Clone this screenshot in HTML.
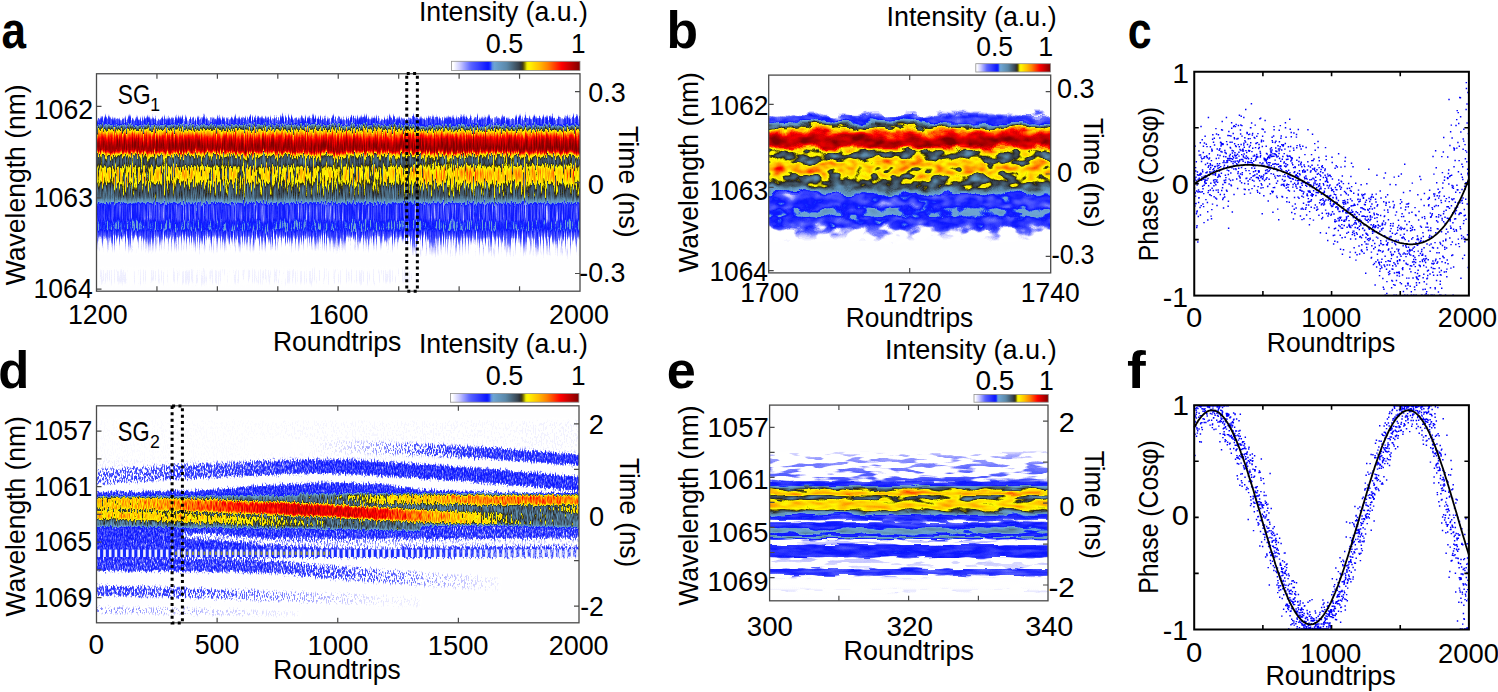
<!DOCTYPE html><html><head><meta charset="utf-8"><style>html,body{margin:0;padding:0;background:#fff;overflow:hidden}svg{display:block}</style></head><body><svg width="1498" height="692" viewBox="0 0 1498 692" font-family="'Liberation Sans', sans-serif"><rect width="100%" height="100%" fill="#fff"/><defs><linearGradient id="gA1" x1="0" y1="0" x2="0" y2="1"><stop offset="0.0777" stop-color="rgb(0,0,0)"/><stop offset="0.2360" stop-color="rgb(0,0,0)"/><stop offset="0.2399" stop-color="rgb(10,10,10)"/><stop offset="0.2476" stop-color="rgb(38,38,38)"/><stop offset="0.2534" stop-color="rgb(66,66,66)"/><stop offset="0.2593" stop-color="rgb(71,71,71)"/><stop offset="0.2709" stop-color="rgb(71,71,71)"/><stop offset="0.2768" stop-color="rgb(84,84,84)"/><stop offset="0.2826" stop-color="rgb(112,112,112)"/><stop offset="0.2884" stop-color="rgb(128,128,128)"/><stop offset="0.2942" stop-color="rgb(143,143,143)"/><stop offset="0.2981" stop-color="rgb(153,153,153)"/><stop offset="0.3039" stop-color="rgb(168,168,168)"/><stop offset="0.3156" stop-color="rgb(199,199,199)"/><stop offset="0.3311" stop-color="rgb(224,224,224)"/><stop offset="0.3467" stop-color="rgb(240,240,240)"/><stop offset="0.3622" stop-color="rgb(247,247,247)"/><stop offset="0.3758" stop-color="rgb(237,237,237)"/><stop offset="0.3836" stop-color="rgb(204,204,204)"/><stop offset="0.3894" stop-color="rgb(168,168,168)"/><stop offset="0.3952" stop-color="rgb(150,150,150)"/><stop offset="0.4010" stop-color="rgb(138,138,138)"/><stop offset="0.4088" stop-color="rgb(130,130,130)"/><stop offset="0.4244" stop-color="rgb(128,128,128)"/><stop offset="0.4341" stop-color="rgb(135,135,135)"/><stop offset="0.4438" stop-color="rgb(148,148,148)"/><stop offset="0.4593" stop-color="rgb(156,156,156)"/><stop offset="0.4904" stop-color="rgb(153,153,153)"/><stop offset="0.5040" stop-color="rgb(143,143,143)"/><stop offset="0.5137" stop-color="rgb(135,135,135)"/><stop offset="0.5292" stop-color="rgb(130,130,130)"/><stop offset="0.5487" stop-color="rgb(128,128,128)"/><stop offset="0.5603" stop-color="rgb(120,120,120)"/><stop offset="0.5700" stop-color="rgb(102,102,102)"/><stop offset="0.5797" stop-color="rgb(82,82,82)"/><stop offset="0.5875" stop-color="rgb(71,71,71)"/><stop offset="0.6419" stop-color="rgb(71,71,71)"/><stop offset="0.6535" stop-color="rgb(80,80,80)"/><stop offset="0.6807" stop-color="rgb(82,82,82)"/><stop offset="0.6924" stop-color="rgb(71,71,71)"/><stop offset="0.7079" stop-color="rgb(64,64,64)"/><stop offset="0.7234" stop-color="rgb(43,43,43)"/><stop offset="0.7429" stop-color="rgb(20,20,20)"/><stop offset="0.7623" stop-color="rgb(8,8,8)"/><stop offset="0.7778" stop-color="rgb(0,0,0)"/><stop offset="0.8283" stop-color="rgb(0,0,0)"/><stop offset="0.8439" stop-color="rgb(7,7,7)"/><stop offset="0.8827" stop-color="rgb(8,8,8)"/><stop offset="0.9060" stop-color="rgb(0,0,0)"/><stop offset="0.9223" stop-color="rgb(0,0,0)"/></linearGradient>
<linearGradient id="gA2" x1="0" y1="0" x2="0" y2="1"><stop offset="0.0777" stop-color="rgb(0,0,0)"/><stop offset="0.2340" stop-color="rgb(0,0,0)"/><stop offset="0.2379" stop-color="rgb(10,10,10)"/><stop offset="0.2457" stop-color="rgb(38,38,38)"/><stop offset="0.2515" stop-color="rgb(66,66,66)"/><stop offset="0.2573" stop-color="rgb(71,71,71)"/><stop offset="0.2709" stop-color="rgb(71,71,71)"/><stop offset="0.2787" stop-color="rgb(84,84,84)"/><stop offset="0.2845" stop-color="rgb(112,112,112)"/><stop offset="0.2903" stop-color="rgb(128,128,128)"/><stop offset="0.2962" stop-color="rgb(143,143,143)"/><stop offset="0.3001" stop-color="rgb(153,153,153)"/><stop offset="0.3059" stop-color="rgb(171,171,171)"/><stop offset="0.3175" stop-color="rgb(204,204,204)"/><stop offset="0.3331" stop-color="rgb(230,230,230)"/><stop offset="0.3506" stop-color="rgb(242,242,242)"/><stop offset="0.3661" stop-color="rgb(250,250,250)"/><stop offset="0.3777" stop-color="rgb(237,237,237)"/><stop offset="0.3855" stop-color="rgb(204,204,204)"/><stop offset="0.3913" stop-color="rgb(168,168,168)"/><stop offset="0.3972" stop-color="rgb(150,150,150)"/><stop offset="0.4030" stop-color="rgb(138,138,138)"/><stop offset="0.4108" stop-color="rgb(130,130,130)"/><stop offset="0.4244" stop-color="rgb(130,130,130)"/><stop offset="0.4341" stop-color="rgb(143,143,143)"/><stop offset="0.4438" stop-color="rgb(158,158,158)"/><stop offset="0.4593" stop-color="rgb(171,171,171)"/><stop offset="0.4865" stop-color="rgb(168,168,168)"/><stop offset="0.5001" stop-color="rgb(153,153,153)"/><stop offset="0.5098" stop-color="rgb(140,140,140)"/><stop offset="0.5253" stop-color="rgb(133,133,133)"/><stop offset="0.5487" stop-color="rgb(130,130,130)"/><stop offset="0.5603" stop-color="rgb(120,120,120)"/><stop offset="0.5700" stop-color="rgb(102,102,102)"/><stop offset="0.5797" stop-color="rgb(82,82,82)"/><stop offset="0.5875" stop-color="rgb(71,71,71)"/><stop offset="0.6419" stop-color="rgb(71,71,71)"/><stop offset="0.6535" stop-color="rgb(80,80,80)"/><stop offset="0.6807" stop-color="rgb(82,82,82)"/><stop offset="0.6924" stop-color="rgb(71,71,71)"/><stop offset="0.7118" stop-color="rgb(61,61,61)"/><stop offset="0.7312" stop-color="rgb(41,41,41)"/><stop offset="0.7545" stop-color="rgb(20,20,20)"/><stop offset="0.7778" stop-color="rgb(8,8,8)"/><stop offset="0.7972" stop-color="rgb(0,0,0)"/><stop offset="0.9223" stop-color="rgb(0,0,0)"/></linearGradient>
<filter id="fA" x="0" y="0" width="1" height="1" color-interpolation-filters="sRGB">
<feTurbulence type="fractalNoise" baseFrequency="0.9 0.03" numOctaves="2" seed="3" result="t"/>
<feColorMatrix in="t" type="matrix" values="0 0 0 0 0.5  1 0 0 0 0  0 0 0 0 0.5  0 0 0 0 1" result="dm"/>
<feDisplacementMap in="SourceGraphic" in2="dm" scale="9" xChannelSelector="B" yChannelSelector="G" result="d"/>
<feTurbulence type="fractalNoise" baseFrequency="0.9 0.06" numOctaves="2" seed="10" result="n"/>
<feColorMatrix in="n" type="matrix" values="1 0 0 0 0  1 0 0 0 0  1 0 0 0 0  0 0 0 0 1" result="ng"/>
<feComponentTransfer in="d" result="g"><feFuncR type="table" tableValues="0.000 0.003 0.005 0.008 0.010 0.012 0.015 0.018 0.020 0.023 0.026 0.029 0.033 0.037 0.042 0.046 0.050 0.055 0.060 0.065 0.070 0.087 0.103 0.118 0.130 0.128 0.125 0.122 0.120 0.112 0.103 0.095 0.087 0.078 0.070 0.068 0.067 0.065 0.063 0.062 0.060"/><feFuncG type="table" tableValues="0.000 0.003 0.005 0.008 0.010 0.012 0.015 0.018 0.020 0.023 0.026 0.029 0.033 0.037 0.042 0.046 0.050 0.055 0.060 0.065 0.070 0.087 0.103 0.118 0.130 0.128 0.125 0.122 0.120 0.112 0.103 0.095 0.087 0.078 0.070 0.068 0.067 0.065 0.063 0.062 0.060"/><feFuncB type="table" tableValues="0.000 0.003 0.005 0.008 0.010 0.012 0.015 0.018 0.020 0.023 0.026 0.029 0.033 0.037 0.042 0.046 0.050 0.055 0.060 0.065 0.070 0.087 0.103 0.118 0.130 0.128 0.125 0.122 0.120 0.112 0.103 0.095 0.087 0.078 0.070 0.068 0.067 0.065 0.063 0.062 0.060"/></feComponentTransfer>
<feComposite in="g" in2="ng" operator="arithmetic" k1="2.0" k2="-1.0" k3="0" k4="0.5" result="A"/>
<feComposite in="d" in2="A" operator="arithmetic" k1="0" k2="1" k3="2" k4="-1" result="m"/>
<feTurbulence type="fractalNoise" baseFrequency="0.9 0.03" numOctaves="2" seed="16" result="n2"/>
<feColorMatrix in="n2" type="matrix" values="1 0 0 0 0  1 0 0 0 0  1 0 0 0 0  0 0 0 0 1" result="ng2a"/>
<feComponentTransfer in="ng2a" result="ng2"><feFuncR type="table" tableValues="0 0.12 0.3 0.5 0.5 0.5"/><feFuncG type="table" tableValues="0 0.12 0.3 0.5 0.5 0.5"/><feFuncB type="table" tableValues="0 0.12 0.3 0.5 0.5 0.5"/></feComponentTransfer>
<feComponentTransfer in="d" result="g2"><feFuncR type="table" tableValues="0.000 0.050 0.100 0.150 0.200 0.212 0.225 0.238 0.250 0.209 0.169 0.128 0.086 0.043 0.000 0.000 0.000 0.000 0.000 0.000 0.000 0.000 0.000 0.000 0.000 0.000 0.000 0.000 0.000 0.000 0.000 0.000 0.000 0.000 0.000 0.000 0.000 0.000 0.000 0.000 0.000"/><feFuncG type="table" tableValues="0.000 0.050 0.100 0.150 0.200 0.212 0.225 0.238 0.250 0.209 0.169 0.128 0.086 0.043 0.000 0.000 0.000 0.000 0.000 0.000 0.000 0.000 0.000 0.000 0.000 0.000 0.000 0.000 0.000 0.000 0.000 0.000 0.000 0.000 0.000 0.000 0.000 0.000 0.000 0.000 0.000"/><feFuncB type="table" tableValues="0.000 0.050 0.100 0.150 0.200 0.212 0.225 0.238 0.250 0.209 0.169 0.128 0.086 0.043 0.000 0.000 0.000 0.000 0.000 0.000 0.000 0.000 0.000 0.000 0.000 0.000 0.000 0.000 0.000 0.000 0.000 0.000 0.000 0.000 0.000 0.000 0.000 0.000 0.000 0.000 0.000"/></feComponentTransfer>
<feComposite in="g2" in2="ng2" operator="arithmetic" k1="2.0" k2="-1.0" k3="0" k4="0.5" result="A2"/>
<feComposite in="m" in2="A2" operator="arithmetic" k1="0" k2="1" k3="2" k4="-1" result="m2"/>
<feComponentTransfer in="m2"><feFuncR type="table" tableValues="1.000 1.000 0.998 0.967 0.936 0.906 0.875 0.844 0.814 0.783 0.741 0.698 0.656 0.614 0.572 0.530 0.488 0.446 0.403 0.361 0.338 0.320 0.302 0.284 0.266 0.248 0.229 0.211 0.193 0.175 0.157 0.139 0.121 0.102 0.084 0.066 0.048 0.057 0.090 0.124 0.264 0.408 0.434 0.428 0.422 0.416 0.409 0.403 0.397 0.391 0.384 0.378 0.372 0.366 0.359 0.353 0.342 0.331 0.320 0.309 0.298 0.287 0.276 0.265 0.254 0.243 0.231 0.220 0.209 0.182 0.139 0.256 0.404 0.563 0.730 0.908 1.000 1.000 1.000 1.000 1.000 1.000 1.000 1.000 1.000 1.000 1.000 1.000 1.000 1.000 1.000 1.000 1.000 1.000 1.000 1.000 1.000 1.000 1.000 1.000 1.000 1.000 1.000 1.000 1.000 1.000 1.000 1.000 1.000 1.000 0.988 0.961 0.934 0.907 0.880 0.853 0.826 0.799 0.772 0.745 0.718 0.691 0.664 0.637 0.610 0.583 0.556 0.529 0.502"/><feFuncG type="table" tableValues="1.000 1.000 0.998 0.967 0.936 0.906 0.875 0.844 0.814 0.783 0.744 0.706 0.668 0.630 0.591 0.553 0.515 0.476 0.438 0.400 0.378 0.359 0.341 0.323 0.305 0.287 0.269 0.251 0.232 0.214 0.196 0.178 0.160 0.142 0.123 0.105 0.087 0.113 0.181 0.248 0.431 0.618 0.652 0.643 0.634 0.624 0.615 0.606 0.597 0.588 0.579 0.570 0.561 0.552 0.543 0.534 0.512 0.490 0.468 0.446 0.423 0.401 0.379 0.357 0.335 0.312 0.290 0.268 0.246 0.203 0.142 0.234 0.366 0.529 0.705 0.899 0.990 0.968 0.947 0.925 0.904 0.882 0.861 0.840 0.818 0.797 0.775 0.754 0.726 0.698 0.670 0.642 0.614 0.586 0.558 0.530 0.502 0.465 0.428 0.391 0.354 0.317 0.280 0.243 0.206 0.169 0.132 0.095 0.058 0.021 0.000 0.000 0.000 0.000 0.000 0.000 0.000 0.000 0.000 0.000 0.000 0.000 0.000 0.000 0.000 0.000 0.000 0.000 0.000"/><feFuncB type="table" tableValues="1.000 1.000 1.000 1.000 1.000 1.000 1.000 1.000 1.000 1.000 1.000 1.000 1.000 1.000 1.000 1.000 1.000 1.000 1.000 1.000 1.000 1.000 1.000 1.000 1.000 1.000 1.000 1.000 1.000 1.000 1.000 1.000 1.000 1.000 1.000 1.000 1.000 1.000 1.000 1.000 0.933 0.862 0.836 0.823 0.809 0.796 0.782 0.768 0.755 0.741 0.727 0.714 0.700 0.687 0.673 0.659 0.631 0.602 0.572 0.543 0.514 0.485 0.456 0.427 0.397 0.368 0.339 0.310 0.281 0.225 0.145 0.059 0.000 0.000 0.000 0.000 0.000 0.000 0.000 0.000 0.000 0.000 0.000 0.000 0.000 0.000 0.000 0.000 0.000 0.000 0.000 0.000 0.000 0.000 0.000 0.000 0.000 0.000 0.000 0.000 0.000 0.000 0.000 0.000 0.000 0.000 0.000 0.000 0.000 0.000 0.000 0.000 0.000 0.000 0.000 0.000 0.000 0.000 0.000 0.000 0.000 0.000 0.000 0.000 0.000 0.000 0.000 0.000 0.000"/><feFuncA type="linear" slope="0" intercept="1"/></feComponentTransfer>
</filter>
<clipPath id="cA"><rect x="96.5" y="73.75" width="483.50" height="217.45"/></clipPath>
<linearGradient id="gB" x1="0" y1="0" x2="0" y2="1"><stop offset="0.0841" stop-color="rgb(0,0,0)"/><stop offset="0.2351" stop-color="rgb(0,0,0)"/><stop offset="0.2414" stop-color="rgb(13,13,13)"/><stop offset="0.2519" stop-color="rgb(46,46,46)"/><stop offset="0.2603" stop-color="rgb(69,69,69)"/><stop offset="0.2771" stop-color="rgb(71,71,71)"/><stop offset="0.2855" stop-color="rgb(89,89,89)"/><stop offset="0.2939" stop-color="rgb(122,122,122)"/><stop offset="0.3024" stop-color="rgb(138,138,138)"/><stop offset="0.3087" stop-color="rgb(153,153,153)"/><stop offset="0.3150" stop-color="rgb(171,171,171)"/><stop offset="0.3234" stop-color="rgb(199,199,199)"/><stop offset="0.3360" stop-color="rgb(224,224,224)"/><stop offset="0.3570" stop-color="rgb(242,242,242)"/><stop offset="0.3780" stop-color="rgb(242,242,242)"/><stop offset="0.3886" stop-color="rgb(212,212,212)"/><stop offset="0.3970" stop-color="rgb(163,163,163)"/><stop offset="0.4033" stop-color="rgb(145,145,145)"/><stop offset="0.4117" stop-color="rgb(135,135,135)"/><stop offset="0.4285" stop-color="rgb(133,133,133)"/><stop offset="0.4390" stop-color="rgb(145,145,145)"/><stop offset="0.4537" stop-color="rgb(163,163,163)"/><stop offset="0.4748" stop-color="rgb(171,171,171)"/><stop offset="0.4958" stop-color="rgb(161,161,161)"/><stop offset="0.5084" stop-color="rgb(145,145,145)"/><stop offset="0.5252" stop-color="rgb(135,135,135)"/><stop offset="0.5505" stop-color="rgb(133,133,133)"/><stop offset="0.5631" stop-color="rgb(120,120,120)"/><stop offset="0.5757" stop-color="rgb(92,92,92)"/><stop offset="0.5883" stop-color="rgb(71,71,71)"/><stop offset="0.6346" stop-color="rgb(71,71,71)"/><stop offset="0.6472" stop-color="rgb(82,82,82)"/><stop offset="0.6766" stop-color="rgb(84,84,84)"/><stop offset="0.6892" stop-color="rgb(71,71,71)"/><stop offset="0.7187" stop-color="rgb(69,69,69)"/><stop offset="0.7355" stop-color="rgb(46,46,46)"/><stop offset="0.7607" stop-color="rgb(20,20,20)"/><stop offset="0.7817" stop-color="rgb(0,0,0)"/><stop offset="0.9159" stop-color="rgb(0,0,0)"/></linearGradient>
<filter id="fB" x="0" y="0" width="1" height="1" color-interpolation-filters="sRGB">
<feTurbulence type="fractalNoise" baseFrequency="0.05 0.06" numOctaves="2" seed="11" result="t"/>
<feColorMatrix in="t" type="matrix" values="0 0 0 0 0.5  1 0 0 0 0  0 0 0 0 0.5  0 0 0 0 1" result="dm"/>
<feDisplacementMap in="SourceGraphic" in2="dm" scale="12" xChannelSelector="B" yChannelSelector="G" result="d"/>
<feTurbulence type="fractalNoise" baseFrequency="0.07 0.12" numOctaves="2" seed="18" result="n"/>
<feColorMatrix in="n" type="matrix" values="1 0 0 0 0  1 0 0 0 0  1 0 0 0 0  0 0 0 0 1" result="ng"/>
<feComponentTransfer in="d" result="g"><feFuncR type="table" tableValues="0.000 0.004 0.007 0.011 0.015 0.019 0.023 0.026 0.030 0.036 0.042 0.049 0.052 0.054 0.056 0.058 0.060 0.065 0.070 0.075 0.080 0.097 0.113 0.128 0.140 0.135 0.130 0.125 0.120 0.113 0.107 0.100 0.093 0.087 0.080 0.077 0.073 0.070 0.067 0.063 0.060"/><feFuncG type="table" tableValues="0.000 0.004 0.007 0.011 0.015 0.019 0.023 0.026 0.030 0.036 0.042 0.049 0.052 0.054 0.056 0.058 0.060 0.065 0.070 0.075 0.080 0.097 0.113 0.128 0.140 0.135 0.130 0.125 0.120 0.113 0.107 0.100 0.093 0.087 0.080 0.077 0.073 0.070 0.067 0.063 0.060"/><feFuncB type="table" tableValues="0.000 0.004 0.007 0.011 0.015 0.019 0.023 0.026 0.030 0.036 0.042 0.049 0.052 0.054 0.056 0.058 0.060 0.065 0.070 0.075 0.080 0.097 0.113 0.128 0.140 0.135 0.130 0.125 0.120 0.113 0.107 0.100 0.093 0.087 0.080 0.077 0.073 0.070 0.067 0.063 0.060"/></feComponentTransfer>
<feComposite in="g" in2="ng" operator="arithmetic" k1="2.0" k2="-1.0" k3="0" k4="0.5" result="A"/>
<feComposite in="d" in2="A" operator="arithmetic" k1="0" k2="1" k3="2" k4="-1" result="m"/>
<feTurbulence type="fractalNoise" baseFrequency="0.06 0.1" numOctaves="2" seed="24" result="n2"/>
<feColorMatrix in="n2" type="matrix" values="1 0 0 0 0  1 0 0 0 0  1 0 0 0 0  0 0 0 0 1" result="ng2a"/>
<feComponentTransfer in="ng2a" result="ng2"><feFuncR type="table" tableValues="0 0.12 0.3 0.5 0.5 0.5"/><feFuncG type="table" tableValues="0 0.12 0.3 0.5 0.5 0.5"/><feFuncB type="table" tableValues="0 0.12 0.3 0.5 0.5 0.5"/></feComponentTransfer>
<feComponentTransfer in="d" result="g2"><feFuncR type="table" tableValues="0.000 0.050 0.100 0.150 0.200 0.205 0.210 0.215 0.220 0.183 0.145 0.108 0.071 0.036 0.000 0.000 0.000 0.000 0.000 0.000 0.000 0.000 0.000 0.000 0.000 0.000 0.000 0.000 0.000 0.000 0.000 0.000 0.000 0.000 0.000 0.000 0.000 0.000 0.000 0.000 0.000"/><feFuncG type="table" tableValues="0.000 0.050 0.100 0.150 0.200 0.205 0.210 0.215 0.220 0.183 0.145 0.108 0.071 0.036 0.000 0.000 0.000 0.000 0.000 0.000 0.000 0.000 0.000 0.000 0.000 0.000 0.000 0.000 0.000 0.000 0.000 0.000 0.000 0.000 0.000 0.000 0.000 0.000 0.000 0.000 0.000"/><feFuncB type="table" tableValues="0.000 0.050 0.100 0.150 0.200 0.205 0.210 0.215 0.220 0.183 0.145 0.108 0.071 0.036 0.000 0.000 0.000 0.000 0.000 0.000 0.000 0.000 0.000 0.000 0.000 0.000 0.000 0.000 0.000 0.000 0.000 0.000 0.000 0.000 0.000 0.000 0.000 0.000 0.000 0.000 0.000"/></feComponentTransfer>
<feComposite in="g2" in2="ng2" operator="arithmetic" k1="2.0" k2="-1.0" k3="0" k4="0.5" result="A2"/>
<feComposite in="m" in2="A2" operator="arithmetic" k1="0" k2="1" k3="2" k4="-1" result="m2"/>
<feComponentTransfer in="m2"><feFuncR type="table" tableValues="1.000 1.000 0.998 0.967 0.936 0.906 0.875 0.844 0.814 0.783 0.741 0.698 0.656 0.614 0.572 0.530 0.488 0.446 0.403 0.361 0.338 0.320 0.302 0.284 0.266 0.248 0.229 0.211 0.193 0.175 0.157 0.139 0.121 0.102 0.084 0.066 0.048 0.057 0.090 0.124 0.264 0.408 0.434 0.428 0.422 0.416 0.409 0.403 0.397 0.391 0.384 0.378 0.372 0.366 0.359 0.353 0.342 0.331 0.320 0.309 0.298 0.287 0.276 0.265 0.254 0.243 0.231 0.220 0.209 0.182 0.139 0.256 0.404 0.563 0.730 0.908 1.000 1.000 1.000 1.000 1.000 1.000 1.000 1.000 1.000 1.000 1.000 1.000 1.000 1.000 1.000 1.000 1.000 1.000 1.000 1.000 1.000 1.000 1.000 1.000 1.000 1.000 1.000 1.000 1.000 1.000 1.000 1.000 1.000 1.000 0.988 0.961 0.934 0.907 0.880 0.853 0.826 0.799 0.772 0.745 0.718 0.691 0.664 0.637 0.610 0.583 0.556 0.529 0.502"/><feFuncG type="table" tableValues="1.000 1.000 0.998 0.967 0.936 0.906 0.875 0.844 0.814 0.783 0.744 0.706 0.668 0.630 0.591 0.553 0.515 0.476 0.438 0.400 0.378 0.359 0.341 0.323 0.305 0.287 0.269 0.251 0.232 0.214 0.196 0.178 0.160 0.142 0.123 0.105 0.087 0.113 0.181 0.248 0.431 0.618 0.652 0.643 0.634 0.624 0.615 0.606 0.597 0.588 0.579 0.570 0.561 0.552 0.543 0.534 0.512 0.490 0.468 0.446 0.423 0.401 0.379 0.357 0.335 0.312 0.290 0.268 0.246 0.203 0.142 0.234 0.366 0.529 0.705 0.899 0.990 0.968 0.947 0.925 0.904 0.882 0.861 0.840 0.818 0.797 0.775 0.754 0.726 0.698 0.670 0.642 0.614 0.586 0.558 0.530 0.502 0.465 0.428 0.391 0.354 0.317 0.280 0.243 0.206 0.169 0.132 0.095 0.058 0.021 0.000 0.000 0.000 0.000 0.000 0.000 0.000 0.000 0.000 0.000 0.000 0.000 0.000 0.000 0.000 0.000 0.000 0.000 0.000"/><feFuncB type="table" tableValues="1.000 1.000 1.000 1.000 1.000 1.000 1.000 1.000 1.000 1.000 1.000 1.000 1.000 1.000 1.000 1.000 1.000 1.000 1.000 1.000 1.000 1.000 1.000 1.000 1.000 1.000 1.000 1.000 1.000 1.000 1.000 1.000 1.000 1.000 1.000 1.000 1.000 1.000 1.000 1.000 0.933 0.862 0.836 0.823 0.809 0.796 0.782 0.768 0.755 0.741 0.727 0.714 0.700 0.687 0.673 0.659 0.631 0.602 0.572 0.543 0.514 0.485 0.456 0.427 0.397 0.368 0.339 0.310 0.281 0.225 0.145 0.059 0.000 0.000 0.000 0.000 0.000 0.000 0.000 0.000 0.000 0.000 0.000 0.000 0.000 0.000 0.000 0.000 0.000 0.000 0.000 0.000 0.000 0.000 0.000 0.000 0.000 0.000 0.000 0.000 0.000 0.000 0.000 0.000 0.000 0.000 0.000 0.000 0.000 0.000 0.000 0.000 0.000 0.000 0.000 0.000 0.000 0.000 0.000 0.000 0.000 0.000 0.000 0.000 0.000 0.000 0.000 0.000 0.000"/><feFuncA type="linear" slope="0" intercept="1"/></feComponentTransfer>
</filter>
<clipPath id="cB"><rect x="768.7" y="75.1" width="282.00" height="197.80"/></clipPath>
<linearGradient id="gE" x1="0" y1="0" x2="0" y2="1"><stop offset="0.0849" stop-color="rgb(0,0,0)"/><stop offset="0.2796" stop-color="rgb(0,0,0)"/><stop offset="0.2860" stop-color="rgb(15,15,15)"/><stop offset="0.3093" stop-color="rgb(28,28,28)"/><stop offset="0.3390" stop-color="rgb(33,33,33)"/><stop offset="0.3687" stop-color="rgb(38,38,38)"/><stop offset="0.3941" stop-color="rgb(43,43,43)"/><stop offset="0.4069" stop-color="rgb(54,54,54)"/><stop offset="0.4132" stop-color="rgb(69,69,69)"/><stop offset="0.4260" stop-color="rgb(71,71,71)"/><stop offset="0.4302" stop-color="rgb(97,97,97)"/><stop offset="0.4366" stop-color="rgb(122,122,122)"/><stop offset="0.4429" stop-color="rgb(143,143,143)"/><stop offset="0.4493" stop-color="rgb(161,161,161)"/><stop offset="0.4578" stop-color="rgb(181,181,181)"/><stop offset="0.4641" stop-color="rgb(166,166,166)"/><stop offset="0.4684" stop-color="rgb(143,143,143)"/><stop offset="0.4748" stop-color="rgb(128,128,128)"/><stop offset="0.4811" stop-color="rgb(133,133,133)"/><stop offset="0.4875" stop-color="rgb(148,148,148)"/><stop offset="0.4960" stop-color="rgb(158,158,158)"/><stop offset="0.5087" stop-color="rgb(168,168,168)"/><stop offset="0.5214" stop-color="rgb(158,158,158)"/><stop offset="0.5299" stop-color="rgb(143,143,143)"/><stop offset="0.5363" stop-color="rgb(128,128,128)"/><stop offset="0.5426" stop-color="rgb(107,107,107)"/><stop offset="0.5511" stop-color="rgb(87,87,87)"/><stop offset="0.5554" stop-color="rgb(71,71,71)"/><stop offset="0.5681" stop-color="rgb(69,69,69)"/><stop offset="0.5787" stop-color="rgb(46,46,46)"/><stop offset="0.5872" stop-color="rgb(66,66,66)"/><stop offset="0.6020" stop-color="rgb(71,71,71)"/><stop offset="0.6105" stop-color="rgb(87,87,87)"/><stop offset="0.6232" stop-color="rgb(97,97,97)"/><stop offset="0.6317" stop-color="rgb(76,76,76)"/><stop offset="0.6381" stop-color="rgb(74,74,74)"/><stop offset="0.6466" stop-color="rgb(102,102,102)"/><stop offset="0.6551" stop-color="rgb(51,51,51)"/><stop offset="0.6614" stop-color="rgb(15,15,15)"/><stop offset="0.6720" stop-color="rgb(20,20,20)"/><stop offset="0.6805" stop-color="rgb(69,69,69)"/><stop offset="0.7293" stop-color="rgb(71,71,71)"/><stop offset="0.7357" stop-color="rgb(20,20,20)"/><stop offset="0.7739" stop-color="rgb(13,13,13)"/><stop offset="0.7824" stop-color="rgb(66,66,66)"/><stop offset="0.8057" stop-color="rgb(64,64,64)"/><stop offset="0.8142" stop-color="rgb(10,10,10)"/><stop offset="0.8227" stop-color="rgb(5,5,5)"/><stop offset="0.8439" stop-color="rgb(0,0,0)"/><stop offset="0.8651" stop-color="rgb(5,5,5)"/><stop offset="0.8736" stop-color="rgb(13,13,13)"/><stop offset="0.8821" stop-color="rgb(3,3,3)"/><stop offset="0.8948" stop-color="rgb(0,0,0)"/><stop offset="0.9151" stop-color="rgb(0,0,0)"/></linearGradient>
<filter id="fE" x="0" y="0" width="1" height="1" color-interpolation-filters="sRGB">
<feTurbulence type="fractalNoise" baseFrequency="0.04 0.1" numOctaves="2" seed="21" result="t"/>
<feColorMatrix in="t" type="matrix" values="0 0 0 0 0.5  1 0 0 0 0  0 0 0 0 0.5  0 0 0 0 1" result="dm"/>
<feDisplacementMap in="SourceGraphic" in2="dm" scale="5" xChannelSelector="B" yChannelSelector="G" result="d"/>
<feTurbulence type="fractalNoise" baseFrequency="0.05 0.18" numOctaves="2" seed="28" result="n"/>
<feColorMatrix in="n" type="matrix" values="1 0 0 0 0  1 0 0 0 0  1 0 0 0 0  0 0 0 0 1" result="ng"/>
<feComponentTransfer in="d" result="g"><feFuncR type="table" tableValues="0.000 0.003 0.005 0.008 0.010 0.012 0.015 0.018 0.020 0.023 0.026 0.029 0.042 0.056 0.071 0.085 0.100 0.100 0.100 0.100 0.100 0.095 0.090 0.085 0.080 0.080 0.080 0.080 0.080 0.078 0.077 0.075 0.073 0.072 0.070 0.068 0.067 0.065 0.063 0.062 0.060"/><feFuncG type="table" tableValues="0.000 0.003 0.005 0.008 0.010 0.012 0.015 0.018 0.020 0.023 0.026 0.029 0.042 0.056 0.071 0.085 0.100 0.100 0.100 0.100 0.100 0.095 0.090 0.085 0.080 0.080 0.080 0.080 0.080 0.078 0.077 0.075 0.073 0.072 0.070 0.068 0.067 0.065 0.063 0.062 0.060"/><feFuncB type="table" tableValues="0.000 0.003 0.005 0.008 0.010 0.012 0.015 0.018 0.020 0.023 0.026 0.029 0.042 0.056 0.071 0.085 0.100 0.100 0.100 0.100 0.100 0.095 0.090 0.085 0.080 0.080 0.080 0.080 0.080 0.078 0.077 0.075 0.073 0.072 0.070 0.068 0.067 0.065 0.063 0.062 0.060"/></feComponentTransfer>
<feComposite in="g" in2="ng" operator="arithmetic" k1="2.0" k2="-1.0" k3="0" k4="0.5" result="A"/>
<feComposite in="d" in2="A" operator="arithmetic" k1="0" k2="1" k3="2" k4="-1" result="m"/>
<feTurbulence type="fractalNoise" baseFrequency="0.04 0.22" numOctaves="2" seed="34" result="n2"/>
<feColorMatrix in="n2" type="matrix" values="1 0 0 0 0  1 0 0 0 0  1 0 0 0 0  0 0 0 0 1" result="ng2a"/>
<feComponentTransfer in="ng2a" result="ng2"><feFuncR type="table" tableValues="0 0.12 0.3 0.5 0.5 0.5"/><feFuncG type="table" tableValues="0 0.12 0.3 0.5 0.5 0.5"/><feFuncB type="table" tableValues="0 0.12 0.3 0.5 0.5 0.5"/></feComponentTransfer>
<feComponentTransfer in="d" result="g2"><feFuncR type="table" tableValues="0.000 0.090 0.180 0.240 0.300 0.306 0.312 0.319 0.260 0.180 0.080 0.055 0.030 0.015 0.000 0.000 0.000 0.000 0.000 0.000 0.000 0.000 0.000 0.000 0.000 0.000 0.000 0.000 0.000 0.000 0.000 0.000 0.000 0.000 0.000 0.000 0.000 0.000 0.000 0.000 0.000"/><feFuncG type="table" tableValues="0.000 0.090 0.180 0.240 0.300 0.306 0.312 0.319 0.260 0.180 0.080 0.055 0.030 0.015 0.000 0.000 0.000 0.000 0.000 0.000 0.000 0.000 0.000 0.000 0.000 0.000 0.000 0.000 0.000 0.000 0.000 0.000 0.000 0.000 0.000 0.000 0.000 0.000 0.000 0.000 0.000"/><feFuncB type="table" tableValues="0.000 0.090 0.180 0.240 0.300 0.306 0.312 0.319 0.260 0.180 0.080 0.055 0.030 0.015 0.000 0.000 0.000 0.000 0.000 0.000 0.000 0.000 0.000 0.000 0.000 0.000 0.000 0.000 0.000 0.000 0.000 0.000 0.000 0.000 0.000 0.000 0.000 0.000 0.000 0.000 0.000"/></feComponentTransfer>
<feComposite in="g2" in2="ng2" operator="arithmetic" k1="2.0" k2="-1.0" k3="0" k4="0.5" result="A2"/>
<feComposite in="m" in2="A2" operator="arithmetic" k1="0" k2="1" k3="2" k4="-1" result="m2"/>
<feComponentTransfer in="m2"><feFuncR type="table" tableValues="1.000 1.000 0.998 0.967 0.936 0.906 0.875 0.844 0.814 0.783 0.741 0.698 0.656 0.614 0.572 0.530 0.488 0.446 0.403 0.361 0.338 0.320 0.302 0.284 0.266 0.248 0.229 0.211 0.193 0.175 0.157 0.139 0.121 0.102 0.084 0.066 0.048 0.057 0.090 0.124 0.264 0.408 0.434 0.428 0.422 0.416 0.409 0.403 0.397 0.391 0.384 0.378 0.372 0.366 0.359 0.353 0.342 0.331 0.320 0.309 0.298 0.287 0.276 0.265 0.254 0.243 0.231 0.220 0.209 0.182 0.139 0.256 0.404 0.563 0.730 0.908 1.000 1.000 1.000 1.000 1.000 1.000 1.000 1.000 1.000 1.000 1.000 1.000 1.000 1.000 1.000 1.000 1.000 1.000 1.000 1.000 1.000 1.000 1.000 1.000 1.000 1.000 1.000 1.000 1.000 1.000 1.000 1.000 1.000 1.000 0.988 0.961 0.934 0.907 0.880 0.853 0.826 0.799 0.772 0.745 0.718 0.691 0.664 0.637 0.610 0.583 0.556 0.529 0.502"/><feFuncG type="table" tableValues="1.000 1.000 0.998 0.967 0.936 0.906 0.875 0.844 0.814 0.783 0.744 0.706 0.668 0.630 0.591 0.553 0.515 0.476 0.438 0.400 0.378 0.359 0.341 0.323 0.305 0.287 0.269 0.251 0.232 0.214 0.196 0.178 0.160 0.142 0.123 0.105 0.087 0.113 0.181 0.248 0.431 0.618 0.652 0.643 0.634 0.624 0.615 0.606 0.597 0.588 0.579 0.570 0.561 0.552 0.543 0.534 0.512 0.490 0.468 0.446 0.423 0.401 0.379 0.357 0.335 0.312 0.290 0.268 0.246 0.203 0.142 0.234 0.366 0.529 0.705 0.899 0.990 0.968 0.947 0.925 0.904 0.882 0.861 0.840 0.818 0.797 0.775 0.754 0.726 0.698 0.670 0.642 0.614 0.586 0.558 0.530 0.502 0.465 0.428 0.391 0.354 0.317 0.280 0.243 0.206 0.169 0.132 0.095 0.058 0.021 0.000 0.000 0.000 0.000 0.000 0.000 0.000 0.000 0.000 0.000 0.000 0.000 0.000 0.000 0.000 0.000 0.000 0.000 0.000"/><feFuncB type="table" tableValues="1.000 1.000 1.000 1.000 1.000 1.000 1.000 1.000 1.000 1.000 1.000 1.000 1.000 1.000 1.000 1.000 1.000 1.000 1.000 1.000 1.000 1.000 1.000 1.000 1.000 1.000 1.000 1.000 1.000 1.000 1.000 1.000 1.000 1.000 1.000 1.000 1.000 1.000 1.000 1.000 0.933 0.862 0.836 0.823 0.809 0.796 0.782 0.768 0.755 0.741 0.727 0.714 0.700 0.687 0.673 0.659 0.631 0.602 0.572 0.543 0.514 0.485 0.456 0.427 0.397 0.368 0.339 0.310 0.281 0.225 0.145 0.059 0.000 0.000 0.000 0.000 0.000 0.000 0.000 0.000 0.000 0.000 0.000 0.000 0.000 0.000 0.000 0.000 0.000 0.000 0.000 0.000 0.000 0.000 0.000 0.000 0.000 0.000 0.000 0.000 0.000 0.000 0.000 0.000 0.000 0.000 0.000 0.000 0.000 0.000 0.000 0.000 0.000 0.000 0.000 0.000 0.000 0.000 0.000 0.000 0.000 0.000 0.000 0.000 0.000 0.000 0.000 0.000 0.000"/><feFuncA type="linear" slope="0" intercept="1"/></feComponentTransfer>
</filter>
<clipPath id="cE"><rect x="769.6" y="405.1" width="278.40" height="195.70"/></clipPath>
<linearGradient id="gh1" gradientUnits="userSpaceOnUse" x1="96.5" y1="0" x2="579.0" y2="0"><stop offset="0.000" stop-color="rgb(8,8,8)"/><stop offset="0.215" stop-color="rgb(7,7,7)"/><stop offset="0.422" stop-color="rgb(0,0,0)"/><stop offset="1.000" stop-color="rgb(0,0,0)"/></linearGradient>
<linearGradient id="gh2" gradientUnits="userSpaceOnUse" x1="96.5" y1="0" x2="579.0" y2="0"><stop offset="0.000" stop-color="rgb(5,5,5)"/><stop offset="1.000" stop-color="rgb(7,7,7)"/></linearGradient>
<linearGradient id="gh3" gradientUnits="userSpaceOnUse" x1="96.5" y1="0" x2="579.0" y2="0"><stop offset="0.000" stop-color="rgb(0,0,0)"/><stop offset="0.401" stop-color="rgb(0,0,0)"/><stop offset="0.505" stop-color="rgb(12,12,12)"/><stop offset="0.608" stop-color="rgb(35,35,35)"/><stop offset="0.691" stop-color="rgb(56,56,56)"/><stop offset="0.795" stop-color="rgb(68,68,68)"/><stop offset="1.000" stop-color="rgb(71,71,71)"/></linearGradient>
<linearGradient id="gh4" gradientUnits="userSpaceOnUse" x1="96.5" y1="0" x2="579.0" y2="0"><stop offset="0.000" stop-color="rgb(51,51,51)"/><stop offset="0.215" stop-color="rgb(61,61,61)"/><stop offset="0.484" stop-color="rgb(71,71,71)"/><stop offset="1.000" stop-color="rgb(71,71,71)"/></linearGradient>
<linearGradient id="gh5" gradientUnits="userSpaceOnUse" x1="96.5" y1="0" x2="579.0" y2="0"><stop offset="0.000" stop-color="rgb(71,71,71)"/><stop offset="1.000" stop-color="rgb(71,71,71)"/></linearGradient>
<linearGradient id="gh6" gradientUnits="userSpaceOnUse" x1="96.5" y1="0" x2="579.0" y2="0"><stop offset="0.000" stop-color="rgb(71,71,71)"/><stop offset="1.000" stop-color="rgb(68,68,68)"/></linearGradient>
<linearGradient id="gh7" gradientUnits="userSpaceOnUse" x1="96.5" y1="0" x2="579.0" y2="0"><stop offset="0.000" stop-color="rgb(71,71,71)"/><stop offset="0.422" stop-color="rgb(51,51,51)"/><stop offset="0.629" stop-color="rgb(25,25,25)"/><stop offset="1.000" stop-color="rgb(12,12,12)"/></linearGradient>
<linearGradient id="gh8" gradientUnits="userSpaceOnUse" x1="96.5" y1="0" x2="579.0" y2="0"><stop offset="0.000" stop-color="rgb(71,71,71)"/><stop offset="0.670" stop-color="rgb(68,68,68)"/><stop offset="0.836" stop-color="rgb(56,56,56)"/><stop offset="1.000" stop-color="rgb(45,45,45)"/></linearGradient>
<linearGradient id="gh9" gradientUnits="userSpaceOnUse" x1="96.5" y1="0" x2="579.0" y2="0"><stop offset="0.000" stop-color="rgb(25,25,25)"/><stop offset="1.000" stop-color="rgb(25,25,25)"/></linearGradient>
<linearGradient id="gh10" gradientUnits="userSpaceOnUse" x1="96.5" y1="0" x2="579.0" y2="0"><stop offset="0.000" stop-color="rgb(25,25,25)"/><stop offset="1.000" stop-color="rgb(25,25,25)"/></linearGradient>
<linearGradient id="gh11" gradientUnits="userSpaceOnUse" x1="96.5" y1="0" x2="579.0" y2="0"><stop offset="0.000" stop-color="rgb(119,119,119)"/><stop offset="0.318" stop-color="rgb(117,117,117)"/><stop offset="0.733" stop-color="rgb(119,119,119)"/><stop offset="1.000" stop-color="rgb(114,114,114)"/></linearGradient>
<linearGradient id="gh12" gradientUnits="userSpaceOnUse" x1="96.5" y1="0" x2="579.0" y2="0"><stop offset="0.000" stop-color="rgb(168,168,168)"/><stop offset="0.173" stop-color="rgb(165,165,165)"/><stop offset="0.297" stop-color="rgb(153,153,153)"/><stop offset="0.380" stop-color="rgb(142,142,142)"/><stop offset="0.484" stop-color="rgb(127,127,127)"/><stop offset="0.670" stop-color="rgb(117,117,117)"/><stop offset="1.000" stop-color="rgb(117,117,117)"/></linearGradient>
<linearGradient id="gh13" gradientUnits="userSpaceOnUse" x1="96.5" y1="0" x2="579.0" y2="0"><stop offset="0.000" stop-color="rgb(163,163,163)"/><stop offset="0.152" stop-color="rgb(183,183,183)"/><stop offset="0.297" stop-color="rgb(214,214,214)"/><stop offset="0.422" stop-color="rgb(229,229,229)"/><stop offset="0.588" stop-color="rgb(219,219,219)"/><stop offset="0.691" stop-color="rgb(183,183,183)"/><stop offset="0.795" stop-color="rgb(158,158,158)"/><stop offset="0.878" stop-color="rgb(127,127,127)"/><stop offset="1.000" stop-color="rgb(119,119,119)"/></linearGradient>
<linearGradient id="gh14" gradientUnits="userSpaceOnUse" x1="96.5" y1="0" x2="579.0" y2="0"><stop offset="0.000" stop-color="rgb(114,114,114)"/><stop offset="0.484" stop-color="rgb(122,122,122)"/><stop offset="0.588" stop-color="rgb(153,153,153)"/><stop offset="0.691" stop-color="rgb(170,170,170)"/><stop offset="0.774" stop-color="rgb(186,186,186)"/><stop offset="0.919" stop-color="rgb(196,196,196)"/><stop offset="1.000" stop-color="rgb(183,183,183)"/></linearGradient>
<linearGradient id="gh15" gradientUnits="userSpaceOnUse" x1="96.5" y1="0" x2="579.0" y2="0"><stop offset="0.000" stop-color="rgb(114,114,114)"/><stop offset="0.919" stop-color="rgb(122,122,122)"/><stop offset="0.981" stop-color="rgb(153,153,153)"/><stop offset="1.000" stop-color="rgb(158,158,158)"/></linearGradient>
<linearGradient id="gh16" gradientUnits="userSpaceOnUse" x1="96.5" y1="0" x2="579.0" y2="0"><stop offset="0.000" stop-color="rgb(68,68,68)"/><stop offset="0.318" stop-color="rgb(68,68,68)"/><stop offset="0.525" stop-color="rgb(56,56,56)"/><stop offset="0.712" stop-color="rgb(25,25,25)"/><stop offset="0.836" stop-color="rgb(7,7,7)"/><stop offset="1.000" stop-color="rgb(0,0,0)"/></linearGradient>
<linearGradient id="gh17" gradientUnits="userSpaceOnUse" x1="96.5" y1="0" x2="579.0" y2="0"><stop offset="0.000" stop-color="rgb(63,63,63)"/><stop offset="0.173" stop-color="rgb(58,58,58)"/><stop offset="0.380" stop-color="rgb(33,33,33)"/><stop offset="0.588" stop-color="rgb(10,10,10)"/><stop offset="1.000" stop-color="rgb(0,0,0)"/></linearGradient>
<linearGradient id="gh18" gradientUnits="userSpaceOnUse" x1="96.5" y1="0" x2="579.0" y2="0"><stop offset="0.000" stop-color="rgb(33,33,33)"/><stop offset="0.215" stop-color="rgb(22,22,22)"/><stop offset="0.422" stop-color="rgb(7,7,7)"/><stop offset="1.000" stop-color="rgb(0,0,0)"/></linearGradient>
<filter id="fD" x="0" y="0" width="1" height="1" color-interpolation-filters="sRGB">
<feTurbulence type="fractalNoise" baseFrequency="0.7 0.08" numOctaves="2" seed="31" result="t"/>
<feColorMatrix in="t" type="matrix" values="0 0 0 0 0.5  1 0 0 0 0  0 0 0 0 0.5  0 0 0 0 1" result="dm"/>
<feGaussianBlur in="SourceGraphic" stdDeviation="1.0" result="bl"/>
<feDisplacementMap in="bl" in2="dm" scale="5" xChannelSelector="B" yChannelSelector="G" result="d"/>
<feTurbulence type="fractalNoise" baseFrequency="0.8 0.15" numOctaves="2" seed="38" result="n"/>
<feColorMatrix in="n" type="matrix" values="1 0 0 0 0  1 0 0 0 0  1 0 0 0 0  0 0 0 0 1" result="ng"/>
<feComponentTransfer in="d" result="g"><feFuncR type="table" tableValues="0.000 0.001 0.003 0.004 0.005 0.006 0.008 0.009 0.010 0.013 0.016 0.019 0.027 0.035 0.043 0.052 0.060 0.070 0.080 0.090 0.100 0.100 0.100 0.100 0.100 0.100 0.100 0.100 0.100 0.095 0.090 0.085 0.080 0.075 0.070 0.068 0.067 0.065 0.063 0.062 0.060"/><feFuncG type="table" tableValues="0.000 0.001 0.003 0.004 0.005 0.006 0.008 0.009 0.010 0.013 0.016 0.019 0.027 0.035 0.043 0.052 0.060 0.070 0.080 0.090 0.100 0.100 0.100 0.100 0.100 0.100 0.100 0.100 0.100 0.095 0.090 0.085 0.080 0.075 0.070 0.068 0.067 0.065 0.063 0.062 0.060"/><feFuncB type="table" tableValues="0.000 0.001 0.003 0.004 0.005 0.006 0.008 0.009 0.010 0.013 0.016 0.019 0.027 0.035 0.043 0.052 0.060 0.070 0.080 0.090 0.100 0.100 0.100 0.100 0.100 0.100 0.100 0.100 0.100 0.095 0.090 0.085 0.080 0.075 0.070 0.068 0.067 0.065 0.063 0.062 0.060"/></feComponentTransfer>
<feComposite in="g" in2="ng" operator="arithmetic" k1="2.0" k2="-1.0" k3="0" k4="0.5" result="A"/>
<feComposite in="d" in2="A" operator="arithmetic" k1="0" k2="1" k3="2" k4="-1" result="m"/>
<feTurbulence type="fractalNoise" baseFrequency="0.9 0.3" numOctaves="2" seed="44" result="n2"/>
<feColorMatrix in="n2" type="matrix" values="1 0 0 0 0  1 0 0 0 0  1 0 0 0 0  0 0 0 0 1" result="ng2a"/>
<feComponentTransfer in="ng2a" result="ng2"><feFuncR type="table" tableValues="0 0.12 0.3 0.5 0.5 0.5"/><feFuncG type="table" tableValues="0 0.12 0.3 0.5 0.5 0.5"/><feFuncB type="table" tableValues="0 0.12 0.3 0.5 0.5 0.5"/></feComponentTransfer>
<feComponentTransfer in="d" result="g2"><feFuncR type="table" tableValues="0.000 0.100 0.171 0.236 0.300 0.300 0.300 0.300 0.300 0.240 0.180 0.130 0.085 0.046 0.025 0.004 0.000 0.000 0.000 0.000 0.000 0.000 0.000 0.000 0.000 0.000 0.000 0.000 0.000 0.000 0.000 0.000 0.000 0.000 0.000 0.000 0.000 0.000 0.000 0.000 0.000"/><feFuncG type="table" tableValues="0.000 0.100 0.171 0.236 0.300 0.300 0.300 0.300 0.300 0.240 0.180 0.130 0.085 0.046 0.025 0.004 0.000 0.000 0.000 0.000 0.000 0.000 0.000 0.000 0.000 0.000 0.000 0.000 0.000 0.000 0.000 0.000 0.000 0.000 0.000 0.000 0.000 0.000 0.000 0.000 0.000"/><feFuncB type="table" tableValues="0.000 0.100 0.171 0.236 0.300 0.300 0.300 0.300 0.300 0.240 0.180 0.130 0.085 0.046 0.025 0.004 0.000 0.000 0.000 0.000 0.000 0.000 0.000 0.000 0.000 0.000 0.000 0.000 0.000 0.000 0.000 0.000 0.000 0.000 0.000 0.000 0.000 0.000 0.000 0.000 0.000"/></feComponentTransfer>
<feComposite in="g2" in2="ng2" operator="arithmetic" k1="2.0" k2="-1.0" k3="0" k4="0.5" result="A2"/>
<feComposite in="m" in2="A2" operator="arithmetic" k1="0" k2="1" k3="2" k4="-1" result="m2"/>
<feComponentTransfer in="m2"><feFuncR type="table" tableValues="1.000 1.000 0.998 0.967 0.936 0.906 0.875 0.844 0.814 0.783 0.741 0.698 0.656 0.614 0.572 0.530 0.488 0.446 0.403 0.361 0.338 0.320 0.302 0.284 0.266 0.248 0.229 0.211 0.193 0.175 0.157 0.139 0.121 0.102 0.084 0.066 0.048 0.057 0.090 0.124 0.264 0.408 0.434 0.428 0.422 0.416 0.409 0.403 0.397 0.391 0.384 0.378 0.372 0.366 0.359 0.353 0.342 0.331 0.320 0.309 0.298 0.287 0.276 0.265 0.254 0.243 0.231 0.220 0.209 0.182 0.139 0.256 0.404 0.563 0.730 0.908 1.000 1.000 1.000 1.000 1.000 1.000 1.000 1.000 1.000 1.000 1.000 1.000 1.000 1.000 1.000 1.000 1.000 1.000 1.000 1.000 1.000 1.000 1.000 1.000 1.000 1.000 1.000 1.000 1.000 1.000 1.000 1.000 1.000 1.000 0.988 0.961 0.934 0.907 0.880 0.853 0.826 0.799 0.772 0.745 0.718 0.691 0.664 0.637 0.610 0.583 0.556 0.529 0.502"/><feFuncG type="table" tableValues="1.000 1.000 0.998 0.967 0.936 0.906 0.875 0.844 0.814 0.783 0.744 0.706 0.668 0.630 0.591 0.553 0.515 0.476 0.438 0.400 0.378 0.359 0.341 0.323 0.305 0.287 0.269 0.251 0.232 0.214 0.196 0.178 0.160 0.142 0.123 0.105 0.087 0.113 0.181 0.248 0.431 0.618 0.652 0.643 0.634 0.624 0.615 0.606 0.597 0.588 0.579 0.570 0.561 0.552 0.543 0.534 0.512 0.490 0.468 0.446 0.423 0.401 0.379 0.357 0.335 0.312 0.290 0.268 0.246 0.203 0.142 0.234 0.366 0.529 0.705 0.899 0.990 0.968 0.947 0.925 0.904 0.882 0.861 0.840 0.818 0.797 0.775 0.754 0.726 0.698 0.670 0.642 0.614 0.586 0.558 0.530 0.502 0.465 0.428 0.391 0.354 0.317 0.280 0.243 0.206 0.169 0.132 0.095 0.058 0.021 0.000 0.000 0.000 0.000 0.000 0.000 0.000 0.000 0.000 0.000 0.000 0.000 0.000 0.000 0.000 0.000 0.000 0.000 0.000"/><feFuncB type="table" tableValues="1.000 1.000 1.000 1.000 1.000 1.000 1.000 1.000 1.000 1.000 1.000 1.000 1.000 1.000 1.000 1.000 1.000 1.000 1.000 1.000 1.000 1.000 1.000 1.000 1.000 1.000 1.000 1.000 1.000 1.000 1.000 1.000 1.000 1.000 1.000 1.000 1.000 1.000 1.000 1.000 0.933 0.862 0.836 0.823 0.809 0.796 0.782 0.768 0.755 0.741 0.727 0.714 0.700 0.687 0.673 0.659 0.631 0.602 0.572 0.543 0.514 0.485 0.456 0.427 0.397 0.368 0.339 0.310 0.281 0.225 0.145 0.059 0.000 0.000 0.000 0.000 0.000 0.000 0.000 0.000 0.000 0.000 0.000 0.000 0.000 0.000 0.000 0.000 0.000 0.000 0.000 0.000 0.000 0.000 0.000 0.000 0.000 0.000 0.000 0.000 0.000 0.000 0.000 0.000 0.000 0.000 0.000 0.000 0.000 0.000 0.000 0.000 0.000 0.000 0.000 0.000 0.000 0.000 0.000 0.000 0.000 0.000 0.000 0.000 0.000 0.000 0.000 0.000 0.000"/><feFuncA type="linear" slope="0" intercept="1"/></feComponentTransfer>
</filter>
<clipPath id="cD"><rect x="96.5" y="405.8" width="482.50" height="217.00"/></clipPath>
<linearGradient id="chevG" gradientUnits="userSpaceOnUse" x1="96.5" y1="0" x2="579" y2="0"><stop offset="0" stop-color="#1428ff" stop-opacity="0.95"/><stop offset="0.62" stop-color="#1428ff" stop-opacity="0.9"/><stop offset="0.8" stop-color="#2a40ff" stop-opacity="0.65"/><stop offset="1" stop-color="#3a50ff" stop-opacity="0.42"/></linearGradient>
<linearGradient id="cbA" x1="0" y1="0" x2="1" y2="0"><stop offset="0.0000" stop-color="#ffffff"/><stop offset="0.0159" stop-color="#fefeff"/><stop offset="0.0317" stop-color="#eeeeff"/><stop offset="0.0476" stop-color="#dedeff"/><stop offset="0.0635" stop-color="#cfcfff"/><stop offset="0.0794" stop-color="#bbbcff"/><stop offset="0.0952" stop-color="#a5a8ff"/><stop offset="0.1111" stop-color="#8f95ff"/><stop offset="0.1270" stop-color="#7a81ff"/><stop offset="0.1429" stop-color="#646dff"/><stop offset="0.1587" stop-color="#555fff"/><stop offset="0.1746" stop-color="#4b55ff"/><stop offset="0.1905" stop-color="#424cff"/><stop offset="0.2063" stop-color="#3943ff"/><stop offset="0.2222" stop-color="#2f39ff"/><stop offset="0.2381" stop-color="#2630ff"/><stop offset="0.2540" stop-color="#1c26ff"/><stop offset="0.2698" stop-color="#131dff"/><stop offset="0.2857" stop-color="#0b16ff"/><stop offset="0.3016" stop-color="#1c38ff"/><stop offset="0.3175" stop-color="#5b8ce2"/><stop offset="0.3333" stop-color="#6ea5d3"/><stop offset="0.3492" stop-color="#6aa0cc"/><stop offset="0.3651" stop-color="#679bc5"/><stop offset="0.3810" stop-color="#6497be"/><stop offset="0.3968" stop-color="#6192b7"/><stop offset="0.4127" stop-color="#5e8db0"/><stop offset="0.4286" stop-color="#5a88a9"/><stop offset="0.4444" stop-color="#557e9a"/><stop offset="0.4603" stop-color="#4f728b"/><stop offset="0.4762" stop-color="#49677c"/><stop offset="0.4921" stop-color="#445b6d"/><stop offset="0.5079" stop-color="#3e505e"/><stop offset="0.5238" stop-color="#38444f"/><stop offset="0.5397" stop-color="#2e3338"/><stop offset="0.5556" stop-color="#453f0d"/><stop offset="0.5714" stop-color="#958d00"/><stop offset="0.5873" stop-color="#efee00"/><stop offset="0.6032" stop-color="#fff600"/><stop offset="0.6190" stop-color="#ffeb00"/><stop offset="0.6349" stop-color="#ffe000"/><stop offset="0.6508" stop-color="#ffd400"/><stop offset="0.6667" stop-color="#ffc900"/><stop offset="0.6825" stop-color="#ffbe00"/><stop offset="0.6984" stop-color="#ffaf00"/><stop offset="0.7143" stop-color="#ffa100"/><stop offset="0.7302" stop-color="#ff9200"/><stop offset="0.7460" stop-color="#ff8400"/><stop offset="0.7619" stop-color="#ff7200"/><stop offset="0.7778" stop-color="#ff5e00"/><stop offset="0.7937" stop-color="#ff4b00"/><stop offset="0.8095" stop-color="#ff3800"/><stop offset="0.8254" stop-color="#ff2500"/><stop offset="0.8413" stop-color="#ff1200"/><stop offset="0.8571" stop-color="#fe0000"/><stop offset="0.8730" stop-color="#f00000"/><stop offset="0.8889" stop-color="#e20000"/><stop offset="0.9048" stop-color="#d40000"/><stop offset="0.9206" stop-color="#c60000"/><stop offset="0.9365" stop-color="#b80000"/><stop offset="0.9524" stop-color="#aa0000"/><stop offset="0.9683" stop-color="#9c0000"/><stop offset="0.9841" stop-color="#8e0000"/><stop offset="1.0000" stop-color="#800000"/></linearGradient>
<linearGradient id="cbB" x1="0" y1="0" x2="1" y2="0"><stop offset="0.0000" stop-color="#ffffff"/><stop offset="0.0159" stop-color="#fefeff"/><stop offset="0.0317" stop-color="#eeeeff"/><stop offset="0.0476" stop-color="#dedeff"/><stop offset="0.0635" stop-color="#cfcfff"/><stop offset="0.0794" stop-color="#bbbcff"/><stop offset="0.0952" stop-color="#a5a8ff"/><stop offset="0.1111" stop-color="#8f95ff"/><stop offset="0.1270" stop-color="#7a81ff"/><stop offset="0.1429" stop-color="#646dff"/><stop offset="0.1587" stop-color="#555fff"/><stop offset="0.1746" stop-color="#4b55ff"/><stop offset="0.1905" stop-color="#424cff"/><stop offset="0.2063" stop-color="#3943ff"/><stop offset="0.2222" stop-color="#2f39ff"/><stop offset="0.2381" stop-color="#2630ff"/><stop offset="0.2540" stop-color="#1c26ff"/><stop offset="0.2698" stop-color="#131dff"/><stop offset="0.2857" stop-color="#0b16ff"/><stop offset="0.3016" stop-color="#1c38ff"/><stop offset="0.3175" stop-color="#5b8ce2"/><stop offset="0.3333" stop-color="#6ea5d3"/><stop offset="0.3492" stop-color="#6aa0cc"/><stop offset="0.3651" stop-color="#679bc5"/><stop offset="0.3810" stop-color="#6497be"/><stop offset="0.3968" stop-color="#6192b7"/><stop offset="0.4127" stop-color="#5e8db0"/><stop offset="0.4286" stop-color="#5a88a9"/><stop offset="0.4444" stop-color="#557e9a"/><stop offset="0.4603" stop-color="#4f728b"/><stop offset="0.4762" stop-color="#49677c"/><stop offset="0.4921" stop-color="#445b6d"/><stop offset="0.5079" stop-color="#3e505e"/><stop offset="0.5238" stop-color="#38444f"/><stop offset="0.5397" stop-color="#2e3338"/><stop offset="0.5556" stop-color="#453f0d"/><stop offset="0.5714" stop-color="#958d00"/><stop offset="0.5873" stop-color="#efee00"/><stop offset="0.6032" stop-color="#fff600"/><stop offset="0.6190" stop-color="#ffeb00"/><stop offset="0.6349" stop-color="#ffe000"/><stop offset="0.6508" stop-color="#ffd400"/><stop offset="0.6667" stop-color="#ffc900"/><stop offset="0.6825" stop-color="#ffbe00"/><stop offset="0.6984" stop-color="#ffaf00"/><stop offset="0.7143" stop-color="#ffa100"/><stop offset="0.7302" stop-color="#ff9200"/><stop offset="0.7460" stop-color="#ff8400"/><stop offset="0.7619" stop-color="#ff7200"/><stop offset="0.7778" stop-color="#ff5e00"/><stop offset="0.7937" stop-color="#ff4b00"/><stop offset="0.8095" stop-color="#ff3800"/><stop offset="0.8254" stop-color="#ff2500"/><stop offset="0.8413" stop-color="#ff1200"/><stop offset="0.8571" stop-color="#fe0000"/><stop offset="0.8730" stop-color="#f00000"/><stop offset="0.8889" stop-color="#e20000"/><stop offset="0.9048" stop-color="#d40000"/><stop offset="0.9206" stop-color="#c60000"/><stop offset="0.9365" stop-color="#b80000"/><stop offset="0.9524" stop-color="#aa0000"/><stop offset="0.9683" stop-color="#9c0000"/><stop offset="0.9841" stop-color="#8e0000"/><stop offset="1.0000" stop-color="#800000"/></linearGradient>
<linearGradient id="cbD" x1="0" y1="0" x2="1" y2="0"><stop offset="0.0000" stop-color="#ffffff"/><stop offset="0.0159" stop-color="#fefeff"/><stop offset="0.0317" stop-color="#eeeeff"/><stop offset="0.0476" stop-color="#dedeff"/><stop offset="0.0635" stop-color="#cfcfff"/><stop offset="0.0794" stop-color="#bbbcff"/><stop offset="0.0952" stop-color="#a5a8ff"/><stop offset="0.1111" stop-color="#8f95ff"/><stop offset="0.1270" stop-color="#7a81ff"/><stop offset="0.1429" stop-color="#646dff"/><stop offset="0.1587" stop-color="#555fff"/><stop offset="0.1746" stop-color="#4b55ff"/><stop offset="0.1905" stop-color="#424cff"/><stop offset="0.2063" stop-color="#3943ff"/><stop offset="0.2222" stop-color="#2f39ff"/><stop offset="0.2381" stop-color="#2630ff"/><stop offset="0.2540" stop-color="#1c26ff"/><stop offset="0.2698" stop-color="#131dff"/><stop offset="0.2857" stop-color="#0b16ff"/><stop offset="0.3016" stop-color="#1c38ff"/><stop offset="0.3175" stop-color="#5b8ce2"/><stop offset="0.3333" stop-color="#6ea5d3"/><stop offset="0.3492" stop-color="#6aa0cc"/><stop offset="0.3651" stop-color="#679bc5"/><stop offset="0.3810" stop-color="#6497be"/><stop offset="0.3968" stop-color="#6192b7"/><stop offset="0.4127" stop-color="#5e8db0"/><stop offset="0.4286" stop-color="#5a88a9"/><stop offset="0.4444" stop-color="#557e9a"/><stop offset="0.4603" stop-color="#4f728b"/><stop offset="0.4762" stop-color="#49677c"/><stop offset="0.4921" stop-color="#445b6d"/><stop offset="0.5079" stop-color="#3e505e"/><stop offset="0.5238" stop-color="#38444f"/><stop offset="0.5397" stop-color="#2e3338"/><stop offset="0.5556" stop-color="#453f0d"/><stop offset="0.5714" stop-color="#958d00"/><stop offset="0.5873" stop-color="#efee00"/><stop offset="0.6032" stop-color="#fff600"/><stop offset="0.6190" stop-color="#ffeb00"/><stop offset="0.6349" stop-color="#ffe000"/><stop offset="0.6508" stop-color="#ffd400"/><stop offset="0.6667" stop-color="#ffc900"/><stop offset="0.6825" stop-color="#ffbe00"/><stop offset="0.6984" stop-color="#ffaf00"/><stop offset="0.7143" stop-color="#ffa100"/><stop offset="0.7302" stop-color="#ff9200"/><stop offset="0.7460" stop-color="#ff8400"/><stop offset="0.7619" stop-color="#ff7200"/><stop offset="0.7778" stop-color="#ff5e00"/><stop offset="0.7937" stop-color="#ff4b00"/><stop offset="0.8095" stop-color="#ff3800"/><stop offset="0.8254" stop-color="#ff2500"/><stop offset="0.8413" stop-color="#ff1200"/><stop offset="0.8571" stop-color="#fe0000"/><stop offset="0.8730" stop-color="#f00000"/><stop offset="0.8889" stop-color="#e20000"/><stop offset="0.9048" stop-color="#d40000"/><stop offset="0.9206" stop-color="#c60000"/><stop offset="0.9365" stop-color="#b80000"/><stop offset="0.9524" stop-color="#aa0000"/><stop offset="0.9683" stop-color="#9c0000"/><stop offset="0.9841" stop-color="#8e0000"/><stop offset="1.0000" stop-color="#800000"/></linearGradient>
<linearGradient id="cbE" x1="0" y1="0" x2="1" y2="0"><stop offset="0.0000" stop-color="#ffffff"/><stop offset="0.0159" stop-color="#fefeff"/><stop offset="0.0317" stop-color="#eeeeff"/><stop offset="0.0476" stop-color="#dedeff"/><stop offset="0.0635" stop-color="#cfcfff"/><stop offset="0.0794" stop-color="#bbbcff"/><stop offset="0.0952" stop-color="#a5a8ff"/><stop offset="0.1111" stop-color="#8f95ff"/><stop offset="0.1270" stop-color="#7a81ff"/><stop offset="0.1429" stop-color="#646dff"/><stop offset="0.1587" stop-color="#555fff"/><stop offset="0.1746" stop-color="#4b55ff"/><stop offset="0.1905" stop-color="#424cff"/><stop offset="0.2063" stop-color="#3943ff"/><stop offset="0.2222" stop-color="#2f39ff"/><stop offset="0.2381" stop-color="#2630ff"/><stop offset="0.2540" stop-color="#1c26ff"/><stop offset="0.2698" stop-color="#131dff"/><stop offset="0.2857" stop-color="#0b16ff"/><stop offset="0.3016" stop-color="#1c38ff"/><stop offset="0.3175" stop-color="#5b8ce2"/><stop offset="0.3333" stop-color="#6ea5d3"/><stop offset="0.3492" stop-color="#6aa0cc"/><stop offset="0.3651" stop-color="#679bc5"/><stop offset="0.3810" stop-color="#6497be"/><stop offset="0.3968" stop-color="#6192b7"/><stop offset="0.4127" stop-color="#5e8db0"/><stop offset="0.4286" stop-color="#5a88a9"/><stop offset="0.4444" stop-color="#557e9a"/><stop offset="0.4603" stop-color="#4f728b"/><stop offset="0.4762" stop-color="#49677c"/><stop offset="0.4921" stop-color="#445b6d"/><stop offset="0.5079" stop-color="#3e505e"/><stop offset="0.5238" stop-color="#38444f"/><stop offset="0.5397" stop-color="#2e3338"/><stop offset="0.5556" stop-color="#453f0d"/><stop offset="0.5714" stop-color="#958d00"/><stop offset="0.5873" stop-color="#efee00"/><stop offset="0.6032" stop-color="#fff600"/><stop offset="0.6190" stop-color="#ffeb00"/><stop offset="0.6349" stop-color="#ffe000"/><stop offset="0.6508" stop-color="#ffd400"/><stop offset="0.6667" stop-color="#ffc900"/><stop offset="0.6825" stop-color="#ffbe00"/><stop offset="0.6984" stop-color="#ffaf00"/><stop offset="0.7143" stop-color="#ffa100"/><stop offset="0.7302" stop-color="#ff9200"/><stop offset="0.7460" stop-color="#ff8400"/><stop offset="0.7619" stop-color="#ff7200"/><stop offset="0.7778" stop-color="#ff5e00"/><stop offset="0.7937" stop-color="#ff4b00"/><stop offset="0.8095" stop-color="#ff3800"/><stop offset="0.8254" stop-color="#ff2500"/><stop offset="0.8413" stop-color="#ff1200"/><stop offset="0.8571" stop-color="#fe0000"/><stop offset="0.8730" stop-color="#f00000"/><stop offset="0.8889" stop-color="#e20000"/><stop offset="0.9048" stop-color="#d40000"/><stop offset="0.9206" stop-color="#c60000"/><stop offset="0.9365" stop-color="#b80000"/><stop offset="0.9524" stop-color="#aa0000"/><stop offset="0.9683" stop-color="#9c0000"/><stop offset="0.9841" stop-color="#8e0000"/><stop offset="1.0000" stop-color="#800000"/></linearGradient></defs>
<g clip-path="url(#cA)"><g filter="url(#fA)"><rect x="86.5" y="53.75" width="325.5" height="257.45" fill="url(#gA1)"/><rect x="412" y="53.75" width="178.0" height="257.45" fill="url(#gA2)"/></g></g>
<g clip-path="url(#cB)"><g filter="url(#fB)"><rect x="758.7" y="55.099999999999994" width="302.0" height="237.79999999999998" fill="url(#gB)"/></g></g>
<g clip-path="url(#cE)"><g filter="url(#fE)"><rect x="759.6" y="385.1" width="298.4" height="235.69999999999993" fill="url(#gE)"/></g></g>
<g clip-path="url(#cD)"><g filter="url(#fD)"><rect x="86.5" y="385.8" width="502.5" height="256.99999999999994" fill="#000"/><path d="M90.0,463.0 C108.3,462.7 165.0,462.2 200.0,461.0 C235.0,459.8 283.3,456.8 300.0,456.0" fill="none" stroke="url(#gh1)" stroke-width="12" /><path d="M90.0,440.0 C125.0,440.0 216.7,440.0 300.0,440.0 C383.3,440.0 541.7,440.0 590.0,440.0" fill="none" stroke="url(#gh2)" stroke-width="40" /><path d="M250.0,446.0 C263.3,446.1 301.8,445.9 330.0,446.5 C358.2,447.1 390.7,448.2 419.0,449.5 C447.3,450.8 471.5,452.1 500.0,454.0 C528.5,455.9 575.0,459.8 590.0,461.0" fill="none" stroke="url(#gh3)" stroke-width="12" /><path d="M90.0,477.5 C107.0,476.5 153.3,473.3 192.0,471.5 C230.7,469.7 284.2,466.6 322.0,466.5 C359.8,466.4 389.3,469.2 419.0,471.0 C448.7,472.8 471.5,474.7 500.0,477.0 C528.5,479.3 575.0,483.7 590.0,485.0" fill="none" stroke="url(#gh4)" stroke-width="15.5" /><path d="M90.0,491.5 C108.3,491.2 171.7,490.6 200.0,489.5 C228.3,488.4 238.3,486.2 260.0,485.0 C281.7,483.8 310.0,482.2 330.0,482.0 C350.0,481.8 365.0,482.4 380.0,483.5 C395.0,484.6 403.3,487.2 420.0,488.5 C436.7,489.8 451.7,490.3 480.0,491.0 C508.3,491.7 571.7,492.2 590.0,492.5 L590.0,497.0 C541.7,497.0 383.3,497.0 300.0,497.0 C216.7,497.0 125.0,497.0 90.0,497.0Z" fill="url(#gh5)"/><path d="M90.0,524.0 C125.0,524.3 240.0,526.0 300.0,526.0 C360.0,526.0 401.7,525.7 450.0,524.0 C498.3,522.3 566.7,517.3 590.0,516.0 L590.0,550.0 C566.7,550.0 498.3,550.0 450.0,550.0 C401.7,550.0 360.0,550.0 300.0,550.0 C240.0,550.0 125.0,550.0 90.0,550.0Z" fill="url(#gh6)"/><path d="M250.0,541.0 C275.0,541.3 343.3,542.8 400.0,543.0 C456.7,543.2 558.3,542.2 590.0,542.0" fill="none" stroke="url(#gh7)" stroke-width="7" /><path d="M90.0,553.5 C173.3,553.5 506.7,553.5 590.0,553.5" fill="none" stroke="url(#gh8)" stroke-width="9" /><path d="M184.0,535.5 C193.3,536.1 220.7,537.6 240.0,539.0 C259.3,540.4 273.3,542.7 300.0,544.0 C326.7,545.3 383.3,546.5 400.0,547.0" fill="none" stroke="url(#gh9)" stroke-width="4" /><path d="M184.0,558.5 C193.3,559.1 220.7,560.6 240.0,562.0 C259.3,563.4 280.0,565.5 300.0,567.0 C320.0,568.5 350.0,570.3 360.0,571.0" fill="none" stroke="url(#gh10)" stroke-width="4" /><path d="M90.0,497.0 C125.0,496.8 248.3,496.5 300.0,496.0 C351.7,495.5 351.7,494.2 400.0,494.0 C448.3,493.8 558.3,494.4 590.0,494.5 L590.0,521.0 C566.7,521.7 498.3,523.8 450.0,525.0 C401.7,526.2 360.0,527.8 300.0,528.0 C240.0,528.2 125.0,526.3 90.0,526.0Z" fill="url(#gh11)"/><path d="M90.0,514.5 C103.3,514.9 142.5,515.9 170.0,517.0 C197.5,518.1 228.3,519.8 255.0,521.0 C281.7,522.2 302.5,523.2 330.0,524.0 C357.5,524.8 405.0,525.7 420.0,526.0" fill="none" stroke="url(#gh12)" stroke-width="8.5" /><path d="M90.0,503.0 C103.3,503.2 143.3,503.8 170.0,504.5 C196.7,505.2 223.3,506.4 250.0,507.5 C276.7,508.6 301.7,509.6 330.0,511.0 C358.3,512.4 395.0,514.8 420.0,516.0 C445.0,517.2 451.7,517.7 480.0,518.5 C508.3,519.3 571.7,520.6 590.0,521.0" fill="none" stroke="url(#gh13)" stroke-width="12" /><path d="M300.0,499.0 C316.7,499.0 366.7,498.8 400.0,499.0 C433.3,499.2 468.3,499.8 500.0,500.0 C531.7,500.2 575.0,500.0 590.0,500.0" fill="none" stroke="url(#gh14)" stroke-width="9.5" /><path d="M520.0,509.0 C531.7,509.2 578.3,509.8 590.0,510.0" fill="none" stroke="url(#gh15)" stroke-width="6" /><path d="M90.0,565.0 C116.7,565.2 210.0,564.8 250.0,566.0 C290.0,567.2 301.7,569.8 330.0,572.0 C358.3,574.2 391.7,577.0 420.0,579.0 C448.3,581.0 486.7,583.2 500.0,584.0" fill="none" stroke="url(#gh16)" stroke-width="14" /><path d="M90.0,590.5 C105.0,590.8 151.7,591.7 180.0,592.5 C208.3,593.3 231.7,594.4 260.0,595.5 C288.3,596.6 323.3,597.9 350.0,599.0 C376.7,600.1 408.3,601.5 420.0,602.0" fill="none" stroke="url(#gh17)" stroke-width="11" /><path d="M90.0,610.0 C108.3,610.2 165.0,610.8 200.0,611.5 C235.0,612.2 283.3,613.6 300.0,614.0" fill="none" stroke="url(#gh18)" stroke-width="7" /></g><path d="M96.5,553.3H579" stroke="url(#chevG)" stroke-width="7.5"/><path d="M97.5,553.3H579" stroke="#fff" stroke-opacity="0.92" stroke-width="7.5" stroke-dasharray="2.6 3.1"/><path d="M175,553.3H330" stroke="#c8c000" stroke-opacity="0.75" stroke-width="3.5" stroke-dasharray="1.8 3.9"/></g>
<rect x="96.5" y="73.75" width="483.50" height="217.45" fill="none" stroke="#4a4a4a" stroke-width="1.3"/>
<path d="M156.94,73.75v5M156.94,291.2v-5M217.38,73.75v5M217.38,291.2v-5M277.81,73.75v5M277.81,291.2v-5M338.25,73.75v5M338.25,291.2v-5M398.69,73.75v5M398.69,291.2v-5M459.12,73.75v5M459.12,291.2v-5M519.56,73.75v5M519.56,291.2v-5" stroke="#4a4a4a" stroke-width="1.2" fill="none"/>
<path d="M96.5,106.40h5M96.5,197.80h5M96.5,289.20h5" stroke="#4a4a4a" stroke-width="1.2" fill="none"/>
<path d="M580.0,91.70h-5M580.0,182.60h-5M580.0,273.50h-5" stroke="#4a4a4a" stroke-width="1.2" fill="none"/>
<rect x="451.5" y="61.3" width="128.50" height="9.20" fill="url(#cbA)" stroke="#909090" stroke-width="0.8"/>
<rect x="406.75" y="73.6" width="10.60" height="217.70" fill="none" stroke="#000" stroke-width="3" stroke-dasharray="3 3.36"/>
<text x="1.61" y="48.20" font-size="52" font-weight="bold" textLength="24.51" lengthAdjust="spacingAndGlyphs" >a</text>
<text x="418.94" y="21.40" font-size="27.5" textLength="168.91" lengthAdjust="spacingAndGlyphs" >Intensity (a.u.)</text>
<text x="485.74" y="53.20" font-size="27.5" textLength="37.59" lengthAdjust="spacingAndGlyphs" >0.5</text>
<text x="570.90" y="53.20" font-size="27.5" textLength="14.58" lengthAdjust="spacingAndGlyphs" >1</text>
<text x="117.82" y="104.20" font-size="27.5" textLength="32.77" lengthAdjust="spacingAndGlyphs" >SG</text>
<text x="150.36" y="111.30" font-size="19" textLength="9.80" lengthAdjust="spacingAndGlyphs" >1</text>
<text x="33.77" y="118.50" font-size="27.5" textLength="59.38" lengthAdjust="spacingAndGlyphs" >1062</text>
<text x="33.77" y="206.80" font-size="27.5" textLength="59.20" lengthAdjust="spacingAndGlyphs" >1063</text>
<text x="33.58" y="297.80" font-size="27.5" textLength="59.10" lengthAdjust="spacingAndGlyphs" >1064</text>
<text transform="translate(25.40,285.10) rotate(-90)" x="-0.12" y="0" font-size="27.5" textLength="200.85" lengthAdjust="spacingAndGlyphs">Wavelength (nm)</text>
<text x="67.96" y="324.30" font-size="27.5" textLength="59.69" lengthAdjust="spacingAndGlyphs" >1200</text>
<text x="308.86" y="324.00" font-size="27.5" textLength="59.69" lengthAdjust="spacingAndGlyphs" >1600</text>
<text x="549.05" y="324.00" font-size="27.5" textLength="59.80" lengthAdjust="spacingAndGlyphs" >2000</text>
<text x="272.92" y="351.20" font-size="27.5" textLength="128.44" lengthAdjust="spacingAndGlyphs" >Roundtrips</text>
<text x="588.15" y="101.70" font-size="27.5" textLength="37.54" lengthAdjust="spacingAndGlyphs" >0.3</text>
<text x="587.86" y="194.40" font-size="27.5" textLength="16.29" lengthAdjust="spacingAndGlyphs" >0</text>
<text x="579.31" y="282.40" font-size="27.5" textLength="46.17" lengthAdjust="spacingAndGlyphs" >-0.3</text>
<text transform="translate(619.30,126.50) rotate(90)" x="-0.59" y="0" font-size="27.5" textLength="111.74" lengthAdjust="spacingAndGlyphs">Time (ns)</text>
<rect x="768.7" y="75.1" width="282.00" height="197.80" fill="none" stroke="#4a4a4a" stroke-width="1.3"/>
<path d="M909.70,75.1v5M909.70,272.9v-5" stroke="#4a4a4a" stroke-width="1.2" fill="none"/>
<path d="M768.7,104.30h5M768.7,187.30h5M768.7,270.60h5" stroke="#4a4a4a" stroke-width="1.2" fill="none"/>
<path d="M1050.7,91.60h-5M1050.7,174.00h-5M1050.7,256.40h-5" stroke="#4a4a4a" stroke-width="1.2" fill="none"/>
<rect x="975.8" y="63.7" width="74.80" height="8.30" fill="url(#cbB)" stroke="#909090" stroke-width="0.8"/>
<text x="666.60" y="48.10" font-size="52" font-weight="bold" textLength="31.52" lengthAdjust="spacingAndGlyphs" >b</text>
<text x="886.52" y="25.90" font-size="27.5" textLength="170.14" lengthAdjust="spacingAndGlyphs" >Intensity (a.u.)</text>
<text x="976.16" y="56.20" font-size="27.5" textLength="36.85" lengthAdjust="spacingAndGlyphs" >0.5</text>
<text x="1038.35" y="56.20" font-size="27.5" textLength="14.96" lengthAdjust="spacingAndGlyphs" >1</text>
<text x="709.58" y="115.40" font-size="27.5" textLength="58.95" lengthAdjust="spacingAndGlyphs" >1062</text>
<text x="709.38" y="200.10" font-size="27.5" textLength="58.98" lengthAdjust="spacingAndGlyphs" >1063</text>
<text x="709.39" y="280.80" font-size="27.5" textLength="58.58" lengthAdjust="spacingAndGlyphs" >1064</text>
<text transform="translate(697.50,272.50) rotate(-90)" x="-0.12" y="0" font-size="27.5" textLength="200.35" lengthAdjust="spacingAndGlyphs">Wavelength (nm)</text>
<text x="740.29" y="302.30" font-size="27.5" textLength="58.74" lengthAdjust="spacingAndGlyphs" >1700</text>
<text x="882.69" y="302.30" font-size="27.5" textLength="58.85" lengthAdjust="spacingAndGlyphs" >1720</text>
<text x="1020.78" y="302.30" font-size="27.5" textLength="58.85" lengthAdjust="spacingAndGlyphs" >1740</text>
<text x="845.84" y="326.80" font-size="27.5" textLength="127.41" lengthAdjust="spacingAndGlyphs" >Roundtrips</text>
<text x="1056.95" y="98.20" font-size="27.5" textLength="37.44" lengthAdjust="spacingAndGlyphs" >0.3</text>
<text x="1056.92" y="181.80" font-size="27.5" textLength="15.36" lengthAdjust="spacingAndGlyphs" >0</text>
<text x="1051.39" y="264.10" font-size="27.5" textLength="42.90" lengthAdjust="spacingAndGlyphs" >-0.3</text>
<text transform="translate(1083.50,118.50) rotate(90)" x="-0.58" y="0" font-size="27.5" textLength="109.69" lengthAdjust="spacingAndGlyphs">Time (ns)</text>
<rect x="96.5" y="405.8" width="482.50" height="217.00" fill="none" stroke="#4a4a4a" stroke-width="1.3"/>
<path d="M217.12,405.8v5M217.12,622.8v-5M337.75,405.8v5M337.75,622.8v-5M458.38,405.8v5M458.38,622.8v-5" stroke="#4a4a4a" stroke-width="1.2" fill="none"/>
<path d="M96.5,431.20h5M96.5,458.95h5M96.5,486.70h5M96.5,514.45h5M96.5,542.20h5M96.5,569.95h5M96.5,597.70h5" stroke="#4a4a4a" stroke-width="1.2" fill="none"/>
<path d="M579.0,423.90h-5M579.0,469.45h-5M579.0,515.00h-5M579.0,560.55h-5M579.0,606.10h-5" stroke="#4a4a4a" stroke-width="1.2" fill="none"/>
<rect x="450.5" y="393.4" width="128.40" height="8.80" fill="url(#cbD)" stroke="#909090" stroke-width="0.8"/>
<rect x="172.1" y="405.9" width="10.30" height="217.00" fill="none" stroke="#000" stroke-width="3" stroke-dasharray="3 3.36"/>
<text x="-1.68" y="387.60" font-size="52" font-weight="bold" textLength="31.03" lengthAdjust="spacingAndGlyphs" >d</text>
<text x="418.94" y="353.00" font-size="27.5" textLength="168.91" lengthAdjust="spacingAndGlyphs" >Intensity (a.u.)</text>
<text x="485.74" y="385.00" font-size="27.5" textLength="37.59" lengthAdjust="spacingAndGlyphs" >0.5</text>
<text x="570.90" y="385.00" font-size="27.5" textLength="14.58" lengthAdjust="spacingAndGlyphs" >1</text>
<text x="117.85" y="440.70" font-size="27.5" textLength="31.68" lengthAdjust="spacingAndGlyphs" >SG</text>
<text x="150.11" y="447.70" font-size="19" textLength="9.89" lengthAdjust="spacingAndGlyphs" >2</text>
<text x="34.00" y="440.40" font-size="27.5" textLength="58.32" lengthAdjust="spacingAndGlyphs" >1057</text>
<text x="34.00" y="495.90" font-size="27.5" textLength="58.27" lengthAdjust="spacingAndGlyphs" >1061</text>
<text x="34.01" y="551.40" font-size="27.5" textLength="58.09" lengthAdjust="spacingAndGlyphs" >1065</text>
<text x="34.01" y="606.90" font-size="27.5" textLength="58.23" lengthAdjust="spacingAndGlyphs" >1069</text>
<text transform="translate(24.80,616.40) rotate(-90)" x="-0.12" y="0" font-size="27.5" textLength="200.35" lengthAdjust="spacingAndGlyphs">Wavelength (nm)</text>
<text x="88.51" y="654.30" font-size="27.5" textLength="15.59" lengthAdjust="spacingAndGlyphs" >0</text>
<text x="194.73" y="654.30" font-size="27.5" textLength="44.62" lengthAdjust="spacingAndGlyphs" >500</text>
<text x="307.52" y="654.50" font-size="27.5" textLength="60.85" lengthAdjust="spacingAndGlyphs" >1000</text>
<text x="427.72" y="654.50" font-size="27.5" textLength="60.85" lengthAdjust="spacingAndGlyphs" >1500</text>
<text x="548.64" y="654.50" font-size="27.5" textLength="60.01" lengthAdjust="spacingAndGlyphs" >2000</text>
<text x="273.14" y="678.60" font-size="27.5" textLength="127.52" lengthAdjust="spacingAndGlyphs" >Roundtrips</text>
<text x="588.73" y="433.90" font-size="27.5" textLength="15.14" lengthAdjust="spacingAndGlyphs" >2</text>
<text x="588.94" y="525.80" font-size="27.5" textLength="15.12" lengthAdjust="spacingAndGlyphs" >0</text>
<text x="580.22" y="615.80" font-size="27.5" textLength="23.62" lengthAdjust="spacingAndGlyphs" >-2</text>
<text transform="translate(619.50,458.50) rotate(90)" x="-0.58" y="0" font-size="27.5" textLength="109.39" lengthAdjust="spacingAndGlyphs">Time (ns)</text>
<rect x="769.6" y="405.1" width="278.40" height="195.70" fill="none" stroke="#4a4a4a" stroke-width="1.3"/>
<path d="M838.90,405.1v5M838.90,600.8v-5M908.60,405.1v5M908.60,600.8v-5M978.40,405.1v5M978.40,600.8v-5" stroke="#4a4a4a" stroke-width="1.2" fill="none"/>
<path d="M769.6,427.30h5M769.6,452.34h5M769.6,477.38h5M769.6,502.42h5M769.6,527.46h5M769.6,552.50h5M769.6,577.54h5" stroke="#4a4a4a" stroke-width="1.2" fill="none"/>
<path d="M1048.0,421.20h-5M1048.0,462.15h-5M1048.0,503.10h-5M1048.0,544.05h-5M1048.0,585.00h-5" stroke="#4a4a4a" stroke-width="1.2" fill="none"/>
<rect x="974.0" y="394.4" width="74.30" height="7.80" fill="url(#cbE)" stroke="#909090" stroke-width="0.8"/>
<text x="666.66" y="388.20" font-size="52" font-weight="bold" textLength="29.02" lengthAdjust="spacingAndGlyphs" >e</text>
<text x="885.10" y="358.80" font-size="27.5" textLength="171.58" lengthAdjust="spacingAndGlyphs" >Intensity (a.u.)</text>
<text x="975.51" y="390.00" font-size="27.5" textLength="38.87" lengthAdjust="spacingAndGlyphs" >0.5</text>
<text x="1038.97" y="390.00" font-size="27.5" textLength="14.83" lengthAdjust="spacingAndGlyphs" >1</text>
<text x="707.61" y="437.10" font-size="27.5" textLength="61.07" lengthAdjust="spacingAndGlyphs" >1057</text>
<text x="707.61" y="489.40" font-size="27.5" textLength="61.03" lengthAdjust="spacingAndGlyphs" >1061</text>
<text x="707.62" y="541.80" font-size="27.5" textLength="60.83" lengthAdjust="spacingAndGlyphs" >1065</text>
<text x="707.61" y="591.40" font-size="27.5" textLength="60.99" lengthAdjust="spacingAndGlyphs" >1069</text>
<text transform="translate(697.60,605.60) rotate(-90)" x="-0.12" y="0" font-size="27.5" textLength="200.25" lengthAdjust="spacingAndGlyphs">Wavelength (nm)</text>
<text x="746.85" y="635.90" font-size="27.5" textLength="46.13" lengthAdjust="spacingAndGlyphs" >300</text>
<text x="886.53" y="635.90" font-size="27.5" textLength="46.66" lengthAdjust="spacingAndGlyphs" >320</text>
<text x="1025.20" y="635.90" font-size="27.5" textLength="48.23" lengthAdjust="spacingAndGlyphs" >340</text>
<text x="843.59" y="659.70" font-size="27.5" textLength="130.28" lengthAdjust="spacingAndGlyphs" >Roundtrips</text>
<text x="1058.85" y="431.80" font-size="27.5" textLength="15.99" lengthAdjust="spacingAndGlyphs" >2</text>
<text x="1059.23" y="515.60" font-size="27.5" textLength="15.24" lengthAdjust="spacingAndGlyphs" >0</text>
<text x="1048.48" y="596.70" font-size="27.5" textLength="26.41" lengthAdjust="spacingAndGlyphs" >-2</text>
<text transform="translate(1085.00,451.40) rotate(90)" x="-0.58" y="0" font-size="27.5" textLength="108.37" lengthAdjust="spacingAndGlyphs">Time (ns)</text>
<path d="M1193.5 181.1h1.45M1193.7 173.4h1.45M1193.8 188.0h1.45M1193.9 203.7h1.45M1194.1 192.4h1.45M1194.2 206.0h1.45M1194.3 179.0h1.45M1194.5 146.1h1.45M1194.6 192.9h1.45M1194.8 196.1h1.45M1194.9 167.6h1.45M1195.0 170.9h1.45M1195.2 177.2h1.45M1195.3 203.5h1.45M1195.4 180.4h1.45M1195.6 161.8h1.45M1195.7 213.7h1.45M1195.9 191.0h1.45M1196.0 227.5h1.45M1196.1 211.9h1.45M1196.3 225.8h1.45M1196.4 184.9h1.45M1196.5 210.9h1.45M1196.7 171.9h1.45M1196.8 174.6h1.45M1197.0 183.2h1.45M1197.1 242.0h1.45M1197.2 191.9h1.45M1197.4 179.4h1.45M1197.5 175.2h1.45M1197.6 216.5h1.45M1197.8 189.9h1.45M1197.9 202.4h1.45M1198.1 198.0h1.45M1198.2 151.0h1.45M1198.3 197.8h1.45M1198.5 178.2h1.45M1198.6 155.1h1.45M1198.7 191.8h1.45M1198.9 179.9h1.45M1199.0 174.2h1.45M1199.2 175.3h1.45M1199.3 207.4h1.45M1199.4 174.8h1.45M1199.6 142.7h1.45M1199.7 215.0h1.45M1199.8 155.0h1.45M1200.0 173.3h1.45M1200.1 192.1h1.45M1200.3 126.4h1.45M1200.4 157.1h1.45M1200.5 205.6h1.45M1200.7 173.9h1.45M1200.8 161.4h1.45M1200.9 180.3h1.45M1201.1 158.6h1.45M1201.2 177.0h1.45M1201.4 158.8h1.45M1201.5 139.7h1.45M1201.6 191.8h1.45M1201.8 170.0h1.45M1201.9 186.3h1.45M1202.0 171.7h1.45M1202.2 203.9h1.45M1202.3 188.8h1.45M1202.5 179.3h1.45M1202.6 152.4h1.45M1202.7 146.3h1.45M1202.9 206.6h1.45M1203.0 193.6h1.45M1203.1 158.2h1.45M1203.3 222.6h1.45M1203.4 185.2h1.45M1203.5 176.1h1.45M1203.7 143.0h1.45M1203.8 156.8h1.45M1204.0 181.4h1.45M1204.1 182.3h1.45M1204.2 179.4h1.45M1204.4 136.2h1.45M1204.5 183.5h1.45M1204.6 180.4h1.45M1204.8 164.4h1.45M1204.9 175.7h1.45M1205.1 177.5h1.45M1205.2 199.6h1.45M1205.3 172.8h1.45M1205.5 183.2h1.45M1205.6 144.3h1.45M1205.7 156.5h1.45M1205.9 172.8h1.45M1206.0 156.0h1.45M1206.2 180.2h1.45M1206.3 146.6h1.45M1206.4 171.9h1.45M1206.6 157.7h1.45M1206.7 202.5h1.45M1206.8 163.2h1.45M1207.0 211.8h1.45M1207.1 220.0h1.45M1207.3 178.5h1.45M1207.4 192.6h1.45M1207.5 167.2h1.45M1207.7 117.5h1.45M1207.8 190.7h1.45M1207.9 185.7h1.45M1208.1 165.8h1.45M1208.2 158.9h1.45M1208.4 174.7h1.45M1208.5 175.3h1.45M1208.6 153.7h1.45M1208.8 158.0h1.45M1208.9 194.6h1.45M1209.0 172.0h1.45M1209.2 169.2h1.45M1209.3 194.8h1.45M1209.5 163.7h1.45M1209.6 190.0h1.45M1209.7 146.8h1.45M1209.9 165.0h1.45M1210.0 167.4h1.45M1210.1 183.3h1.45M1210.3 172.1h1.45M1210.4 216.1h1.45M1210.6 195.6h1.45M1210.7 160.6h1.45M1210.8 218.8h1.45M1211.0 149.1h1.45M1211.1 209.6h1.45M1211.2 151.0h1.45M1211.4 188.3h1.45M1211.5 150.4h1.45M1211.7 165.4h1.45M1211.8 204.1h1.45M1211.9 139.2h1.45M1212.1 134.7h1.45M1212.2 169.6h1.45M1212.3 174.4h1.45M1212.5 171.6h1.45M1212.6 190.4h1.45M1212.8 142.3h1.45M1212.9 180.2h1.45M1213.0 168.8h1.45M1213.2 185.8h1.45M1213.3 181.9h1.45M1213.4 196.8h1.45M1213.6 138.3h1.45M1213.7 170.7h1.45M1213.8 144.9h1.45M1214.0 166.7h1.45M1214.1 182.9h1.45M1214.3 174.3h1.45M1214.4 179.6h1.45M1214.5 166.5h1.45M1214.7 175.2h1.45M1214.8 173.4h1.45M1214.9 197.9h1.45M1215.1 184.8h1.45M1215.2 128.6h1.45M1215.4 181.5h1.45M1215.5 190.1h1.45M1215.6 158.4h1.45M1215.8 134.0h1.45M1215.9 198.9h1.45M1216.0 170.5h1.45M1216.2 180.0h1.45M1216.3 205.5h1.45M1216.5 148.9h1.45M1216.6 166.0h1.45M1216.7 163.8h1.45M1216.9 182.3h1.45M1217.0 155.0h1.45M1217.1 177.3h1.45M1217.3 168.3h1.45M1217.4 189.9h1.45M1217.6 192.2h1.45M1217.7 134.8h1.45M1217.8 176.1h1.45M1218.0 158.1h1.45M1218.1 165.4h1.45M1218.2 174.4h1.45M1218.4 175.8h1.45M1218.5 150.3h1.45M1218.7 171.0h1.45M1218.8 167.6h1.45M1218.9 163.6h1.45M1219.1 137.9h1.45M1219.2 148.8h1.45M1219.3 155.4h1.45M1219.5 176.4h1.45M1219.6 194.4h1.45M1219.8 142.6h1.45M1219.9 142.2h1.45M1220.0 166.6h1.45M1220.2 151.5h1.45M1220.3 146.1h1.45M1220.4 145.0h1.45M1220.6 142.9h1.45M1220.7 173.2h1.45M1220.9 129.7h1.45M1221.0 190.5h1.45M1221.1 144.0h1.45M1221.3 152.0h1.45M1221.4 143.6h1.45M1221.5 121.5h1.45M1221.7 130.1h1.45M1221.8 187.7h1.45M1222.0 199.5h1.45M1222.1 144.6h1.45M1222.2 184.5h1.45M1222.4 162.6h1.45M1222.5 143.9h1.45M1222.6 198.0h1.45M1222.8 208.0h1.45M1222.9 156.4h1.45M1223.0 161.0h1.45M1223.2 167.2h1.45M1223.3 161.0h1.45M1223.5 180.4h1.45M1223.6 194.4h1.45M1223.7 165.2h1.45M1223.9 182.5h1.45M1224.0 197.0h1.45M1224.1 150.5h1.45M1224.3 162.6h1.45M1224.4 152.5h1.45M1224.6 182.5h1.45M1224.7 175.3h1.45M1224.8 182.5h1.45M1225.0 180.0h1.45M1225.1 156.7h1.45M1225.2 177.6h1.45M1225.4 153.2h1.45M1225.5 153.5h1.45M1225.7 117.4h1.45M1225.8 190.3h1.45M1225.9 141.6h1.45M1226.1 162.4h1.45M1226.2 160.7h1.45M1226.3 191.2h1.45M1226.5 170.1h1.45M1226.6 144.4h1.45M1226.8 161.9h1.45M1226.9 158.4h1.45M1227.0 166.2h1.45M1227.2 135.5h1.45M1227.3 160.3h1.45M1227.4 206.3h1.45M1227.6 174.4h1.45M1227.7 201.2h1.45M1227.9 228.2h1.45M1228.0 170.8h1.45M1228.1 131.5h1.45M1228.3 158.5h1.45M1228.4 184.0h1.45M1228.5 179.1h1.45M1228.7 135.6h1.45M1228.8 155.9h1.45M1229.0 158.2h1.45M1229.1 160.2h1.45M1229.2 158.3h1.45M1229.4 142.2h1.45M1229.5 147.4h1.45M1229.6 154.4h1.45M1229.8 180.5h1.45M1229.9 148.1h1.45M1230.1 172.9h1.45M1230.2 136.0h1.45M1230.3 185.0h1.45M1230.5 161.4h1.45M1230.6 158.6h1.45M1230.7 185.8h1.45M1230.9 122.8h1.45M1231.0 128.2h1.45M1231.2 167.8h1.45M1231.3 142.3h1.45M1231.4 150.4h1.45M1231.6 211.9h1.45M1231.7 152.9h1.45M1231.8 159.3h1.45M1232.0 156.3h1.45M1232.1 180.0h1.45M1232.3 163.4h1.45M1232.4 161.5h1.45M1232.5 133.5h1.45M1232.7 150.9h1.45M1232.8 157.8h1.45M1232.9 126.4h1.45M1233.1 168.9h1.45M1233.2 165.5h1.45M1233.3 194.4h1.45M1233.5 125.6h1.45M1233.6 137.8h1.45M1233.8 138.7h1.45M1233.9 143.7h1.45M1234.0 155.0h1.45M1234.2 152.8h1.45M1234.3 162.2h1.45M1234.4 161.2h1.45M1234.6 156.0h1.45M1234.7 126.6h1.45M1234.9 145.8h1.45M1235.0 158.1h1.45M1235.1 168.6h1.45M1235.3 169.6h1.45M1235.4 124.5h1.45M1235.5 146.6h1.45M1235.7 155.4h1.45M1235.8 163.7h1.45M1236.0 179.0h1.45M1236.1 158.0h1.45M1236.2 139.0h1.45M1236.4 164.4h1.45M1236.5 161.1h1.45M1236.6 160.9h1.45M1236.8 154.2h1.45M1236.9 188.5h1.45M1237.1 161.1h1.45M1237.2 173.5h1.45M1237.3 138.4h1.45M1237.5 171.8h1.45M1237.6 144.6h1.45M1237.7 125.4h1.45M1237.9 162.4h1.45M1238.0 168.2h1.45M1238.2 152.2h1.45M1238.3 156.1h1.45M1238.4 176.0h1.45M1238.6 146.7h1.45M1238.7 115.3h1.45M1238.8 161.1h1.45M1239.0 160.0h1.45M1239.1 176.9h1.45M1239.3 149.4h1.45M1239.4 180.9h1.45M1239.5 178.0h1.45M1239.7 129.9h1.45M1239.8 173.9h1.45M1239.9 133.9h1.45M1240.1 124.9h1.45M1240.2 150.4h1.45M1240.4 144.4h1.45M1240.5 116.2h1.45M1240.6 159.5h1.45M1240.8 167.4h1.45M1240.9 182.7h1.45M1241.0 154.6h1.45M1241.2 125.6h1.45M1241.3 136.1h1.45M1241.5 174.4h1.45M1241.6 172.6h1.45M1241.7 165.5h1.45M1241.9 149.4h1.45M1242.0 159.4h1.45M1242.1 150.9h1.45M1242.3 149.3h1.45M1242.4 161.2h1.45M1242.6 156.0h1.45M1242.7 151.0h1.45M1242.8 156.9h1.45M1243.0 145.0h1.45M1243.1 117.4h1.45M1243.2 143.2h1.45M1243.4 154.0h1.45M1243.5 189.1h1.45M1243.6 147.3h1.45M1243.8 194.3h1.45M1243.9 183.4h1.45M1244.1 137.8h1.45M1244.2 140.8h1.45M1244.3 158.0h1.45M1244.5 189.4h1.45M1244.6 162.5h1.45M1244.7 168.6h1.45M1244.9 142.1h1.45M1245.0 109.5h1.45M1245.2 150.6h1.45M1245.3 170.6h1.45M1245.4 178.5h1.45M1245.6 156.0h1.45M1245.7 158.5h1.45M1245.8 178.1h1.45M1246.0 152.5h1.45M1246.1 178.1h1.45M1246.3 132.5h1.45M1246.4 133.4h1.45M1246.5 133.0h1.45M1246.7 164.4h1.45M1246.8 144.5h1.45M1246.9 157.5h1.45M1247.1 162.7h1.45M1247.2 161.7h1.45M1247.4 181.0h1.45M1247.5 183.9h1.45M1247.6 138.8h1.45M1247.8 158.7h1.45M1247.9 150.5h1.45M1248.0 134.6h1.45M1248.2 189.7h1.45M1248.3 170.6h1.45M1248.5 151.3h1.45M1248.6 146.9h1.45M1248.7 162.4h1.45M1248.9 134.1h1.45M1249.0 150.6h1.45M1249.1 179.3h1.45M1249.3 173.6h1.45M1249.4 138.6h1.45M1249.6 145.5h1.45M1249.7 193.1h1.45M1249.8 127.7h1.45M1250.0 142.8h1.45M1250.1 127.8h1.45M1250.2 162.6h1.45M1250.4 160.8h1.45M1250.5 177.6h1.45M1250.7 103.8h1.45M1250.8 158.4h1.45M1250.9 122.9h1.45M1251.1 168.0h1.45M1251.2 151.6h1.45M1251.3 188.6h1.45M1251.5 162.7h1.45M1251.6 135.1h1.45M1251.8 180.2h1.45M1251.9 133.4h1.45M1252.0 148.2h1.45M1252.2 176.1h1.45M1252.3 165.1h1.45M1252.4 164.3h1.45M1252.6 156.1h1.45M1252.7 165.9h1.45M1252.8 171.8h1.45M1253.0 161.2h1.45M1253.1 175.8h1.45M1253.3 181.1h1.45M1253.4 156.1h1.45M1253.5 137.4h1.45M1253.7 186.0h1.45M1253.8 155.2h1.45M1253.9 168.3h1.45M1254.1 174.9h1.45M1254.2 138.1h1.45M1254.4 165.7h1.45M1254.5 125.1h1.45M1254.6 171.1h1.45M1254.8 147.6h1.45M1254.9 160.0h1.45M1255.0 170.6h1.45M1255.2 143.6h1.45M1255.3 158.6h1.45M1255.5 143.3h1.45M1255.6 156.5h1.45M1255.7 177.4h1.45M1255.9 157.6h1.45M1256.0 154.5h1.45M1256.1 136.3h1.45M1256.3 173.9h1.45M1256.4 156.5h1.45M1256.6 190.4h1.45M1256.7 142.6h1.45M1256.8 177.5h1.45M1257.0 192.2h1.45M1257.1 157.0h1.45M1257.2 133.6h1.45M1257.4 186.6h1.45M1257.5 177.8h1.45M1257.7 170.9h1.45M1257.8 178.7h1.45M1257.9 148.4h1.45M1258.1 172.3h1.45M1258.2 170.6h1.45M1258.3 144.4h1.45M1258.5 171.4h1.45M1258.6 147.5h1.45M1258.8 175.8h1.45M1258.9 180.7h1.45M1259.0 193.3h1.45M1259.2 118.8h1.45M1259.3 162.8h1.45M1259.4 151.5h1.45M1259.6 157.0h1.45M1259.7 153.2h1.45M1259.9 155.5h1.45M1260.0 118.1h1.45M1260.1 177.5h1.45M1260.3 188.0h1.45M1260.4 177.0h1.45M1260.5 183.6h1.45M1260.7 141.7h1.45M1260.8 140.2h1.45M1261.0 176.2h1.45M1261.1 184.9h1.45M1261.2 164.0h1.45M1261.4 128.9h1.45M1261.5 213.8h1.45M1261.6 146.4h1.45M1261.8 178.7h1.45M1261.9 136.2h1.45M1262.1 178.9h1.45M1262.2 163.0h1.45M1262.3 187.6h1.45M1262.5 177.0h1.45M1262.6 129.4h1.45M1262.7 140.9h1.45M1262.9 165.5h1.45M1263.0 175.0h1.45M1263.1 195.7h1.45M1263.3 165.5h1.45M1263.4 158.2h1.45M1263.6 159.4h1.45M1263.7 159.6h1.45M1263.8 180.4h1.45M1264.0 159.1h1.45M1264.1 158.6h1.45M1264.2 131.9h1.45M1264.4 120.4h1.45M1264.5 160.8h1.45M1264.7 173.5h1.45M1264.8 159.4h1.45M1264.9 170.4h1.45M1265.1 173.2h1.45M1265.2 159.4h1.45M1265.3 179.3h1.45M1265.5 146.2h1.45M1265.6 160.5h1.45M1265.8 153.4h1.45M1265.9 162.2h1.45M1266.0 173.2h1.45M1266.2 177.7h1.45M1266.3 163.5h1.45M1266.4 169.8h1.45M1266.6 154.1h1.45M1266.7 158.9h1.45M1266.9 186.4h1.45M1267.0 157.6h1.45M1267.1 186.1h1.45M1267.3 171.5h1.45M1267.4 165.1h1.45M1267.5 201.0h1.45M1267.7 157.4h1.45M1267.8 156.3h1.45M1268.0 162.6h1.45M1268.1 168.0h1.45M1268.2 167.0h1.45M1268.4 179.2h1.45M1268.5 165.0h1.45M1268.6 170.8h1.45M1268.8 157.9h1.45M1268.9 184.0h1.45M1269.1 155.1h1.45M1269.2 157.0h1.45M1269.3 162.8h1.45M1269.5 168.9h1.45M1269.6 149.0h1.45M1269.7 193.7h1.45M1269.9 150.9h1.45M1270.0 155.4h1.45M1270.2 154.6h1.45M1270.3 152.7h1.45M1270.4 173.6h1.45M1270.6 165.7h1.45M1270.7 147.7h1.45M1270.8 152.0h1.45M1271.0 156.5h1.45M1271.1 191.3h1.45M1271.3 150.0h1.45M1271.4 137.3h1.45M1271.5 140.6h1.45M1271.7 156.3h1.45M1271.8 192.5h1.45M1271.9 142.2h1.45M1272.1 164.2h1.45M1272.2 212.3h1.45M1272.3 153.7h1.45M1272.5 191.5h1.45M1272.6 187.6h1.45M1272.8 174.3h1.45M1272.9 136.0h1.45M1273.0 169.1h1.45M1273.2 156.3h1.45M1273.3 126.6h1.45M1273.4 129.8h1.45M1273.6 164.0h1.45M1273.7 166.9h1.45M1273.9 187.5h1.45M1274.0 176.1h1.45M1274.1 153.6h1.45M1274.3 154.3h1.45M1274.4 160.1h1.45M1274.5 142.4h1.45M1274.7 178.0h1.45M1274.8 163.7h1.45M1275.0 147.9h1.45M1275.1 150.9h1.45M1275.2 141.2h1.45M1275.4 154.8h1.45M1275.5 169.1h1.45M1275.6 155.7h1.45M1275.8 183.2h1.45M1275.9 196.1h1.45M1276.1 151.5h1.45M1276.2 164.4h1.45M1276.3 157.1h1.45M1276.5 197.6h1.45M1276.6 170.8h1.45M1276.7 175.6h1.45M1276.9 181.0h1.45M1277.0 209.1h1.45M1277.2 170.5h1.45M1277.3 145.7h1.45M1277.4 156.2h1.45M1277.6 176.1h1.45M1277.7 164.3h1.45M1277.8 148.9h1.45M1278.0 219.8h1.45M1278.1 166.8h1.45M1278.3 153.4h1.45M1278.4 150.7h1.45M1278.5 130.2h1.45M1278.7 141.7h1.45M1278.8 158.3h1.45M1278.9 158.6h1.45M1279.1 148.9h1.45M1279.2 175.7h1.45M1279.4 165.7h1.45M1279.5 146.7h1.45M1279.6 125.6h1.45M1279.8 168.3h1.45M1279.9 166.2h1.45M1280.0 161.3h1.45M1280.2 138.3h1.45M1280.3 166.0h1.45M1280.5 135.9h1.45M1280.6 185.1h1.45M1280.7 169.4h1.45M1280.9 169.7h1.45M1281.0 150.0h1.45M1281.1 144.8h1.45M1281.3 196.4h1.45M1281.4 184.5h1.45M1281.6 159.3h1.45M1281.7 179.5h1.45M1281.8 196.9h1.45M1282.0 145.4h1.45M1282.1 156.5h1.45M1282.2 156.6h1.45M1282.4 176.1h1.45M1282.5 145.9h1.45M1282.6 171.5h1.45M1282.8 144.7h1.45M1282.9 185.2h1.45M1283.1 184.2h1.45M1283.2 162.9h1.45M1283.3 181.2h1.45M1283.5 153.6h1.45M1283.6 162.0h1.45M1283.7 185.9h1.45M1283.9 165.9h1.45M1284.0 174.6h1.45M1284.2 149.1h1.45M1284.3 180.4h1.45M1284.4 176.6h1.45M1284.6 143.4h1.45M1284.7 122.8h1.45M1284.8 127.7h1.45M1285.0 166.8h1.45M1285.1 163.7h1.45M1285.3 137.3h1.45M1285.4 170.8h1.45M1285.5 188.0h1.45M1285.7 166.1h1.45M1285.8 159.4h1.45M1285.9 185.3h1.45M1286.1 201.8h1.45M1286.2 197.7h1.45M1286.4 155.4h1.45M1286.5 184.2h1.45M1286.6 171.8h1.45M1286.8 164.8h1.45M1286.9 156.6h1.45M1287.0 175.9h1.45M1287.2 159.2h1.45M1287.3 187.3h1.45M1287.5 176.7h1.45M1287.6 190.2h1.45M1287.7 146.8h1.45M1287.9 170.2h1.45M1288.0 184.6h1.45M1288.1 176.9h1.45M1288.3 174.4h1.45M1288.4 155.9h1.45M1288.6 202.2h1.45M1288.7 191.0h1.45M1288.8 177.9h1.45M1289.0 119.3h1.45M1289.1 151.1h1.45M1289.2 172.7h1.45M1289.4 156.2h1.45M1289.5 129.2h1.45M1289.7 175.4h1.45M1289.8 178.2h1.45M1289.9 146.5h1.45M1290.1 161.0h1.45M1290.2 157.5h1.45M1290.3 181.4h1.45M1290.5 132.4h1.45M1290.6 136.8h1.45M1290.8 160.0h1.45M1290.9 157.7h1.45M1291.0 212.4h1.45M1291.2 158.8h1.45M1291.3 175.6h1.45M1291.4 163.0h1.45M1291.6 158.1h1.45M1291.7 178.8h1.45M1291.8 206.1h1.45M1292.0 164.7h1.45M1292.1 187.1h1.45M1292.3 178.9h1.45M1292.4 184.5h1.45M1292.5 179.3h1.45M1292.7 219.0h1.45M1292.8 148.1h1.45M1292.9 167.6h1.45M1293.1 150.3h1.45M1293.2 132.9h1.45M1293.4 172.4h1.45M1293.5 209.3h1.45M1293.6 191.1h1.45M1293.8 197.5h1.45M1293.9 183.3h1.45M1294.0 171.7h1.45M1294.2 213.7h1.45M1294.3 166.6h1.45M1294.5 204.0h1.45M1294.6 167.6h1.45M1294.7 175.9h1.45M1294.9 180.1h1.45M1295.0 175.4h1.45M1295.1 184.8h1.45M1295.3 186.4h1.45M1295.4 208.0h1.45M1295.6 174.8h1.45M1295.7 137.1h1.45M1295.8 134.5h1.45M1296.0 147.8h1.45M1296.1 160.3h1.45M1296.2 188.3h1.45M1296.4 145.6h1.45M1296.5 175.9h1.45M1296.7 176.3h1.45M1296.8 180.8h1.45M1296.9 173.2h1.45M1297.1 183.9h1.45M1297.2 176.9h1.45M1297.3 197.1h1.45M1297.5 182.9h1.45M1297.6 129.5h1.45M1297.8 176.9h1.45M1297.9 180.4h1.45M1298.0 165.0h1.45M1298.2 161.5h1.45M1298.3 198.3h1.45M1298.4 180.1h1.45M1298.6 157.5h1.45M1298.7 170.7h1.45M1298.9 173.8h1.45M1299.0 145.0h1.45M1299.1 190.0h1.45M1299.3 174.8h1.45M1299.4 187.0h1.45M1299.5 146.6h1.45M1299.7 216.0h1.45M1299.8 190.3h1.45M1300.0 187.6h1.45M1300.1 163.6h1.45M1300.2 164.8h1.45M1300.4 149.0h1.45M1300.5 208.9h1.45M1300.6 162.2h1.45M1300.8 183.3h1.45M1300.9 190.9h1.45M1301.1 166.7h1.45M1301.2 196.2h1.45M1301.3 219.6h1.45M1301.5 185.3h1.45M1301.6 208.1h1.45M1301.7 191.1h1.45M1301.9 170.6h1.45M1302.0 171.9h1.45M1302.1 146.3h1.45M1302.3 182.4h1.45M1302.4 209.3h1.45M1302.6 193.7h1.45M1302.7 197.1h1.45M1302.8 203.2h1.45M1303.0 170.0h1.45M1303.1 191.9h1.45M1303.2 218.8h1.45M1303.4 165.0h1.45M1303.5 181.4h1.45M1303.7 172.0h1.45M1303.8 177.2h1.45M1303.9 166.6h1.45M1304.1 178.7h1.45M1304.2 154.6h1.45M1304.3 171.1h1.45M1304.5 171.8h1.45M1304.6 171.5h1.45M1304.8 209.2h1.45M1304.9 183.3h1.45M1305.0 185.3h1.45M1305.2 176.0h1.45M1305.3 207.6h1.45M1305.4 147.4h1.45M1305.6 178.3h1.45M1305.7 204.9h1.45M1305.9 215.0h1.45M1306.0 186.3h1.45M1306.1 182.6h1.45M1306.3 195.3h1.45M1306.4 179.1h1.45M1306.5 193.9h1.45M1306.7 170.0h1.45M1306.8 195.8h1.45M1307.0 182.1h1.45M1307.1 161.7h1.45M1307.2 129.7h1.45M1307.4 201.9h1.45M1307.5 191.0h1.45M1307.6 198.6h1.45M1307.8 166.0h1.45M1307.9 205.0h1.45M1308.1 191.8h1.45M1308.2 182.7h1.45M1308.3 201.9h1.45M1308.5 201.5h1.45M1308.6 191.9h1.45M1308.7 224.8h1.45M1308.9 211.6h1.45M1309.0 190.9h1.45M1309.2 179.7h1.45M1309.3 186.5h1.45M1309.4 218.6h1.45M1309.6 192.3h1.45M1309.7 167.0h1.45M1309.8 172.0h1.45M1310.0 184.8h1.45M1310.1 201.2h1.45M1310.3 170.7h1.45M1310.4 195.2h1.45M1310.5 207.2h1.45M1310.7 199.8h1.45M1310.8 154.6h1.45M1310.9 179.4h1.45M1311.1 160.6h1.45M1311.2 193.7h1.45M1311.3 165.2h1.45M1311.5 196.3h1.45M1311.6 187.5h1.45M1311.8 134.3h1.45M1311.9 169.0h1.45M1312.0 194.7h1.45M1312.2 186.4h1.45M1312.3 178.2h1.45M1312.4 160.5h1.45M1312.6 194.8h1.45M1312.7 220.1h1.45M1312.9 190.8h1.45M1313.0 184.9h1.45M1313.1 183.1h1.45M1313.3 158.9h1.45M1313.4 179.1h1.45M1313.5 169.2h1.45M1313.7 207.9h1.45M1313.8 168.3h1.45M1314.0 143.6h1.45M1314.1 170.4h1.45M1314.2 180.9h1.45M1314.4 183.0h1.45M1314.5 150.2h1.45M1314.6 205.0h1.45M1314.8 188.7h1.45M1314.9 177.2h1.45M1315.1 171.6h1.45M1315.2 195.5h1.45M1315.3 180.6h1.45M1315.5 192.5h1.45M1315.6 184.5h1.45M1315.7 189.7h1.45M1315.9 210.2h1.45M1316.0 187.7h1.45M1316.2 169.7h1.45M1316.3 206.9h1.45M1316.4 192.4h1.45M1316.6 174.2h1.45M1316.7 209.3h1.45M1316.8 184.1h1.45M1317.0 209.3h1.45M1317.1 165.1h1.45M1317.3 141.5h1.45M1317.4 147.4h1.45M1317.5 192.7h1.45M1317.7 173.5h1.45M1317.8 186.0h1.45M1317.9 186.5h1.45M1318.1 157.5h1.45M1318.2 215.3h1.45M1318.4 167.6h1.45M1318.5 189.9h1.45M1318.6 160.7h1.45M1318.8 185.4h1.45M1318.9 202.8h1.45M1319.0 183.7h1.45M1319.2 174.6h1.45M1319.3 188.8h1.45M1319.5 179.8h1.45M1319.6 200.2h1.45M1319.7 232.8h1.45M1319.9 171.7h1.45M1320.0 175.9h1.45M1320.1 187.1h1.45M1320.3 188.8h1.45M1320.4 169.4h1.45M1320.6 199.6h1.45M1320.7 204.7h1.45M1320.8 194.3h1.45M1321.0 166.7h1.45M1321.1 218.7h1.45M1321.2 166.8h1.45M1321.4 203.8h1.45M1321.5 213.2h1.45M1321.6 165.7h1.45M1321.8 193.2h1.45M1321.9 217.5h1.45M1322.1 198.6h1.45M1322.2 172.7h1.45M1322.3 167.6h1.45M1322.5 200.3h1.45M1322.6 183.6h1.45M1322.7 177.5h1.45M1322.9 205.0h1.45M1323.0 184.9h1.45M1323.2 192.8h1.45M1323.3 203.1h1.45M1323.4 202.3h1.45M1323.6 191.1h1.45M1323.7 192.0h1.45M1323.8 204.1h1.45M1324.0 201.3h1.45M1324.1 170.4h1.45M1324.3 188.6h1.45M1324.4 175.2h1.45M1324.5 168.9h1.45M1324.7 181.4h1.45M1324.8 147.6h1.45M1324.9 210.1h1.45M1325.1 177.3h1.45M1325.2 200.0h1.45M1325.4 156.3h1.45M1325.5 159.6h1.45M1325.6 233.3h1.45M1325.8 213.5h1.45M1325.9 180.7h1.45M1326.0 178.3h1.45M1326.2 179.5h1.45M1326.3 195.8h1.45M1326.5 185.4h1.45M1326.6 181.5h1.45M1326.7 196.3h1.45M1326.9 174.1h1.45M1327.0 240.4h1.45M1327.1 182.2h1.45M1327.3 215.9h1.45M1327.4 175.9h1.45M1327.6 199.9h1.45M1327.7 213.3h1.45M1327.8 188.0h1.45M1328.0 214.0h1.45M1328.1 214.1h1.45M1328.2 227.4h1.45M1328.4 196.4h1.45M1328.5 186.0h1.45M1328.7 175.5h1.45M1328.8 199.1h1.45M1328.9 175.2h1.45M1329.1 196.0h1.45M1329.2 198.4h1.45M1329.3 185.0h1.45M1329.5 175.4h1.45M1329.6 203.7h1.45M1329.8 201.8h1.45M1329.9 200.2h1.45M1330.0 195.4h1.45M1330.2 215.3h1.45M1330.3 176.6h1.45M1330.4 205.5h1.45M1330.6 188.2h1.45M1330.7 214.2h1.45M1330.9 190.5h1.45M1331.0 189.9h1.45M1331.1 206.4h1.45M1331.3 157.3h1.45M1331.4 190.6h1.45M1331.5 162.4h1.45M1331.7 179.0h1.45M1331.8 211.7h1.45M1331.9 206.2h1.45M1332.1 189.8h1.45M1332.2 197.5h1.45M1332.4 197.8h1.45M1332.5 204.7h1.45M1332.6 235.4h1.45M1332.8 203.6h1.45M1332.9 243.9h1.45M1333.0 191.8h1.45M1333.2 214.0h1.45M1333.3 213.9h1.45M1333.5 204.0h1.45M1333.6 194.2h1.45M1333.7 228.7h1.45M1333.9 235.1h1.45M1334.0 221.5h1.45M1334.1 241.3h1.45M1334.3 219.7h1.45M1334.4 168.3h1.45M1334.6 221.7h1.45M1334.7 187.4h1.45M1334.8 228.3h1.45M1335.0 194.7h1.45M1335.1 207.3h1.45M1335.2 202.1h1.45M1335.4 189.6h1.45M1335.5 165.8h1.45M1335.7 197.3h1.45M1335.8 198.8h1.45M1335.9 221.1h1.45M1336.1 189.8h1.45M1336.2 206.6h1.45M1336.3 185.0h1.45M1336.5 202.7h1.45M1336.6 166.9h1.45M1336.8 242.0h1.45M1336.9 208.1h1.45M1337.0 184.5h1.45M1337.2 209.4h1.45M1337.3 218.4h1.45M1337.4 207.9h1.45M1337.6 230.5h1.45M1337.7 200.4h1.45M1337.9 153.7h1.45M1338.0 179.9h1.45M1338.1 225.4h1.45M1338.3 220.8h1.45M1338.4 211.4h1.45M1338.5 183.2h1.45M1338.7 220.0h1.45M1338.8 217.5h1.45M1339.0 185.9h1.45M1339.1 186.4h1.45M1339.2 211.4h1.45M1339.4 226.5h1.45M1339.5 235.3h1.45M1339.6 218.3h1.45M1339.8 249.3h1.45M1339.9 189.3h1.45M1340.1 217.2h1.45M1340.2 194.9h1.45M1340.3 167.1h1.45M1340.5 181.2h1.45M1340.6 228.1h1.45M1340.7 187.5h1.45M1340.9 181.8h1.45M1341.0 220.3h1.45M1341.1 224.6h1.45M1341.3 207.7h1.45M1341.4 237.8h1.45M1341.6 176.0h1.45M1341.7 254.2h1.45M1341.8 228.2h1.45M1342.0 211.4h1.45M1342.1 210.7h1.45M1342.2 202.8h1.45M1342.4 200.8h1.45M1342.5 210.7h1.45M1342.7 183.6h1.45M1342.8 249.7h1.45M1342.9 206.7h1.45M1343.1 221.2h1.45M1343.2 204.2h1.45M1343.3 202.6h1.45M1343.5 225.5h1.45M1343.6 220.1h1.45M1343.8 191.4h1.45M1343.9 200.4h1.45M1344.0 221.2h1.45M1344.2 166.5h1.45M1344.3 161.2h1.45M1344.4 237.3h1.45M1344.6 201.9h1.45M1344.7 157.5h1.45M1344.9 192.4h1.45M1345.0 203.8h1.45M1345.1 212.6h1.45M1345.3 219.4h1.45M1345.4 212.9h1.45M1345.5 219.8h1.45M1345.7 193.8h1.45M1345.8 216.9h1.45M1346.0 217.9h1.45M1346.1 233.3h1.45M1346.2 210.2h1.45M1346.4 227.3h1.45M1346.5 213.1h1.45M1346.6 188.5h1.45M1346.8 202.2h1.45M1346.9 199.6h1.45M1347.1 202.7h1.45M1347.2 208.7h1.45M1347.3 212.6h1.45M1347.5 216.3h1.45M1347.6 195.0h1.45M1347.7 232.2h1.45M1347.9 183.4h1.45M1348.0 209.9h1.45M1348.2 225.7h1.45M1348.3 220.6h1.45M1348.4 224.5h1.45M1348.6 207.8h1.45M1348.7 225.5h1.45M1348.8 188.2h1.45M1349.0 227.0h1.45M1349.1 257.2h1.45M1349.3 226.2h1.45M1349.4 252.1h1.45M1349.5 212.5h1.45M1349.7 190.5h1.45M1349.8 198.9h1.45M1349.9 239.0h1.45M1350.1 227.5h1.45M1350.2 176.4h1.45M1350.4 205.9h1.45M1350.5 212.4h1.45M1350.6 191.3h1.45M1350.8 163.2h1.45M1350.9 186.6h1.45M1351.0 210.1h1.45M1351.2 205.8h1.45M1351.3 200.7h1.45M1351.4 225.5h1.45M1351.6 234.6h1.45M1351.7 212.3h1.45M1351.9 232.6h1.45M1352.0 214.8h1.45M1352.1 211.8h1.45M1352.3 166.7h1.45M1352.4 231.1h1.45M1352.5 216.5h1.45M1352.7 217.4h1.45M1352.8 205.4h1.45M1353.0 193.3h1.45M1353.1 224.3h1.45M1353.2 231.1h1.45M1353.4 247.7h1.45M1353.5 233.4h1.45M1353.6 204.1h1.45M1353.8 214.1h1.45M1353.9 235.5h1.45M1354.1 222.7h1.45M1354.2 214.7h1.45M1354.3 205.3h1.45M1354.5 227.5h1.45M1354.6 220.7h1.45M1354.7 252.4h1.45M1354.9 239.0h1.45M1355.0 183.3h1.45M1355.2 260.1h1.45M1355.3 223.0h1.45M1355.4 211.8h1.45M1355.6 223.9h1.45M1355.7 232.8h1.45M1355.8 217.8h1.45M1356.0 216.8h1.45M1356.1 218.4h1.45M1356.3 254.7h1.45M1356.4 220.0h1.45M1356.5 234.3h1.45M1356.7 228.2h1.45M1356.8 212.7h1.45M1356.9 204.5h1.45M1357.1 199.5h1.45M1357.2 227.6h1.45M1357.4 199.1h1.45M1357.5 194.2h1.45M1357.6 195.1h1.45M1357.8 190.1h1.45M1357.9 221.1h1.45M1358.0 221.8h1.45M1358.2 201.8h1.45M1358.3 246.0h1.45M1358.5 214.4h1.45M1358.6 229.4h1.45M1358.7 226.2h1.45M1358.9 254.0h1.45M1359.0 237.0h1.45M1359.1 219.5h1.45M1359.3 201.3h1.45M1359.4 199.4h1.45M1359.6 221.1h1.45M1359.7 223.4h1.45M1359.8 236.4h1.45M1360.0 211.7h1.45M1360.1 224.9h1.45M1360.2 207.8h1.45M1360.4 184.8h1.45M1360.5 220.9h1.45M1360.6 250.5h1.45M1360.8 237.8h1.45M1360.9 249.9h1.45M1361.1 244.8h1.45M1361.2 194.4h1.45M1361.3 216.3h1.45M1361.5 251.6h1.45M1361.6 207.9h1.45M1361.7 195.8h1.45M1361.9 228.5h1.45M1362.0 235.0h1.45M1362.2 228.3h1.45M1362.3 215.9h1.45M1362.4 208.8h1.45M1362.6 198.0h1.45M1362.7 197.5h1.45M1362.8 198.2h1.45M1363.0 194.7h1.45M1363.1 208.9h1.45M1363.3 253.2h1.45M1363.4 225.1h1.45M1363.5 216.3h1.45M1363.7 230.4h1.45M1363.8 204.4h1.45M1363.9 230.2h1.45M1364.1 241.7h1.45M1364.2 194.0h1.45M1364.4 209.8h1.45M1364.5 218.9h1.45M1364.6 204.8h1.45M1364.8 202.2h1.45M1364.9 216.8h1.45M1365.0 273.3h1.45M1365.2 237.5h1.45M1365.3 233.2h1.45M1365.5 243.9h1.45M1365.6 220.2h1.45M1365.7 200.3h1.45M1365.9 234.2h1.45M1366.0 247.4h1.45M1366.1 183.8h1.45M1366.3 233.9h1.45M1366.4 249.7h1.45M1366.6 220.2h1.45M1366.7 216.5h1.45M1366.8 239.4h1.45M1367.0 209.4h1.45M1367.1 235.2h1.45M1367.2 244.1h1.45M1367.4 222.0h1.45M1367.5 210.2h1.45M1367.7 238.6h1.45M1367.8 219.3h1.45M1367.9 228.0h1.45M1368.1 169.3h1.45M1368.2 240.6h1.45M1368.3 198.5h1.45M1368.5 227.6h1.45M1368.6 229.2h1.45M1368.8 212.2h1.45M1368.9 208.8h1.45M1369.0 201.4h1.45M1369.2 220.5h1.45M1369.3 239.3h1.45M1369.4 238.1h1.45M1369.6 217.1h1.45M1369.7 215.8h1.45M1369.9 199.5h1.45M1370.0 219.3h1.45M1370.1 206.5h1.45M1370.3 197.4h1.45M1370.4 224.8h1.45M1370.5 258.1h1.45M1370.7 252.1h1.45M1370.8 257.4h1.45M1370.9 196.5h1.45M1371.1 245.7h1.45M1371.2 203.9h1.45M1371.4 217.1h1.45M1371.5 194.4h1.45M1371.6 208.9h1.45M1371.8 231.2h1.45M1371.9 233.3h1.45M1372.0 227.7h1.45M1372.2 226.0h1.45M1372.3 240.4h1.45M1372.5 230.4h1.45M1372.6 197.2h1.45M1372.7 264.6h1.45M1372.9 224.8h1.45M1373.0 248.7h1.45M1373.1 226.5h1.45M1373.3 213.2h1.45M1373.4 231.7h1.45M1373.6 214.7h1.45M1373.7 263.5h1.45M1373.8 208.0h1.45M1374.0 243.4h1.45M1374.1 218.2h1.45M1374.2 227.4h1.45M1374.4 285.0h1.45M1374.5 247.2h1.45M1374.7 226.9h1.45M1374.8 199.2h1.45M1374.9 225.7h1.45M1375.1 226.5h1.45M1375.2 261.7h1.45M1375.3 202.0h1.45M1375.5 194.1h1.45M1375.6 231.7h1.45M1375.8 237.1h1.45M1375.9 266.9h1.45M1376.0 213.9h1.45M1376.2 175.3h1.45M1376.3 217.6h1.45M1376.4 206.0h1.45M1376.6 221.5h1.45M1376.7 254.3h1.45M1376.9 204.7h1.45M1377.0 260.0h1.45M1377.1 238.1h1.45M1377.3 227.7h1.45M1377.4 214.7h1.45M1377.5 224.9h1.45M1377.7 225.6h1.45M1377.8 250.7h1.45M1378.0 262.3h1.45M1378.1 233.0h1.45M1378.2 250.0h1.45M1378.4 263.2h1.45M1378.5 262.4h1.45M1378.6 245.5h1.45M1378.8 275.6h1.45M1378.9 264.7h1.45M1379.1 271.2h1.45M1379.2 231.2h1.45M1379.3 226.3h1.45M1379.5 191.0h1.45M1379.6 268.8h1.45M1379.7 250.8h1.45M1379.9 215.5h1.45M1380.0 240.7h1.45M1380.1 243.3h1.45M1380.3 197.9h1.45M1380.4 243.8h1.45M1380.6 262.3h1.45M1380.7 266.1h1.45M1380.8 229.0h1.45M1381.0 229.8h1.45M1381.1 267.8h1.45M1381.2 259.2h1.45M1381.4 224.9h1.45M1381.5 224.0h1.45M1381.7 251.9h1.45M1381.8 223.2h1.45M1381.9 224.4h1.45M1382.1 278.4h1.45M1382.2 244.8h1.45M1382.3 228.3h1.45M1382.5 251.1h1.45M1382.6 287.2h1.45M1382.8 244.6h1.45M1382.9 220.9h1.45M1383.0 201.8h1.45M1383.2 289.2h1.45M1383.3 177.9h1.45M1383.4 264.9h1.45M1383.6 216.5h1.45M1383.7 210.1h1.45M1383.9 216.0h1.45M1384.0 235.6h1.45M1384.1 266.4h1.45M1384.3 224.6h1.45M1384.4 256.2h1.45M1384.5 295.1h1.45M1384.7 172.9h1.45M1384.8 223.0h1.45M1385.0 196.9h1.45M1385.1 261.6h1.45M1385.2 205.2h1.45M1385.4 202.4h1.45M1385.5 203.3h1.45M1385.6 240.9h1.45M1385.8 269.2h1.45M1385.9 244.8h1.45M1386.1 293.5h1.45M1386.2 281.6h1.45M1386.3 238.7h1.45M1386.5 264.9h1.45M1386.6 245.1h1.45M1386.7 243.9h1.45M1386.9 194.7h1.45M1387.0 210.0h1.45M1387.2 242.6h1.45M1387.3 212.3h1.45M1387.4 260.7h1.45M1387.6 250.0h1.45M1387.7 219.7h1.45M1387.8 272.4h1.45M1388.0 249.0h1.45M1388.1 274.6h1.45M1388.3 239.5h1.45M1388.4 202.3h1.45M1388.5 261.1h1.45M1388.7 237.1h1.45M1388.8 264.9h1.45M1388.9 271.3h1.45M1389.1 273.6h1.45M1389.2 207.0h1.45M1389.4 184.4h1.45M1389.5 231.2h1.45M1389.6 261.2h1.45M1389.8 225.8h1.45M1389.9 251.9h1.45M1390.0 223.6h1.45M1390.2 236.4h1.45M1390.3 236.8h1.45M1390.4 228.6h1.45M1390.6 258.6h1.45M1390.7 254.3h1.45M1390.9 287.7h1.45M1391.0 255.5h1.45M1391.1 280.4h1.45M1391.3 248.1h1.45M1391.4 268.9h1.45M1391.5 242.1h1.45M1391.7 233.2h1.45M1391.8 281.1h1.45M1392.0 265.7h1.45M1392.1 269.2h1.45M1392.2 226.0h1.45M1392.4 201.4h1.45M1392.5 223.4h1.45M1392.6 254.4h1.45M1392.8 207.7h1.45M1392.9 284.6h1.45M1393.1 206.9h1.45M1393.2 262.7h1.45M1393.3 295.1h1.45M1393.5 177.1h1.45M1393.6 204.9h1.45M1393.7 272.9h1.45M1393.9 241.7h1.45M1394.0 251.8h1.45M1394.2 243.6h1.45M1394.3 285.2h1.45M1394.4 264.3h1.45M1394.6 234.3h1.45M1394.7 240.8h1.45M1394.8 215.1h1.45M1395.0 244.7h1.45M1395.1 184.8h1.45M1395.3 265.9h1.45M1395.4 240.1h1.45M1395.5 295.1h1.45M1395.7 280.5h1.45M1395.8 211.9h1.45M1395.9 272.4h1.45M1396.1 233.2h1.45M1396.2 249.1h1.45M1396.4 275.5h1.45M1396.5 256.9h1.45M1396.6 261.5h1.45M1396.8 260.8h1.45M1396.9 227.5h1.45M1397.0 230.3h1.45M1397.2 263.5h1.45M1397.3 272.5h1.45M1397.5 240.5h1.45M1397.6 250.9h1.45M1397.7 220.3h1.45M1397.9 176.2h1.45M1398.0 225.4h1.45M1398.1 249.4h1.45M1398.3 253.2h1.45M1398.4 271.9h1.45M1398.6 273.4h1.45M1398.7 276.1h1.45M1398.8 259.6h1.45M1399.0 260.5h1.45M1399.1 228.4h1.45M1399.2 259.9h1.45M1399.4 254.4h1.45M1399.5 282.6h1.45M1399.6 203.6h1.45M1399.8 235.1h1.45M1399.9 199.6h1.45M1400.1 227.1h1.45M1400.2 207.9h1.45M1400.3 256.3h1.45M1400.5 229.4h1.45M1400.6 173.9h1.45M1400.7 283.7h1.45M1400.9 216.6h1.45M1401.0 202.0h1.45M1401.2 237.8h1.45M1401.3 228.2h1.45M1401.4 213.7h1.45M1401.6 268.6h1.45M1401.7 238.0h1.45M1401.8 274.9h1.45M1402.0 269.4h1.45M1402.1 267.8h1.45M1402.3 254.1h1.45M1402.4 245.8h1.45M1402.5 236.9h1.45M1402.7 291.4h1.45M1402.8 192.4h1.45M1402.9 216.4h1.45M1403.1 229.0h1.45M1403.2 260.7h1.45M1403.4 252.9h1.45M1403.5 234.2h1.45M1403.6 238.2h1.45M1403.8 295.1h1.45M1403.9 228.5h1.45M1404.0 164.3h1.45M1404.2 295.1h1.45M1404.3 221.0h1.45M1404.5 239.6h1.45M1404.6 253.9h1.45M1404.7 209.7h1.45M1404.9 285.9h1.45M1405.0 245.7h1.45M1405.1 206.9h1.45M1405.3 256.6h1.45M1405.4 263.2h1.45M1405.6 247.2h1.45M1405.7 264.1h1.45M1405.8 204.1h1.45M1406.0 278.1h1.45M1406.1 224.4h1.45M1406.2 288.7h1.45M1406.4 230.5h1.45M1406.5 254.0h1.45M1406.7 295.1h1.45M1406.8 251.0h1.45M1406.9 283.3h1.45M1407.1 264.4h1.45M1407.2 203.9h1.45M1407.3 285.0h1.45M1407.5 283.3h1.45M1407.6 206.7h1.45M1407.8 247.3h1.45M1407.9 203.5h1.45M1408.0 240.9h1.45M1408.2 278.1h1.45M1408.3 252.9h1.45M1408.4 212.9h1.45M1408.6 221.8h1.45M1408.7 250.9h1.45M1408.9 249.4h1.45M1409.0 254.4h1.45M1409.1 268.9h1.45M1409.3 190.8h1.45M1409.4 250.7h1.45M1409.5 286.2h1.45M1409.7 265.8h1.45M1409.8 228.2h1.45M1409.9 230.8h1.45M1410.1 255.1h1.45M1410.2 271.8h1.45M1410.4 250.1h1.45M1410.5 295.1h1.45M1410.6 291.8h1.45M1410.8 225.6h1.45M1410.9 265.9h1.45M1411.0 238.9h1.45M1411.2 212.2h1.45M1411.3 230.1h1.45M1411.5 250.0h1.45M1411.6 183.1h1.45M1411.7 229.4h1.45M1411.9 261.9h1.45M1412.0 227.3h1.45M1412.1 237.6h1.45M1412.3 277.9h1.45M1412.4 248.2h1.45M1412.6 255.8h1.45M1412.7 295.1h1.45M1412.8 256.0h1.45M1413.0 259.5h1.45M1413.1 264.5h1.45M1413.2 295.1h1.45M1413.4 261.8h1.45M1413.5 251.6h1.45M1413.7 247.0h1.45M1413.8 287.0h1.45M1413.9 229.7h1.45M1414.1 289.6h1.45M1414.2 257.4h1.45M1414.3 207.6h1.45M1414.5 272.6h1.45M1414.6 266.6h1.45M1414.8 214.9h1.45M1414.9 262.5h1.45M1415.0 259.6h1.45M1415.2 242.6h1.45M1415.3 215.4h1.45M1415.4 295.1h1.45M1415.6 276.9h1.45M1415.7 282.8h1.45M1415.9 285.3h1.45M1416.0 277.7h1.45M1416.1 277.2h1.45M1416.3 239.5h1.45M1416.4 278.8h1.45M1416.5 245.3h1.45M1416.7 236.0h1.45M1416.8 273.4h1.45M1417.0 244.9h1.45M1417.1 194.8h1.45M1417.2 238.4h1.45M1417.4 270.2h1.45M1417.5 251.1h1.45M1417.6 279.4h1.45M1417.8 239.8h1.45M1417.9 220.0h1.45M1418.1 276.1h1.45M1418.2 255.6h1.45M1418.3 211.4h1.45M1418.5 265.2h1.45M1418.6 242.2h1.45M1418.7 282.7h1.45M1418.9 275.8h1.45M1419.0 265.5h1.45M1419.1 176.5h1.45M1419.3 261.6h1.45M1419.4 265.6h1.45M1419.6 266.6h1.45M1419.7 253.4h1.45M1419.8 226.1h1.45M1420.0 241.5h1.45M1420.1 179.4h1.45M1420.2 240.5h1.45M1420.4 199.4h1.45M1420.5 238.3h1.45M1420.7 227.2h1.45M1420.8 295.1h1.45M1420.9 251.5h1.45M1421.1 249.5h1.45M1421.2 255.2h1.45M1421.3 295.1h1.45M1421.5 217.4h1.45M1421.6 259.9h1.45M1421.8 261.5h1.45M1421.9 255.3h1.45M1422.0 254.3h1.45M1422.2 232.8h1.45M1422.3 289.4h1.45M1422.4 277.8h1.45M1422.6 236.4h1.45M1422.7 241.2h1.45M1422.9 258.9h1.45M1423.0 265.5h1.45M1423.1 274.3h1.45M1423.3 247.8h1.45M1423.4 205.4h1.45M1423.5 281.7h1.45M1423.7 193.5h1.45M1423.8 216.6h1.45M1424.0 260.8h1.45M1424.1 218.4h1.45M1424.2 295.1h1.45M1424.4 295.1h1.45M1424.5 289.3h1.45M1424.6 259.0h1.45M1424.8 256.0h1.45M1424.9 262.4h1.45M1425.1 241.1h1.45M1425.2 295.1h1.45M1425.3 227.2h1.45M1425.5 293.4h1.45M1425.6 267.1h1.45M1425.7 258.4h1.45M1425.9 284.1h1.45M1426.0 291.6h1.45M1426.2 278.8h1.45M1426.3 244.0h1.45M1426.4 222.9h1.45M1426.6 223.7h1.45M1426.7 278.1h1.45M1426.8 270.9h1.45M1427.0 275.4h1.45M1427.1 227.2h1.45M1427.3 295.1h1.45M1427.4 199.2h1.45M1427.5 259.7h1.45M1427.7 270.2h1.45M1427.8 230.4h1.45M1427.9 205.8h1.45M1428.1 230.1h1.45M1428.2 204.8h1.45M1428.4 237.2h1.45M1428.5 198.2h1.45M1428.6 197.5h1.45M1428.8 245.1h1.45M1428.9 190.3h1.45M1429.0 235.5h1.45M1429.2 238.1h1.45M1429.3 274.0h1.45M1429.4 251.3h1.45M1429.6 213.1h1.45M1429.7 287.8h1.45M1429.9 217.3h1.45M1430.0 228.0h1.45M1430.1 230.4h1.45M1430.3 295.1h1.45M1430.4 243.9h1.45M1430.5 216.7h1.45M1430.7 267.4h1.45M1430.8 236.5h1.45M1431.0 295.1h1.45M1431.1 215.2h1.45M1431.2 263.4h1.45M1431.4 207.6h1.45M1431.5 295.1h1.45M1431.6 213.8h1.45M1431.8 247.5h1.45M1431.9 209.3h1.45M1432.1 272.3h1.45M1432.2 261.0h1.45M1432.3 156.4h1.45M1432.5 268.5h1.45M1432.6 263.9h1.45M1432.7 248.0h1.45M1432.9 275.3h1.45M1433.0 193.9h1.45M1433.2 174.1h1.45M1433.3 263.3h1.45M1433.4 295.1h1.45M1433.6 193.9h1.45M1433.7 196.0h1.45M1433.8 206.5h1.45M1434.0 193.9h1.45M1434.1 268.6h1.45M1434.3 242.6h1.45M1434.4 287.6h1.45M1434.5 288.7h1.45M1434.7 199.5h1.45M1434.8 260.8h1.45M1434.9 150.8h1.45M1435.1 232.7h1.45M1435.2 259.3h1.45M1435.4 205.4h1.45M1435.5 167.7h1.45M1435.6 216.7h1.45M1435.8 280.4h1.45M1435.9 220.7h1.45M1436.0 182.8h1.45M1436.2 252.8h1.45M1436.3 263.3h1.45M1436.5 195.7h1.45M1436.6 228.6h1.45M1436.7 275.3h1.45M1436.9 247.9h1.45M1437.0 261.9h1.45M1437.1 222.0h1.45M1437.3 228.9h1.45M1437.4 189.3h1.45M1437.6 205.8h1.45M1437.7 292.0h1.45M1437.8 217.0h1.45M1438.0 198.1h1.45M1438.1 214.8h1.45M1438.2 192.7h1.45M1438.4 252.8h1.45M1438.5 268.0h1.45M1438.7 195.9h1.45M1438.8 272.1h1.45M1438.9 295.1h1.45M1439.1 191.7h1.45M1439.2 258.6h1.45M1439.3 242.4h1.45M1439.5 284.3h1.45M1439.6 281.3h1.45M1439.7 274.7h1.45M1439.9 243.9h1.45M1440.0 215.5h1.45M1440.2 295.1h1.45M1440.3 200.4h1.45M1440.4 275.1h1.45M1440.6 270.5h1.45M1440.7 202.6h1.45M1440.8 231.7h1.45M1441.0 288.3h1.45M1441.1 156.6h1.45M1441.3 261.8h1.45M1441.4 218.4h1.45M1441.5 220.1h1.45M1441.7 172.6h1.45M1441.8 245.4h1.45M1441.9 187.9h1.45M1442.1 256.2h1.45M1442.2 183.0h1.45M1442.4 256.8h1.45M1442.5 240.9h1.45M1442.6 151.9h1.45M1442.8 213.8h1.45M1442.9 221.8h1.45M1443.0 137.5h1.45M1443.2 211.4h1.45M1443.3 257.8h1.45M1443.5 196.3h1.45M1443.6 271.9h1.45M1443.7 180.3h1.45M1443.9 176.9h1.45M1444.0 247.3h1.45M1444.1 249.3h1.45M1444.3 217.2h1.45M1444.4 223.4h1.45M1444.6 262.8h1.45M1444.7 201.0h1.45M1444.8 295.1h1.45M1445.0 240.5h1.45M1445.1 239.2h1.45M1445.2 233.8h1.45M1445.4 210.3h1.45M1445.5 271.7h1.45M1445.7 198.6h1.45M1445.8 229.3h1.45M1445.9 248.0h1.45M1446.1 276.7h1.45M1446.2 269.1h1.45M1446.3 206.7h1.45M1446.5 259.9h1.45M1446.6 218.2h1.45M1446.8 177.7h1.45M1446.9 178.6h1.45M1447.0 157.0h1.45M1447.2 232.0h1.45M1447.3 263.8h1.45M1447.4 178.1h1.45M1447.6 206.8h1.45M1447.7 173.4h1.45M1447.9 218.5h1.45M1448.0 170.0h1.45M1448.1 184.0h1.45M1448.3 99.5h1.45M1448.4 197.5h1.45M1448.5 201.6h1.45M1448.7 208.1h1.45M1448.8 208.2h1.45M1448.9 176.6h1.45M1449.1 238.0h1.45M1449.2 145.4h1.45M1449.4 220.9h1.45M1449.5 175.8h1.45M1449.6 219.8h1.45M1449.8 226.1h1.45M1449.9 131.7h1.45M1450.0 228.2h1.45M1450.2 268.1h1.45M1450.3 244.6h1.45M1450.5 227.9h1.45M1450.6 125.1h1.45M1450.7 205.7h1.45M1450.9 175.2h1.45M1451.0 255.5h1.45M1451.1 198.9h1.45M1451.3 185.4h1.45M1451.4 138.0h1.45M1451.6 242.0h1.45M1451.7 187.5h1.45M1451.8 199.8h1.45M1452.0 255.0h1.45M1452.1 212.8h1.45M1452.2 222.8h1.45M1452.4 295.1h1.45M1452.5 186.1h1.45M1452.7 188.3h1.45M1452.8 229.2h1.45M1452.9 266.9h1.45M1453.1 147.9h1.45M1453.2 198.8h1.45M1453.3 166.8h1.45M1453.5 149.9h1.45M1453.6 231.3h1.45M1453.8 148.6h1.45M1453.9 219.0h1.45M1454.0 211.2h1.45M1454.2 211.9h1.45M1454.3 208.1h1.45M1454.4 160.4h1.45M1454.6 202.2h1.45M1454.7 213.8h1.45M1454.9 218.7h1.45M1455.0 192.2h1.45M1455.1 244.5h1.45M1455.3 125.5h1.45M1455.4 208.2h1.45M1455.5 229.7h1.45M1455.7 210.4h1.45M1455.8 231.1h1.45M1456.0 119.6h1.45M1456.1 148.1h1.45M1456.2 185.2h1.45M1456.4 206.3h1.45M1456.5 110.6h1.45M1456.6 189.8h1.45M1456.8 206.9h1.45M1456.9 190.1h1.45M1457.1 189.7h1.45M1457.2 142.4h1.45M1457.3 203.0h1.45M1457.5 112.6h1.45M1457.6 239.1h1.45M1457.7 171.8h1.45M1457.9 243.6h1.45M1458.0 123.5h1.45M1458.2 214.5h1.45M1458.3 202.7h1.45M1458.4 160.6h1.45M1458.6 146.2h1.45M1458.7 246.6h1.45M1458.8 213.8h1.45M1459.0 97.4h1.45M1459.1 192.6h1.45M1459.2 202.5h1.45M1459.4 212.7h1.45M1459.5 226.7h1.45M1459.7 97.8h1.45M1459.8 228.7h1.45M1459.9 116.7h1.45M1460.1 131.9h1.45M1460.2 278.2h1.45M1460.3 200.7h1.45M1460.5 213.3h1.45M1460.6 174.2h1.45M1460.8 235.4h1.45M1460.9 200.8h1.45M1461.0 238.5h1.45M1461.2 164.3h1.45M1461.3 189.4h1.45M1461.4 200.2h1.45M1461.6 177.3h1.45M1461.7 203.2h1.45M1461.9 258.5h1.45M1462.0 166.7h1.45M1462.1 179.5h1.45M1462.3 198.0h1.45M1462.4 149.2h1.45M1462.5 139.0h1.45M1462.7 237.0h1.45M1462.8 223.4h1.45M1463.0 141.1h1.45M1463.1 129.2h1.45M1463.2 220.6h1.45M1463.4 239.1h1.45M1463.5 215.7h1.45M1463.6 209.4h1.45M1463.8 255.3h1.45M1463.9 186.2h1.45M1464.1 241.7h1.45M1464.2 238.4h1.45M1464.3 144.6h1.45M1464.5 215.3h1.45M1464.6 188.9h1.45M1464.7 158.8h1.45M1464.9 150.6h1.45M1465.0 199.2h1.45M1465.2 182.6h1.45M1465.3 219.3h1.45M1465.4 109.5h1.45M1465.6 82.6h1.45M1465.7 88.5h1.45M1465.8 182.6h1.45M1466.0 152.1h1.45M1466.1 161.7h1.45M1466.3 103.9h1.45M1466.4 123.0h1.45M1466.5 204.0h1.45M1466.7 184.5h1.45M1466.8 234.8h1.45M1466.9 169.3h1.45M1467.1 173.2h1.45M1467.2 92.5h1.45M1467.4 174.7h1.45M1467.5 267.5h1.45M1467.6 133.6h1.45M1467.8 173.0h1.45M1467.9 230.8h1.45M1468.0 213.9h1.45" stroke="#0000ff" stroke-width="1.45" fill="none"/>
<polyline points="1194.2,184.0 1195.6,183.0 1197.0,182.0 1198.4,181.1 1199.8,180.2 1201.2,179.3 1202.5,178.5 1203.9,177.6 1205.3,176.8 1206.7,176.1 1208.1,175.3 1209.4,174.6 1210.8,173.9 1212.2,173.2 1213.6,172.6 1215.0,172.0 1216.3,171.4 1217.7,170.9 1219.1,170.3 1220.5,169.8 1221.9,169.3 1223.2,168.9 1224.6,168.5 1226.0,168.0 1227.4,167.7 1228.8,167.3 1230.1,167.0 1231.5,166.7 1232.9,166.4 1234.3,166.1 1235.7,165.9 1237.0,165.7 1238.4,165.5 1239.8,165.4 1241.2,165.2 1242.6,165.1 1243.9,165.0 1245.3,164.9 1246.7,164.9 1248.1,164.9 1249.5,164.9 1250.8,164.9 1252.2,165.0 1253.6,165.0 1255.0,165.1 1256.4,165.3 1257.7,165.4 1259.1,165.6 1260.5,165.7 1261.9,165.9 1263.3,166.2 1264.6,166.4 1266.0,166.7 1267.4,167.0 1268.8,167.3 1270.2,167.6 1271.5,168.0 1272.9,168.4 1274.3,168.8 1275.7,169.2 1277.1,169.6 1278.4,170.1 1279.8,170.5 1281.2,171.0 1282.6,171.6 1284.0,172.1 1285.3,172.6 1286.7,173.2 1288.1,173.8 1289.5,174.4 1290.9,175.0 1292.2,175.7 1293.6,176.3 1295.0,177.0 1296.4,177.7 1297.8,178.4 1299.1,179.1 1300.5,179.9 1301.9,180.6 1303.3,181.4 1304.7,182.2 1306.0,183.0 1307.4,183.8 1308.8,184.6 1310.2,185.5 1311.6,186.3 1312.9,187.2 1314.3,188.1 1315.7,189.0 1317.1,189.9 1318.5,190.8 1319.8,191.7 1321.2,192.7 1322.6,193.6 1324.0,194.6 1325.4,195.5 1326.7,196.5 1328.1,197.5 1329.5,198.5 1330.9,199.5 1332.3,200.5 1333.6,201.5 1335.0,202.5 1336.4,203.5 1337.8,204.5 1339.2,205.5 1340.5,206.6 1341.9,207.6 1343.3,208.6 1344.7,209.7 1346.1,210.7 1347.4,211.7 1348.8,212.8 1350.2,213.8 1351.6,214.8 1353.0,215.9 1354.3,216.9 1355.7,217.9 1357.1,218.9 1358.5,219.9 1359.9,220.9 1361.2,221.9 1362.6,222.9 1364.0,223.9 1365.4,224.8 1366.8,225.8 1368.1,226.7 1369.5,227.6 1370.9,228.6 1372.3,229.5 1373.7,230.3 1375.0,231.2 1376.4,232.1 1377.8,232.9 1379.2,233.7 1380.6,234.5 1382.0,235.3 1383.3,236.0 1384.7,236.7 1386.1,237.4 1387.5,238.1 1388.9,238.7 1390.2,239.4 1391.6,239.9 1393.0,240.5 1394.4,241.0 1395.8,241.5 1397.1,242.0 1398.5,242.4 1399.9,242.8 1401.3,243.1 1402.7,243.4 1404.0,243.7 1405.4,243.9 1406.8,244.0 1408.2,244.2 1409.6,244.3 1410.9,244.3 1412.3,244.3 1413.7,244.2 1415.1,244.1 1416.5,243.9 1417.8,243.7 1419.2,243.4 1420.6,243.0 1422.0,242.6 1423.4,242.1 1424.7,241.6 1426.1,241.0 1427.5,240.3 1428.9,239.6 1430.3,238.8 1431.6,237.9 1433.0,236.9 1434.4,235.9 1435.8,234.8 1437.2,233.6 1438.5,232.3 1439.9,230.9 1441.3,229.5 1442.7,227.9 1444.1,226.3 1445.4,224.6 1446.8,222.7 1448.2,220.8 1449.6,218.8 1451.0,216.7 1452.3,214.5 1453.7,212.1 1455.1,209.7 1456.5,207.1 1457.9,204.5 1459.2,201.7 1460.6,198.8 1462.0,195.8 1463.4,192.7 1464.8,189.4 1466.1,186.0 1467.5,182.5 1468.9,178.8" fill="none" stroke="#000" stroke-width="1.8"/>
<rect x="1194.25" y="71.75" width="274.65" height="223.85" fill="none" stroke="#000" stroke-width="2"/>
<path d="M1262.91,71.75v4.5M1262.91,295.6v-4.5M1331.58,71.75v4.5M1331.58,295.6v-4.5M1400.24,71.75v4.5M1400.24,295.6v-4.5M1194.25,127.71h4.5M1468.9,127.71h-4.5M1194.25,183.68h4.5M1468.9,183.68h-4.5M1194.25,239.64h4.5M1468.9,239.64h-4.5" stroke="#000" stroke-width="1.6" fill="none"/>
<path d="M1193.5 405.7h1.45M1193.6 405.7h1.45M1193.7 405.7h1.45M1193.9 408.6h1.45M1194.0 417.2h1.45M1194.2 455.5h1.45M1194.3 434.3h1.45M1194.4 421.4h1.45M1194.6 422.1h1.45M1194.7 424.7h1.45M1194.8 415.9h1.45M1195.0 426.1h1.45M1195.1 425.4h1.45M1195.3 408.4h1.45M1195.4 410.3h1.45M1195.5 414.3h1.45M1195.7 418.0h1.45M1195.8 436.2h1.45M1195.9 412.3h1.45M1196.1 407.6h1.45M1196.2 427.8h1.45M1196.4 429.0h1.45M1196.5 405.7h1.45M1196.6 433.1h1.45M1196.8 422.1h1.45M1196.9 405.7h1.45M1197.0 430.8h1.45M1197.2 408.4h1.45M1197.3 405.7h1.45M1197.5 405.7h1.45M1197.6 405.7h1.45M1197.7 405.7h1.45M1197.9 405.7h1.45M1198.0 405.7h1.45M1198.1 417.2h1.45M1198.3 428.9h1.45M1198.4 413.3h1.45M1198.6 405.7h1.45M1198.7 405.7h1.45M1198.8 406.3h1.45M1199.0 441.7h1.45M1199.1 405.7h1.45M1199.2 405.7h1.45M1199.4 405.7h1.45M1199.5 415.6h1.45M1199.7 433.9h1.45M1199.8 407.0h1.45M1199.9 423.8h1.45M1200.1 405.7h1.45M1200.2 422.9h1.45M1200.3 406.8h1.45M1200.5 405.7h1.45M1200.6 442.0h1.45M1200.8 405.7h1.45M1200.9 415.8h1.45M1201.0 427.4h1.45M1201.2 422.6h1.45M1201.3 408.7h1.45M1201.4 405.7h1.45M1201.6 429.6h1.45M1201.7 405.7h1.45M1201.9 405.7h1.45M1202.0 405.7h1.45M1202.1 405.7h1.45M1202.3 411.2h1.45M1202.4 418.8h1.45M1202.5 408.9h1.45M1202.7 405.7h1.45M1202.8 405.7h1.45M1203.0 405.7h1.45M1203.1 405.7h1.45M1203.2 405.7h1.45M1203.4 405.7h1.45M1203.5 422.4h1.45M1203.6 419.2h1.45M1203.8 409.8h1.45M1203.9 411.8h1.45M1204.1 405.7h1.45M1204.2 408.6h1.45M1204.3 405.7h1.45M1204.5 405.7h1.45M1204.6 405.7h1.45M1204.7 410.7h1.45M1204.9 405.7h1.45M1205.0 405.7h1.45M1205.1 422.4h1.45M1205.3 405.7h1.45M1205.4 405.7h1.45M1205.6 405.7h1.45M1205.7 405.7h1.45M1205.8 405.7h1.45M1206.0 413.8h1.45M1206.1 405.7h1.45M1206.2 414.0h1.45M1206.4 405.7h1.45M1206.5 415.9h1.45M1206.7 405.7h1.45M1206.8 406.7h1.45M1206.9 405.7h1.45M1207.1 407.0h1.45M1207.2 421.1h1.45M1207.3 405.7h1.45M1207.5 406.9h1.45M1207.6 405.7h1.45M1207.8 405.7h1.45M1207.9 405.7h1.45M1208.0 405.7h1.45M1208.2 405.7h1.45M1208.3 405.7h1.45M1208.4 420.3h1.45M1208.6 405.7h1.45M1208.7 407.6h1.45M1208.9 406.7h1.45M1209.0 406.1h1.45M1209.1 405.7h1.45M1209.3 405.7h1.45M1209.4 425.1h1.45M1209.5 405.7h1.45M1209.7 413.5h1.45M1209.8 405.7h1.45M1210.0 410.4h1.45M1210.1 405.7h1.45M1210.2 409.4h1.45M1210.4 405.7h1.45M1210.5 405.7h1.45M1210.6 410.5h1.45M1210.8 405.7h1.45M1210.9 420.2h1.45M1211.1 405.7h1.45M1211.2 405.7h1.45M1211.3 414.0h1.45M1211.5 405.7h1.45M1211.6 427.6h1.45M1211.7 424.8h1.45M1211.9 424.0h1.45M1212.0 412.1h1.45M1212.2 408.1h1.45M1212.3 406.1h1.45M1212.4 406.0h1.45M1212.6 405.7h1.45M1212.7 411.4h1.45M1212.8 418.0h1.45M1213.0 417.8h1.45M1213.1 405.7h1.45M1213.3 429.4h1.45M1213.4 411.8h1.45M1213.5 405.7h1.45M1213.7 405.7h1.45M1213.8 413.6h1.45M1213.9 405.7h1.45M1214.1 405.7h1.45M1214.2 405.7h1.45M1214.4 415.3h1.45M1214.5 405.7h1.45M1214.6 405.7h1.45M1214.8 405.7h1.45M1214.9 405.7h1.45M1215.0 410.5h1.45M1215.2 429.1h1.45M1215.3 405.7h1.45M1215.5 405.7h1.45M1215.6 405.7h1.45M1215.7 405.7h1.45M1215.9 405.7h1.45M1216.0 420.2h1.45M1216.1 405.7h1.45M1216.3 413.3h1.45M1216.4 405.7h1.45M1216.5 407.0h1.45M1216.7 405.7h1.45M1216.8 415.5h1.45M1217.0 412.3h1.45M1217.1 422.1h1.45M1217.2 406.8h1.45M1217.4 410.4h1.45M1217.5 405.7h1.45M1217.6 416.2h1.45M1217.8 409.0h1.45M1217.9 405.7h1.45M1218.1 426.1h1.45M1218.2 405.7h1.45M1218.3 408.2h1.45M1218.5 413.8h1.45M1218.6 421.8h1.45M1218.7 405.7h1.45M1218.9 407.0h1.45M1219.0 405.7h1.45M1219.2 441.7h1.45M1219.3 422.0h1.45M1219.4 433.6h1.45M1219.6 420.7h1.45M1219.7 405.7h1.45M1219.8 405.7h1.45M1220.0 415.8h1.45M1220.1 410.3h1.45M1220.3 405.7h1.45M1220.4 418.0h1.45M1220.5 405.7h1.45M1220.7 419.4h1.45M1220.8 449.7h1.45M1220.9 421.6h1.45M1221.1 405.7h1.45M1221.2 410.8h1.45M1221.4 413.2h1.45M1221.5 415.0h1.45M1221.6 414.8h1.45M1221.8 407.6h1.45M1221.9 412.0h1.45M1222.0 422.9h1.45M1222.2 437.6h1.45M1222.3 418.6h1.45M1222.5 434.2h1.45M1222.6 428.8h1.45M1222.7 405.7h1.45M1222.9 421.4h1.45M1223.0 428.1h1.45M1223.1 405.7h1.45M1223.3 406.1h1.45M1223.4 431.7h1.45M1223.6 424.7h1.45M1223.7 434.2h1.45M1223.8 424.0h1.45M1224.0 428.0h1.45M1224.1 435.3h1.45M1224.2 405.7h1.45M1224.4 441.4h1.45M1224.5 439.6h1.45M1224.7 427.2h1.45M1224.8 420.1h1.45M1224.9 426.6h1.45M1225.1 421.7h1.45M1225.2 419.0h1.45M1225.3 440.6h1.45M1225.5 421.1h1.45M1225.6 413.5h1.45M1225.8 429.1h1.45M1225.9 415.0h1.45M1226.0 405.7h1.45M1226.2 416.3h1.45M1226.3 413.4h1.45M1226.4 419.1h1.45M1226.6 444.7h1.45M1226.7 434.6h1.45M1226.9 442.2h1.45M1227.0 413.6h1.45M1227.1 415.8h1.45M1227.3 425.6h1.45M1227.4 414.3h1.45M1227.5 405.7h1.45M1227.7 414.7h1.45M1227.8 434.6h1.45M1227.9 415.8h1.45M1228.1 425.7h1.45M1228.2 414.4h1.45M1228.4 435.4h1.45M1228.5 430.8h1.45M1228.6 426.8h1.45M1228.8 443.9h1.45M1228.9 424.0h1.45M1229.0 426.2h1.45M1229.2 417.8h1.45M1229.3 443.2h1.45M1229.5 436.6h1.45M1229.6 448.9h1.45M1229.7 425.4h1.45M1229.9 416.9h1.45M1230.0 428.7h1.45M1230.1 424.9h1.45M1230.3 435.6h1.45M1230.4 423.1h1.45M1230.6 453.3h1.45M1230.7 435.5h1.45M1230.8 424.9h1.45M1231.0 437.3h1.45M1231.1 438.1h1.45M1231.2 427.0h1.45M1231.4 430.4h1.45M1231.5 422.6h1.45M1231.7 437.3h1.45M1231.8 421.8h1.45M1231.9 425.4h1.45M1232.1 431.7h1.45M1232.2 422.3h1.45M1232.3 439.0h1.45M1232.5 431.0h1.45M1232.6 422.7h1.45M1232.8 420.0h1.45M1232.9 412.9h1.45M1233.0 448.4h1.45M1233.2 419.3h1.45M1233.3 438.9h1.45M1233.4 436.6h1.45M1233.6 442.5h1.45M1233.7 434.5h1.45M1233.9 427.3h1.45M1234.0 440.3h1.45M1234.1 433.4h1.45M1234.3 414.5h1.45M1234.4 413.9h1.45M1234.5 445.2h1.45M1234.7 435.7h1.45M1234.8 459.3h1.45M1235.0 431.0h1.45M1235.1 439.7h1.45M1235.2 435.8h1.45M1235.4 450.4h1.45M1235.5 449.8h1.45M1235.6 445.2h1.45M1235.8 430.9h1.45M1235.9 418.9h1.45M1236.1 457.6h1.45M1236.2 455.6h1.45M1236.3 448.9h1.45M1236.5 475.8h1.45M1236.6 463.5h1.45M1236.7 443.6h1.45M1236.9 435.1h1.45M1237.0 479.0h1.45M1237.2 445.9h1.45M1237.3 458.3h1.45M1237.4 457.1h1.45M1237.6 444.6h1.45M1237.7 440.1h1.45M1237.8 436.0h1.45M1238.0 464.0h1.45M1238.1 431.1h1.45M1238.3 420.7h1.45M1238.4 433.6h1.45M1238.5 444.0h1.45M1238.7 438.4h1.45M1238.8 459.0h1.45M1238.9 455.7h1.45M1239.1 485.3h1.45M1239.2 449.5h1.45M1239.3 430.5h1.45M1239.5 436.3h1.45M1239.6 414.3h1.45M1239.8 444.0h1.45M1239.9 445.0h1.45M1240.0 474.1h1.45M1240.2 454.6h1.45M1240.3 456.7h1.45M1240.4 463.1h1.45M1240.6 438.7h1.45M1240.7 480.8h1.45M1240.9 449.5h1.45M1241.0 445.0h1.45M1241.1 457.4h1.45M1241.3 482.8h1.45M1241.4 486.2h1.45M1241.5 473.8h1.45M1241.7 442.4h1.45M1241.8 454.2h1.45M1242.0 441.6h1.45M1242.1 448.8h1.45M1242.2 442.1h1.45M1242.4 457.3h1.45M1242.5 456.9h1.45M1242.6 457.1h1.45M1242.8 465.7h1.45M1242.9 460.6h1.45M1243.1 441.6h1.45M1243.2 445.4h1.45M1243.3 467.5h1.45M1243.5 448.5h1.45M1243.6 454.7h1.45M1243.7 469.0h1.45M1243.9 443.8h1.45M1244.0 484.7h1.45M1244.2 447.1h1.45M1244.3 477.3h1.45M1244.4 453.7h1.45M1244.6 437.3h1.45M1244.7 459.2h1.45M1244.8 456.7h1.45M1245.0 465.4h1.45M1245.1 448.8h1.45M1245.3 468.5h1.45M1245.4 458.8h1.45M1245.5 489.4h1.45M1245.7 463.1h1.45M1245.8 464.5h1.45M1245.9 453.3h1.45M1246.1 454.3h1.45M1246.2 487.5h1.45M1246.4 462.4h1.45M1246.5 468.1h1.45M1246.6 452.0h1.45M1246.8 466.3h1.45M1246.9 466.3h1.45M1247.0 471.3h1.45M1247.2 457.5h1.45M1247.3 488.8h1.45M1247.5 519.4h1.45M1247.6 460.8h1.45M1247.7 475.9h1.45M1247.9 492.6h1.45M1248.0 448.9h1.45M1248.1 473.4h1.45M1248.3 447.3h1.45M1248.4 481.5h1.45M1248.6 461.6h1.45M1248.7 481.2h1.45M1248.8 471.9h1.45M1249.0 471.7h1.45M1249.1 463.1h1.45M1249.2 470.1h1.45M1249.4 460.0h1.45M1249.5 454.9h1.45M1249.7 472.1h1.45M1249.8 505.6h1.45M1249.9 496.7h1.45M1250.1 460.3h1.45M1250.2 500.0h1.45M1250.3 480.4h1.45M1250.5 483.0h1.45M1250.6 503.7h1.45M1250.7 474.7h1.45M1250.9 486.7h1.45M1251.0 477.3h1.45M1251.2 481.4h1.45M1251.3 464.0h1.45M1251.4 464.5h1.45M1251.6 454.0h1.45M1251.7 461.3h1.45M1251.8 458.3h1.45M1252.0 487.4h1.45M1252.1 460.6h1.45M1252.3 469.3h1.45M1252.4 498.7h1.45M1252.5 496.3h1.45M1252.7 496.7h1.45M1252.8 530.6h1.45M1252.9 502.1h1.45M1253.1 477.2h1.45M1253.2 506.7h1.45M1253.4 496.8h1.45M1253.5 503.0h1.45M1253.6 511.8h1.45M1253.8 476.2h1.45M1253.9 455.7h1.45M1254.0 469.7h1.45M1254.2 470.9h1.45M1254.3 503.3h1.45M1254.5 470.0h1.45M1254.6 487.6h1.45M1254.7 491.3h1.45M1254.9 492.4h1.45M1255.0 496.6h1.45M1255.1 466.7h1.45M1255.3 487.1h1.45M1255.4 500.1h1.45M1255.6 487.7h1.45M1255.7 499.1h1.45M1255.8 519.5h1.45M1256.0 496.5h1.45M1256.1 502.1h1.45M1256.2 492.7h1.45M1256.4 495.7h1.45M1256.5 486.6h1.45M1256.7 510.8h1.45M1256.8 503.2h1.45M1256.9 490.7h1.45M1257.1 516.8h1.45M1257.2 501.9h1.45M1257.3 522.7h1.45M1257.5 525.1h1.45M1257.6 504.7h1.45M1257.8 516.4h1.45M1257.9 495.9h1.45M1258.0 507.8h1.45M1258.2 523.9h1.45M1258.3 472.6h1.45M1258.4 501.6h1.45M1258.6 494.9h1.45M1258.7 471.0h1.45M1258.9 499.0h1.45M1259.0 505.0h1.45M1259.1 546.0h1.45M1259.3 504.3h1.45M1259.4 472.3h1.45M1259.5 520.4h1.45M1259.7 502.2h1.45M1259.8 531.4h1.45M1260.0 508.5h1.45M1260.1 478.0h1.45M1260.2 491.6h1.45M1260.4 480.2h1.45M1260.5 502.8h1.45M1260.6 459.0h1.45M1260.8 520.2h1.45M1260.9 541.9h1.45M1261.1 504.5h1.45M1261.2 517.5h1.45M1261.3 505.7h1.45M1261.5 521.5h1.45M1261.6 514.2h1.45M1261.7 506.9h1.45M1261.9 546.5h1.45M1262.0 505.0h1.45M1262.2 507.7h1.45M1262.3 525.3h1.45M1262.4 528.3h1.45M1262.6 478.6h1.45M1262.7 534.2h1.45M1262.8 515.8h1.45M1263.0 505.3h1.45M1263.1 516.7h1.45M1263.2 483.5h1.45M1263.4 495.5h1.45M1263.5 492.1h1.45M1263.7 512.1h1.45M1263.8 524.9h1.45M1263.9 539.4h1.45M1264.1 537.2h1.45M1264.2 534.4h1.45M1264.3 518.1h1.45M1264.5 501.1h1.45M1264.6 531.8h1.45M1264.8 503.2h1.45M1264.9 557.0h1.45M1265.0 531.0h1.45M1265.2 516.8h1.45M1265.3 495.4h1.45M1265.4 532.2h1.45M1265.6 502.5h1.45M1265.7 515.0h1.45M1265.9 526.4h1.45M1266.0 504.8h1.45M1266.1 554.0h1.45M1266.3 555.5h1.45M1266.4 510.6h1.45M1266.5 542.5h1.45M1266.7 519.9h1.45M1266.8 528.1h1.45M1267.0 532.0h1.45M1267.1 508.3h1.45M1267.2 504.1h1.45M1267.4 528.2h1.45M1267.5 567.6h1.45M1267.6 538.1h1.45M1267.8 519.8h1.45M1267.9 546.4h1.45M1268.1 528.0h1.45M1268.2 513.0h1.45M1268.3 543.4h1.45M1268.5 530.8h1.45M1268.6 584.9h1.45M1268.7 541.9h1.45M1268.9 522.2h1.45M1269.0 552.4h1.45M1269.2 524.3h1.45M1269.3 537.4h1.45M1269.4 473.4h1.45M1269.6 560.5h1.45M1269.7 552.1h1.45M1269.8 545.4h1.45M1270.0 563.4h1.45M1270.1 555.4h1.45M1270.3 530.7h1.45M1270.4 554.6h1.45M1270.5 508.5h1.45M1270.7 533.2h1.45M1270.8 551.9h1.45M1270.9 555.5h1.45M1271.1 538.0h1.45M1271.2 552.7h1.45M1271.4 542.2h1.45M1271.5 534.7h1.45M1271.6 541.0h1.45M1271.8 561.3h1.45M1271.9 532.0h1.45M1272.0 546.2h1.45M1272.2 555.4h1.45M1272.3 528.5h1.45M1272.5 553.8h1.45M1272.6 565.7h1.45M1272.7 546.3h1.45M1272.9 533.2h1.45M1273.0 540.5h1.45M1273.1 570.4h1.45M1273.3 547.6h1.45M1273.4 535.5h1.45M1273.6 526.8h1.45M1273.7 551.1h1.45M1273.8 567.4h1.45M1274.0 557.5h1.45M1274.1 535.2h1.45M1274.2 552.9h1.45M1274.4 556.0h1.45M1274.5 563.6h1.45M1274.6 540.1h1.45M1274.8 547.8h1.45M1274.9 542.2h1.45M1275.1 538.5h1.45M1275.2 538.8h1.45M1275.3 571.3h1.45M1275.5 552.4h1.45M1275.6 544.4h1.45M1275.7 540.7h1.45M1275.9 572.6h1.45M1276.0 549.4h1.45M1276.2 556.4h1.45M1276.3 585.0h1.45M1276.4 534.2h1.45M1276.6 548.4h1.45M1276.7 576.7h1.45M1276.8 568.0h1.45M1277.0 592.6h1.45M1277.1 580.6h1.45M1277.3 553.3h1.45M1277.4 583.0h1.45M1277.5 550.3h1.45M1277.7 542.5h1.45M1277.8 587.8h1.45M1277.9 572.9h1.45M1278.1 587.3h1.45M1278.2 585.6h1.45M1278.4 590.5h1.45M1278.5 554.0h1.45M1278.6 573.2h1.45M1278.8 559.1h1.45M1278.9 538.3h1.45M1279.0 597.2h1.45M1279.2 576.2h1.45M1279.3 578.9h1.45M1279.5 564.0h1.45M1279.6 565.2h1.45M1279.7 563.3h1.45M1279.9 585.8h1.45M1280.0 589.8h1.45M1280.1 578.2h1.45M1280.3 565.3h1.45M1280.4 543.4h1.45M1280.6 571.6h1.45M1280.7 581.2h1.45M1280.8 567.8h1.45M1281.0 569.3h1.45M1281.1 616.1h1.45M1281.2 575.8h1.45M1281.4 569.6h1.45M1281.5 598.4h1.45M1281.7 571.8h1.45M1281.8 572.8h1.45M1281.9 560.8h1.45M1282.1 588.8h1.45M1282.2 575.3h1.45M1282.3 581.4h1.45M1282.5 580.4h1.45M1282.6 568.6h1.45M1282.8 585.2h1.45M1282.9 609.3h1.45M1283.0 594.8h1.45M1283.2 585.2h1.45M1283.3 584.2h1.45M1283.4 573.0h1.45M1283.6 553.1h1.45M1283.7 561.9h1.45M1283.9 573.2h1.45M1284.0 577.9h1.45M1284.1 566.6h1.45M1284.3 552.9h1.45M1284.4 581.1h1.45M1284.5 571.5h1.45M1284.7 587.6h1.45M1284.8 573.5h1.45M1285.0 605.4h1.45M1285.1 591.0h1.45M1285.2 585.3h1.45M1285.4 570.2h1.45M1285.5 564.8h1.45M1285.6 611.7h1.45M1285.8 604.1h1.45M1285.9 575.0h1.45M1286.0 567.6h1.45M1286.2 604.2h1.45M1286.3 563.9h1.45M1286.5 594.1h1.45M1286.6 605.9h1.45M1286.7 604.5h1.45M1286.9 598.7h1.45M1287.0 608.2h1.45M1287.1 589.3h1.45M1287.3 589.7h1.45M1287.4 578.6h1.45M1287.6 585.4h1.45M1287.7 609.4h1.45M1287.8 573.9h1.45M1288.0 629.0h1.45M1288.1 607.2h1.45M1288.2 605.7h1.45M1288.4 575.7h1.45M1288.5 591.6h1.45M1288.7 584.1h1.45M1288.8 593.4h1.45M1288.9 603.1h1.45M1289.1 597.7h1.45M1289.2 590.4h1.45M1289.3 615.8h1.45M1289.5 603.1h1.45M1289.6 611.2h1.45M1289.8 593.7h1.45M1289.9 600.0h1.45M1290.0 590.4h1.45M1290.2 624.8h1.45M1290.3 610.9h1.45M1290.4 590.1h1.45M1290.6 601.3h1.45M1290.7 583.7h1.45M1290.9 608.1h1.45M1291.0 619.3h1.45M1291.1 594.1h1.45M1291.3 581.0h1.45M1291.4 608.8h1.45M1291.5 623.8h1.45M1291.7 591.7h1.45M1291.8 601.5h1.45M1292.0 620.6h1.45M1292.1 602.9h1.45M1292.2 602.7h1.45M1292.4 587.4h1.45M1292.5 580.7h1.45M1292.6 599.2h1.45M1292.8 602.2h1.45M1292.9 604.4h1.45M1293.1 623.0h1.45M1293.2 621.1h1.45M1293.3 598.9h1.45M1293.5 625.1h1.45M1293.6 587.5h1.45M1293.7 582.3h1.45M1293.9 604.6h1.45M1294.0 593.7h1.45M1294.2 597.7h1.45M1294.3 594.1h1.45M1294.4 601.3h1.45M1294.6 601.3h1.45M1294.7 611.3h1.45M1294.8 591.8h1.45M1295.0 594.8h1.45M1295.1 623.8h1.45M1295.3 612.3h1.45M1295.4 609.0h1.45M1295.5 611.5h1.45M1295.7 621.6h1.45M1295.8 582.8h1.45M1295.9 629.0h1.45M1296.1 611.3h1.45M1296.2 618.1h1.45M1296.4 613.0h1.45M1296.5 626.8h1.45M1296.6 619.3h1.45M1296.8 611.2h1.45M1296.9 601.9h1.45M1297.0 629.0h1.45M1297.2 601.5h1.45M1297.3 617.1h1.45M1297.4 607.7h1.45M1297.6 605.2h1.45M1297.7 594.4h1.45M1297.9 615.1h1.45M1298.0 609.5h1.45M1298.1 622.2h1.45M1298.3 616.2h1.45M1298.4 616.3h1.45M1298.5 612.7h1.45M1298.7 605.1h1.45M1298.8 627.7h1.45M1299.0 620.9h1.45M1299.1 605.0h1.45M1299.2 617.9h1.45M1299.4 615.3h1.45M1299.5 603.1h1.45M1299.6 601.0h1.45M1299.8 622.6h1.45M1299.9 609.4h1.45M1300.1 612.5h1.45M1300.2 616.8h1.45M1300.3 610.3h1.45M1300.5 617.0h1.45M1300.6 629.0h1.45M1300.7 621.1h1.45M1300.9 608.0h1.45M1301.0 623.4h1.45M1301.2 608.9h1.45M1301.3 616.5h1.45M1301.4 624.9h1.45M1301.6 614.7h1.45M1301.7 612.2h1.45M1301.8 617.1h1.45M1302.0 624.2h1.45M1302.1 629.0h1.45M1302.3 603.0h1.45M1302.4 629.0h1.45M1302.5 609.6h1.45M1302.7 625.4h1.45M1302.8 629.0h1.45M1302.9 615.5h1.45M1303.1 629.0h1.45M1303.2 627.3h1.45M1303.4 613.5h1.45M1303.5 625.1h1.45M1303.6 606.1h1.45M1303.8 621.2h1.45M1303.9 624.9h1.45M1304.0 605.8h1.45M1304.2 624.6h1.45M1304.3 622.2h1.45M1304.5 628.2h1.45M1304.6 626.1h1.45M1304.7 618.2h1.45M1304.9 618.6h1.45M1305.0 628.7h1.45M1305.1 629.0h1.45M1305.3 621.8h1.45M1305.4 629.0h1.45M1305.6 629.0h1.45M1305.7 617.2h1.45M1305.8 628.3h1.45M1306.0 626.8h1.45M1306.1 629.0h1.45M1306.2 629.0h1.45M1306.4 610.4h1.45M1306.5 617.6h1.45M1306.7 613.3h1.45M1306.8 623.7h1.45M1306.9 619.4h1.45M1307.1 620.1h1.45M1307.2 614.1h1.45M1307.3 602.2h1.45M1307.5 629.0h1.45M1307.6 625.7h1.45M1307.8 625.0h1.45M1307.9 629.0h1.45M1308.0 629.0h1.45M1308.2 627.6h1.45M1308.3 623.2h1.45M1308.4 629.0h1.45M1308.6 616.3h1.45M1308.7 616.1h1.45M1308.8 628.8h1.45M1309.0 612.0h1.45M1309.1 600.8h1.45M1309.3 624.9h1.45M1309.4 629.0h1.45M1309.5 614.6h1.45M1309.7 627.9h1.45M1309.8 629.0h1.45M1309.9 627.1h1.45M1310.1 629.0h1.45M1310.2 618.6h1.45M1310.4 620.8h1.45M1310.5 617.0h1.45M1310.6 623.6h1.45M1310.8 629.0h1.45M1310.9 629.0h1.45M1311.0 620.4h1.45M1311.2 629.0h1.45M1311.3 599.6h1.45M1311.5 629.0h1.45M1311.6 629.0h1.45M1311.7 617.9h1.45M1311.9 621.0h1.45M1312.0 628.4h1.45M1312.1 629.0h1.45M1312.3 621.1h1.45M1312.4 620.2h1.45M1312.6 620.3h1.45M1312.7 624.0h1.45M1312.8 624.3h1.45M1313.0 620.7h1.45M1313.1 618.6h1.45M1313.2 629.0h1.45M1313.4 629.0h1.45M1313.5 629.0h1.45M1313.7 629.0h1.45M1313.8 626.9h1.45M1313.9 620.2h1.45M1314.1 623.1h1.45M1314.2 629.0h1.45M1314.3 628.4h1.45M1314.5 610.9h1.45M1314.6 629.0h1.45M1314.8 625.0h1.45M1314.9 613.0h1.45M1315.0 626.0h1.45M1315.2 629.0h1.45M1315.3 624.8h1.45M1315.4 629.0h1.45M1315.6 629.0h1.45M1315.7 617.8h1.45M1315.9 624.6h1.45M1316.0 629.0h1.45M1316.1 620.5h1.45M1316.3 624.7h1.45M1316.4 628.4h1.45M1316.5 623.9h1.45M1316.7 626.9h1.45M1316.8 629.0h1.45M1317.0 629.0h1.45M1317.1 626.6h1.45M1317.2 629.0h1.45M1317.4 629.0h1.45M1317.5 616.3h1.45M1317.6 629.0h1.45M1317.8 626.2h1.45M1317.9 621.5h1.45M1318.1 624.0h1.45M1318.2 627.6h1.45M1318.3 628.1h1.45M1318.5 629.0h1.45M1318.6 618.8h1.45M1318.7 629.0h1.45M1318.9 614.5h1.45M1319.0 629.0h1.45M1319.2 629.0h1.45M1319.3 612.5h1.45M1319.4 628.3h1.45M1319.6 629.0h1.45M1319.7 619.1h1.45M1319.8 629.0h1.45M1320.0 627.3h1.45M1320.1 629.0h1.45M1320.2 629.0h1.45M1320.4 629.0h1.45M1320.5 623.9h1.45M1320.7 619.5h1.45M1320.8 629.0h1.45M1320.9 607.4h1.45M1321.1 629.0h1.45M1321.2 629.0h1.45M1321.3 629.0h1.45M1321.5 610.9h1.45M1321.6 629.0h1.45M1321.8 629.0h1.45M1321.9 629.0h1.45M1322.0 629.0h1.45M1322.2 600.0h1.45M1322.3 623.9h1.45M1322.4 604.4h1.45M1322.6 626.5h1.45M1322.7 629.0h1.45M1322.9 611.4h1.45M1323.0 622.6h1.45M1323.1 629.0h1.45M1323.3 602.9h1.45M1323.4 624.4h1.45M1323.5 607.2h1.45M1323.7 621.6h1.45M1323.8 629.0h1.45M1324.0 622.8h1.45M1324.1 617.8h1.45M1324.2 609.6h1.45M1324.4 618.5h1.45M1324.5 620.5h1.45M1324.6 618.4h1.45M1324.8 623.1h1.45M1324.9 629.0h1.45M1325.1 619.2h1.45M1325.2 622.9h1.45M1325.3 616.0h1.45M1325.5 629.0h1.45M1325.6 618.9h1.45M1325.7 613.6h1.45M1325.9 629.0h1.45M1326.0 626.8h1.45M1326.2 629.0h1.45M1326.3 619.0h1.45M1326.4 629.0h1.45M1326.6 616.5h1.45M1326.7 606.2h1.45M1326.8 623.0h1.45M1327.0 629.0h1.45M1327.1 602.4h1.45M1327.3 614.2h1.45M1327.4 629.0h1.45M1327.5 605.8h1.45M1327.7 608.2h1.45M1327.8 610.9h1.45M1327.9 626.9h1.45M1328.1 615.7h1.45M1328.2 624.9h1.45M1328.4 623.2h1.45M1328.5 615.7h1.45M1328.6 613.5h1.45M1328.8 614.5h1.45M1328.9 611.3h1.45M1329.0 612.6h1.45M1329.2 625.2h1.45M1329.3 623.0h1.45M1329.5 616.6h1.45M1329.6 625.7h1.45M1329.7 627.1h1.45M1329.9 611.3h1.45M1330.0 629.0h1.45M1330.1 609.7h1.45M1330.3 612.0h1.45M1330.4 629.0h1.45M1330.6 616.7h1.45M1330.7 612.6h1.45M1330.8 609.7h1.45M1331.0 610.0h1.45M1331.1 594.7h1.45M1331.2 611.3h1.45M1331.4 614.2h1.45M1331.5 606.2h1.45M1331.6 578.7h1.45M1331.8 617.4h1.45M1331.9 601.8h1.45M1332.1 600.8h1.45M1332.2 615.4h1.45M1332.3 591.8h1.45M1332.5 597.1h1.45M1332.6 603.3h1.45M1332.7 617.6h1.45M1332.9 606.1h1.45M1333.0 609.9h1.45M1333.2 615.1h1.45M1333.3 586.4h1.45M1333.4 611.2h1.45M1333.6 594.5h1.45M1333.7 606.5h1.45M1333.8 608.5h1.45M1334.0 584.6h1.45M1334.1 606.8h1.45M1334.3 589.1h1.45M1334.4 591.1h1.45M1334.5 615.6h1.45M1334.7 608.5h1.45M1334.8 619.4h1.45M1334.9 603.2h1.45M1335.1 567.9h1.45M1335.2 614.3h1.45M1335.4 613.6h1.45M1335.5 602.1h1.45M1335.6 601.8h1.45M1335.8 619.7h1.45M1335.9 579.5h1.45M1336.0 602.5h1.45M1336.2 597.0h1.45M1336.3 588.1h1.45M1336.5 596.9h1.45M1336.6 590.2h1.45M1336.7 603.7h1.45M1336.9 595.2h1.45M1337.0 601.3h1.45M1337.1 595.4h1.45M1337.3 596.6h1.45M1337.4 582.6h1.45M1337.6 571.6h1.45M1337.7 594.4h1.45M1337.8 611.2h1.45M1338.0 600.5h1.45M1338.1 585.9h1.45M1338.2 603.7h1.45M1338.4 591.8h1.45M1338.5 582.6h1.45M1338.7 596.5h1.45M1338.8 586.8h1.45M1338.9 594.0h1.45M1339.1 578.5h1.45M1339.2 604.9h1.45M1339.3 557.8h1.45M1339.5 573.4h1.45M1339.6 592.1h1.45M1339.8 600.2h1.45M1339.9 622.2h1.45M1340.0 607.5h1.45M1340.2 574.7h1.45M1340.3 591.5h1.45M1340.4 611.6h1.45M1340.6 561.6h1.45M1340.7 607.1h1.45M1340.9 575.3h1.45M1341.0 601.0h1.45M1341.1 596.2h1.45M1341.3 590.4h1.45M1341.4 591.5h1.45M1341.5 581.8h1.45M1341.7 599.0h1.45M1341.8 573.6h1.45M1342.0 564.7h1.45M1342.1 574.5h1.45M1342.2 560.1h1.45M1342.4 565.7h1.45M1342.5 597.6h1.45M1342.6 597.1h1.45M1342.8 594.7h1.45M1342.9 581.7h1.45M1343.0 561.5h1.45M1343.2 581.4h1.45M1343.3 584.3h1.45M1343.5 591.1h1.45M1343.6 581.0h1.45M1343.7 582.7h1.45M1343.9 592.8h1.45M1344.0 551.5h1.45M1344.1 599.0h1.45M1344.3 573.5h1.45M1344.4 605.9h1.45M1344.6 609.9h1.45M1344.7 579.4h1.45M1344.8 577.2h1.45M1345.0 575.2h1.45M1345.1 586.2h1.45M1345.2 578.1h1.45M1345.4 599.6h1.45M1345.5 536.9h1.45M1345.7 565.7h1.45M1345.8 522.0h1.45M1345.9 594.6h1.45M1346.1 569.7h1.45M1346.2 572.3h1.45M1346.3 571.1h1.45M1346.5 583.3h1.45M1346.6 600.8h1.45M1346.8 582.7h1.45M1346.9 579.4h1.45M1347.0 588.1h1.45M1347.2 565.2h1.45M1347.3 567.2h1.45M1347.4 580.7h1.45M1347.6 568.6h1.45M1347.7 567.3h1.45M1347.9 575.0h1.45M1348.0 561.9h1.45M1348.1 567.4h1.45M1348.3 564.1h1.45M1348.4 578.7h1.45M1348.5 576.5h1.45M1348.7 570.8h1.45M1348.8 548.8h1.45M1349.0 561.7h1.45M1349.1 523.0h1.45M1349.2 546.4h1.45M1349.4 556.4h1.45M1349.5 546.6h1.45M1349.6 537.6h1.45M1349.8 579.1h1.45M1349.9 560.9h1.45M1350.1 559.8h1.45M1350.2 581.7h1.45M1350.3 556.9h1.45M1350.5 562.2h1.45M1350.6 572.2h1.45M1350.7 551.8h1.45M1350.9 540.3h1.45M1351.0 546.4h1.45M1351.2 549.3h1.45M1351.3 564.5h1.45M1351.4 541.6h1.45M1351.6 543.9h1.45M1351.7 522.6h1.45M1351.8 538.3h1.45M1352.0 557.3h1.45M1352.1 553.9h1.45M1352.3 579.1h1.45M1352.4 567.4h1.45M1352.5 577.0h1.45M1352.7 535.5h1.45M1352.8 542.7h1.45M1352.9 542.2h1.45M1353.1 523.9h1.45M1353.2 524.7h1.45M1353.4 551.6h1.45M1353.5 552.3h1.45M1353.6 541.5h1.45M1353.8 526.4h1.45M1353.9 562.9h1.45M1354.0 552.8h1.45M1354.2 506.4h1.45M1354.3 569.9h1.45M1354.4 549.5h1.45M1354.6 544.8h1.45M1354.7 563.3h1.45M1354.9 520.7h1.45M1355.0 539.5h1.45M1355.1 533.2h1.45M1355.3 516.0h1.45M1355.4 515.5h1.45M1355.5 558.3h1.45M1355.7 528.4h1.45M1355.8 520.7h1.45M1356.0 519.8h1.45M1356.1 530.3h1.45M1356.2 549.0h1.45M1356.4 524.6h1.45M1356.5 533.0h1.45M1356.6 520.6h1.45M1356.8 517.4h1.45M1356.9 526.0h1.45M1357.1 539.1h1.45M1357.2 524.0h1.45M1357.3 508.4h1.45M1357.5 529.7h1.45M1357.6 536.5h1.45M1357.7 531.0h1.45M1357.9 541.8h1.45M1358.0 532.8h1.45M1358.2 520.1h1.45M1358.3 529.5h1.45M1358.4 553.4h1.45M1358.6 533.8h1.45M1358.7 531.1h1.45M1358.8 532.1h1.45M1359.0 554.3h1.45M1359.1 506.9h1.45M1359.3 540.3h1.45M1359.4 541.9h1.45M1359.5 536.7h1.45M1359.7 560.6h1.45M1359.8 510.7h1.45M1359.9 528.9h1.45M1360.1 522.6h1.45M1360.2 553.2h1.45M1360.4 535.0h1.45M1360.5 525.3h1.45M1360.6 545.3h1.45M1360.8 548.8h1.45M1360.9 523.6h1.45M1361.0 533.5h1.45M1361.2 519.1h1.45M1361.3 515.9h1.45M1361.5 541.4h1.45M1361.6 550.6h1.45M1361.7 498.5h1.45M1361.9 507.9h1.45M1362.0 523.5h1.45M1362.1 536.2h1.45M1362.3 505.5h1.45M1362.4 527.7h1.45M1362.6 497.1h1.45M1362.7 521.5h1.45M1362.8 518.8h1.45M1363.0 510.2h1.45M1363.1 541.8h1.45M1363.2 538.1h1.45M1363.4 540.9h1.45M1363.5 502.7h1.45M1363.7 510.5h1.45M1363.8 518.7h1.45M1363.9 519.5h1.45M1364.1 490.0h1.45M1364.2 498.4h1.45M1364.3 529.1h1.45M1364.5 488.7h1.45M1364.6 483.1h1.45M1364.8 515.3h1.45M1364.9 533.9h1.45M1365.0 516.9h1.45M1365.2 505.0h1.45M1365.3 502.7h1.45M1365.4 475.3h1.45M1365.6 516.5h1.45M1365.7 499.3h1.45M1365.8 514.1h1.45M1366.0 463.4h1.45M1366.1 518.0h1.45M1366.3 488.1h1.45M1366.4 505.4h1.45M1366.5 523.6h1.45M1366.7 513.6h1.45M1366.8 510.5h1.45M1366.9 510.4h1.45M1367.1 472.1h1.45M1367.2 484.9h1.45M1367.4 495.4h1.45M1367.5 516.7h1.45M1367.6 506.2h1.45M1367.8 510.2h1.45M1367.9 490.1h1.45M1368.0 486.8h1.45M1368.2 474.2h1.45M1368.3 486.6h1.45M1368.5 514.2h1.45M1368.6 518.0h1.45M1368.7 497.6h1.45M1368.9 497.9h1.45M1369.0 494.7h1.45M1369.1 488.2h1.45M1369.3 511.1h1.45M1369.4 463.6h1.45M1369.6 504.8h1.45M1369.7 508.1h1.45M1369.8 504.8h1.45M1370.0 498.1h1.45M1370.1 502.6h1.45M1370.2 473.1h1.45M1370.4 454.4h1.45M1370.5 530.2h1.45M1370.7 495.2h1.45M1370.8 491.9h1.45M1370.9 502.0h1.45M1371.1 502.3h1.45M1371.2 491.9h1.45M1371.3 475.5h1.45M1371.5 510.3h1.45M1371.6 493.7h1.45M1371.8 480.8h1.45M1371.9 496.2h1.45M1372.0 496.8h1.45M1372.2 454.7h1.45M1372.3 470.9h1.45M1372.4 497.5h1.45M1372.6 497.5h1.45M1372.7 493.2h1.45M1372.9 506.1h1.45M1373.0 499.3h1.45M1373.1 483.2h1.45M1373.3 485.3h1.45M1373.4 521.0h1.45M1373.5 498.8h1.45M1373.7 484.6h1.45M1373.8 494.0h1.45M1374.0 457.8h1.45M1374.1 494.8h1.45M1374.2 474.1h1.45M1374.4 455.7h1.45M1374.5 478.2h1.45M1374.6 488.0h1.45M1374.8 443.3h1.45M1374.9 478.2h1.45M1375.1 474.6h1.45M1375.2 457.7h1.45M1375.3 489.4h1.45M1375.5 478.7h1.45M1375.6 477.1h1.45M1375.7 440.2h1.45M1375.9 487.5h1.45M1376.0 474.8h1.45M1376.2 453.1h1.45M1376.3 464.7h1.45M1376.4 478.2h1.45M1376.6 480.4h1.45M1376.7 462.4h1.45M1376.8 469.1h1.45M1377.0 462.2h1.45M1377.1 463.7h1.45M1377.2 450.1h1.45M1377.4 454.8h1.45M1377.5 489.0h1.45M1377.7 479.6h1.45M1377.8 462.9h1.45M1377.9 475.4h1.45M1378.1 447.0h1.45M1378.2 490.4h1.45M1378.3 463.9h1.45M1378.5 440.9h1.45M1378.6 468.3h1.45M1378.8 456.4h1.45M1378.9 457.9h1.45M1379.0 425.7h1.45M1379.2 459.5h1.45M1379.3 465.6h1.45M1379.4 481.3h1.45M1379.6 456.2h1.45M1379.7 464.4h1.45M1379.9 453.8h1.45M1380.0 456.4h1.45M1380.1 451.7h1.45M1380.3 441.3h1.45M1380.4 441.3h1.45M1380.5 468.2h1.45M1380.7 451.2h1.45M1380.8 483.9h1.45M1381.0 466.3h1.45M1381.1 455.8h1.45M1381.2 444.1h1.45M1381.4 434.3h1.45M1381.5 444.1h1.45M1381.6 483.0h1.45M1381.8 461.0h1.45M1381.9 462.5h1.45M1382.1 435.2h1.45M1382.2 484.1h1.45M1382.3 457.7h1.45M1382.5 467.4h1.45M1382.6 452.2h1.45M1382.7 459.6h1.45M1382.9 447.7h1.45M1383.0 460.5h1.45M1383.2 476.8h1.45M1383.3 435.6h1.45M1383.4 425.9h1.45M1383.6 432.2h1.45M1383.7 449.3h1.45M1383.8 458.6h1.45M1384.0 438.1h1.45M1384.1 463.6h1.45M1384.3 450.0h1.45M1384.4 445.1h1.45M1384.5 423.0h1.45M1384.7 432.5h1.45M1384.8 447.6h1.45M1384.9 451.3h1.45M1385.1 433.5h1.45M1385.2 461.1h1.45M1385.4 448.0h1.45M1385.5 451.4h1.45M1385.6 435.2h1.45M1385.8 428.6h1.45M1385.9 480.0h1.45M1386.0 424.7h1.45M1386.2 435.4h1.45M1386.3 448.3h1.45M1386.5 452.0h1.45M1386.6 458.4h1.45M1386.7 418.9h1.45M1386.9 463.5h1.45M1387.0 446.6h1.45M1387.1 444.9h1.45M1387.3 443.0h1.45M1387.4 438.6h1.45M1387.6 459.6h1.45M1387.7 422.9h1.45M1387.8 451.4h1.45M1388.0 417.2h1.45M1388.1 451.6h1.45M1388.2 444.7h1.45M1388.4 448.4h1.45M1388.5 426.0h1.45M1388.6 413.6h1.45M1388.8 465.5h1.45M1388.9 438.6h1.45M1389.1 411.9h1.45M1389.2 454.7h1.45M1389.3 459.8h1.45M1389.5 436.9h1.45M1389.6 439.8h1.45M1389.7 430.3h1.45M1389.9 456.4h1.45M1390.0 427.6h1.45M1390.2 428.4h1.45M1390.3 429.8h1.45M1390.4 452.9h1.45M1390.6 433.2h1.45M1390.7 437.0h1.45M1390.8 413.5h1.45M1391.0 427.1h1.45M1391.1 423.0h1.45M1391.3 428.7h1.45M1391.4 410.6h1.45M1391.5 442.8h1.45M1391.7 434.0h1.45M1391.8 409.5h1.45M1391.9 432.3h1.45M1392.1 420.1h1.45M1392.2 442.9h1.45M1392.4 418.6h1.45M1392.5 431.3h1.45M1392.6 431.3h1.45M1392.8 438.2h1.45M1392.9 444.6h1.45M1393.0 426.2h1.45M1393.2 405.7h1.45M1393.3 418.4h1.45M1393.5 446.1h1.45M1393.6 407.1h1.45M1393.7 420.1h1.45M1393.9 408.2h1.45M1394.0 405.7h1.45M1394.1 439.4h1.45M1394.3 417.0h1.45M1394.4 430.6h1.45M1394.6 430.1h1.45M1394.7 436.0h1.45M1394.8 448.8h1.45M1395.0 426.8h1.45M1395.1 405.7h1.45M1395.2 436.4h1.45M1395.4 431.2h1.45M1395.5 415.1h1.45M1395.7 417.4h1.45M1395.8 405.7h1.45M1395.9 435.3h1.45M1396.1 427.0h1.45M1396.2 410.5h1.45M1396.3 431.8h1.45M1396.5 421.4h1.45M1396.6 405.7h1.45M1396.8 405.7h1.45M1396.9 415.2h1.45M1397.0 446.7h1.45M1397.2 438.2h1.45M1397.3 414.3h1.45M1397.4 423.3h1.45M1397.6 435.7h1.45M1397.7 405.7h1.45M1397.9 415.1h1.45M1398.0 431.2h1.45M1398.1 416.1h1.45M1398.3 425.9h1.45M1398.4 414.5h1.45M1398.5 427.6h1.45M1398.7 409.4h1.45M1398.8 405.7h1.45M1399.0 426.6h1.45M1399.1 413.4h1.45M1399.2 410.5h1.45M1399.4 427.0h1.45M1399.5 405.7h1.45M1399.6 405.7h1.45M1399.8 430.4h1.45M1399.9 408.5h1.45M1400.0 405.7h1.45M1400.2 405.7h1.45M1400.3 424.2h1.45M1400.5 409.7h1.45M1400.6 430.2h1.45M1400.7 422.5h1.45M1400.9 405.7h1.45M1401.0 406.4h1.45M1401.1 411.8h1.45M1401.3 419.0h1.45M1401.4 407.9h1.45M1401.6 416.1h1.45M1401.7 411.2h1.45M1401.8 405.7h1.45M1402.0 408.9h1.45M1402.1 405.7h1.45M1402.2 434.2h1.45M1402.4 431.8h1.45M1402.5 405.7h1.45M1402.7 405.7h1.45M1402.8 408.7h1.45M1402.9 412.9h1.45M1403.1 425.9h1.45M1403.2 405.7h1.45M1403.3 405.7h1.45M1403.5 423.8h1.45M1403.6 408.2h1.45M1403.8 406.9h1.45M1403.9 405.7h1.45M1404.0 424.9h1.45M1404.2 409.3h1.45M1404.3 425.0h1.45M1404.4 405.7h1.45M1404.6 406.3h1.45M1404.7 417.0h1.45M1404.9 405.7h1.45M1405.0 405.7h1.45M1405.1 420.8h1.45M1405.3 405.7h1.45M1405.4 415.4h1.45M1405.5 405.7h1.45M1405.7 405.7h1.45M1405.8 428.7h1.45M1406.0 405.7h1.45M1406.1 408.5h1.45M1406.2 407.0h1.45M1406.4 416.5h1.45M1406.5 405.7h1.45M1406.6 417.0h1.45M1406.8 416.2h1.45M1406.9 413.6h1.45M1407.1 419.7h1.45M1407.2 405.7h1.45M1407.3 418.6h1.45M1407.5 422.7h1.45M1407.6 410.0h1.45M1407.7 406.9h1.45M1407.9 405.7h1.45M1408.0 405.7h1.45M1408.2 409.1h1.45M1408.3 409.2h1.45M1408.4 405.9h1.45M1408.6 405.7h1.45M1408.7 405.7h1.45M1408.8 411.7h1.45M1409.0 431.6h1.45M1409.1 405.7h1.45M1409.3 405.7h1.45M1409.4 405.7h1.45M1409.5 405.7h1.45M1409.7 410.5h1.45M1409.8 415.4h1.45M1409.9 408.7h1.45M1410.1 410.9h1.45M1410.2 411.5h1.45M1410.4 420.4h1.45M1410.5 408.8h1.45M1410.6 405.7h1.45M1410.8 410.9h1.45M1410.9 405.9h1.45M1411.0 426.2h1.45M1411.2 409.9h1.45M1411.3 406.4h1.45M1411.4 417.6h1.45M1411.6 424.1h1.45M1411.7 405.7h1.45M1411.9 414.1h1.45M1412.0 405.7h1.45M1412.1 415.5h1.45M1412.3 405.7h1.45M1412.4 411.0h1.45M1412.5 420.5h1.45M1412.7 407.1h1.45M1412.8 408.7h1.45M1413.0 405.7h1.45M1413.1 410.1h1.45M1413.2 414.0h1.45M1413.4 405.7h1.45M1413.5 405.7h1.45M1413.6 405.7h1.45M1413.8 405.7h1.45M1413.9 405.7h1.45M1414.1 405.7h1.45M1414.2 405.7h1.45M1414.3 405.7h1.45M1414.5 405.7h1.45M1414.6 405.7h1.45M1414.7 405.7h1.45M1414.9 406.4h1.45M1415.0 407.6h1.45M1415.2 410.5h1.45M1415.3 405.7h1.45M1415.4 405.8h1.45M1415.6 420.5h1.45M1415.7 428.4h1.45M1415.8 405.7h1.45M1416.0 423.9h1.45M1416.1 405.7h1.45M1416.3 407.2h1.45M1416.4 405.7h1.45M1416.5 405.7h1.45M1416.7 405.7h1.45M1416.8 410.8h1.45M1416.9 417.5h1.45M1417.1 416.7h1.45M1417.2 411.7h1.45M1417.4 426.5h1.45M1417.5 405.7h1.45M1417.6 413.0h1.45M1417.8 405.7h1.45M1417.9 420.3h1.45M1418.0 406.4h1.45M1418.2 413.0h1.45M1418.3 416.0h1.45M1418.5 433.3h1.45M1418.6 405.7h1.45M1418.7 405.7h1.45M1418.9 405.7h1.45M1419.0 411.3h1.45M1419.1 416.9h1.45M1419.3 405.7h1.45M1419.4 418.1h1.45M1419.6 405.7h1.45M1419.7 419.1h1.45M1419.8 427.4h1.45M1420.0 405.7h1.45M1420.1 407.9h1.45M1420.2 405.7h1.45M1420.4 405.7h1.45M1420.5 407.0h1.45M1420.7 412.5h1.45M1420.8 405.7h1.45M1420.9 415.1h1.45M1421.1 409.5h1.45M1421.2 434.9h1.45M1421.3 430.5h1.45M1421.5 416.1h1.45M1421.6 419.4h1.45M1421.8 406.7h1.45M1421.9 405.7h1.45M1422.0 424.2h1.45M1422.2 419.8h1.45M1422.3 440.1h1.45M1422.4 419.2h1.45M1422.6 418.1h1.45M1422.7 444.2h1.45M1422.8 437.1h1.45M1423.0 414.1h1.45M1423.1 408.7h1.45M1423.3 412.1h1.45M1423.4 424.1h1.45M1423.5 405.7h1.45M1423.7 412.4h1.45M1423.8 419.5h1.45M1423.9 405.7h1.45M1424.1 405.7h1.45M1424.2 428.3h1.45M1424.4 405.7h1.45M1424.5 421.2h1.45M1424.6 423.3h1.45M1424.8 419.4h1.45M1424.9 435.8h1.45M1425.0 405.7h1.45M1425.2 411.9h1.45M1425.3 435.8h1.45M1425.5 441.1h1.45M1425.6 418.9h1.45M1425.7 445.2h1.45M1425.9 421.7h1.45M1426.0 413.5h1.45M1426.1 427.3h1.45M1426.3 440.4h1.45M1426.4 412.7h1.45M1426.6 405.7h1.45M1426.7 419.4h1.45M1426.8 405.7h1.45M1427.0 422.3h1.45M1427.1 405.7h1.45M1427.2 412.5h1.45M1427.4 420.2h1.45M1427.5 408.8h1.45M1427.7 405.7h1.45M1427.8 411.1h1.45M1427.9 411.8h1.45M1428.1 408.0h1.45M1428.2 438.7h1.45M1428.3 407.2h1.45M1428.5 406.8h1.45M1428.6 424.6h1.45M1428.8 429.7h1.45M1428.9 405.7h1.45M1429.0 426.5h1.45M1429.2 432.0h1.45M1429.3 414.3h1.45M1429.4 419.8h1.45M1429.6 434.6h1.45M1429.7 462.1h1.45M1429.9 423.9h1.45M1430.0 447.8h1.45M1430.1 437.4h1.45M1430.3 405.7h1.45M1430.4 405.7h1.45M1430.5 422.0h1.45M1430.7 414.5h1.45M1430.8 421.7h1.45M1431.0 427.7h1.45M1431.1 437.3h1.45M1431.2 415.7h1.45M1431.4 409.4h1.45M1431.5 440.9h1.45M1431.6 435.1h1.45M1431.8 448.7h1.45M1431.9 444.8h1.45M1432.1 444.2h1.45M1432.2 451.5h1.45M1432.3 452.4h1.45M1432.5 448.2h1.45M1432.6 423.8h1.45M1432.7 425.8h1.45M1432.9 445.1h1.45M1433.0 439.5h1.45M1433.2 456.3h1.45M1433.3 483.0h1.45M1433.4 476.9h1.45M1433.6 424.3h1.45M1433.7 468.2h1.45M1433.8 453.5h1.45M1434.0 424.6h1.45M1434.1 427.7h1.45M1434.2 413.8h1.45M1434.4 417.2h1.45M1434.5 444.6h1.45M1434.7 406.7h1.45M1434.8 436.2h1.45M1434.9 454.1h1.45M1435.1 449.8h1.45M1435.2 452.9h1.45M1435.3 465.8h1.45M1435.5 464.4h1.45M1435.6 420.9h1.45M1435.8 455.7h1.45M1435.9 435.3h1.45M1436.0 473.0h1.45M1436.2 444.0h1.45M1436.3 463.7h1.45M1436.4 467.4h1.45M1436.6 492.6h1.45M1436.7 494.6h1.45M1436.9 463.2h1.45M1437.0 451.0h1.45M1437.1 407.5h1.45M1437.3 463.5h1.45M1437.4 433.8h1.45M1437.5 470.6h1.45M1437.7 458.5h1.45M1437.8 460.8h1.45M1438.0 482.8h1.45M1438.1 501.8h1.45M1438.2 470.4h1.45M1438.4 435.7h1.45M1438.5 467.3h1.45M1438.6 452.1h1.45M1438.8 452.9h1.45M1438.9 505.9h1.45M1439.1 468.7h1.45M1439.2 468.6h1.45M1439.3 470.3h1.45M1439.5 445.4h1.45M1439.6 478.4h1.45M1439.7 453.3h1.45M1439.9 475.5h1.45M1440.0 485.1h1.45M1440.2 493.8h1.45M1440.3 454.5h1.45M1440.4 455.9h1.45M1440.6 450.1h1.45M1440.7 499.9h1.45M1440.8 488.6h1.45M1441.0 522.9h1.45M1441.1 449.1h1.45M1441.3 499.5h1.45M1441.4 490.5h1.45M1441.5 479.7h1.45M1441.7 487.9h1.45M1441.8 530.5h1.45M1441.9 517.0h1.45M1442.1 459.8h1.45M1442.2 470.4h1.45M1442.4 477.5h1.45M1442.5 418.7h1.45M1442.6 485.0h1.45M1442.8 490.3h1.45M1442.9 514.8h1.45M1443.0 479.2h1.45M1443.2 485.9h1.45M1443.3 481.1h1.45M1443.5 483.9h1.45M1443.6 480.1h1.45M1443.7 474.2h1.45M1443.9 519.9h1.45M1444.0 506.1h1.45M1444.1 485.1h1.45M1444.3 472.6h1.45M1444.4 517.7h1.45M1444.6 454.4h1.45M1444.7 491.2h1.45M1444.8 515.2h1.45M1445.0 502.1h1.45M1445.1 532.8h1.45M1445.2 522.2h1.45M1445.4 553.3h1.45M1445.5 509.6h1.45M1445.6 524.1h1.45M1445.8 504.4h1.45M1445.9 498.2h1.45M1446.1 509.4h1.45M1446.2 435.2h1.45M1446.3 480.8h1.45M1446.5 526.3h1.45M1446.6 524.7h1.45M1446.7 512.0h1.45M1446.9 506.0h1.45M1447.0 532.0h1.45M1447.2 544.7h1.45M1447.3 482.0h1.45M1447.4 524.6h1.45M1447.6 508.9h1.45M1447.7 509.2h1.45M1447.8 518.3h1.45M1448.0 474.8h1.45M1448.1 492.3h1.45M1448.3 510.7h1.45M1448.4 577.2h1.45M1448.5 490.9h1.45M1448.7 496.8h1.45M1448.8 496.9h1.45M1448.9 514.9h1.45M1449.1 571.4h1.45M1449.2 496.1h1.45M1449.4 522.6h1.45M1449.5 547.1h1.45M1449.6 529.6h1.45M1449.8 521.5h1.45M1449.9 474.9h1.45M1450.0 527.4h1.45M1450.2 529.5h1.45M1450.3 460.4h1.45M1450.5 560.9h1.45M1450.6 533.6h1.45M1450.7 560.6h1.45M1450.9 469.3h1.45M1451.0 519.7h1.45M1451.1 489.7h1.45M1451.3 560.5h1.45M1451.4 525.1h1.45M1451.6 526.0h1.45M1451.7 555.2h1.45M1451.8 498.4h1.45M1452.0 488.9h1.45M1452.1 553.5h1.45M1452.2 527.2h1.45M1452.4 532.5h1.45M1452.5 484.8h1.45M1452.7 515.1h1.45M1452.8 550.9h1.45M1452.9 531.9h1.45M1453.1 544.2h1.45M1453.2 555.6h1.45M1453.3 517.6h1.45M1453.5 536.4h1.45M1453.6 548.6h1.45M1453.8 508.1h1.45M1453.9 540.7h1.45M1454.0 522.8h1.45M1454.2 545.0h1.45M1454.3 554.8h1.45M1454.4 535.3h1.45M1454.6 527.5h1.45M1454.7 573.2h1.45M1454.9 515.3h1.45M1455.0 592.0h1.45M1455.1 502.9h1.45M1455.3 557.9h1.45M1455.4 499.2h1.45M1455.5 533.4h1.45M1455.7 544.9h1.45M1455.8 549.3h1.45M1456.0 544.8h1.45M1456.1 549.7h1.45M1456.2 538.2h1.45M1456.4 539.8h1.45M1456.5 500.0h1.45M1456.6 546.4h1.45M1456.8 620.9h1.45M1456.9 558.1h1.45M1457.0 551.3h1.45M1457.2 517.5h1.45M1457.3 533.7h1.45M1457.5 558.4h1.45M1457.6 538.3h1.45M1457.7 562.5h1.45M1457.9 563.3h1.45M1458.0 549.3h1.45M1458.1 602.2h1.45M1458.3 535.2h1.45M1458.4 567.8h1.45M1458.6 577.7h1.45M1458.7 588.1h1.45M1458.8 521.5h1.45M1459.0 535.0h1.45M1459.1 590.1h1.45M1459.2 579.4h1.45M1459.4 525.3h1.45M1459.5 591.9h1.45M1459.7 629.0h1.45M1459.8 563.7h1.45M1459.9 579.2h1.45M1460.1 577.8h1.45M1460.2 598.2h1.45M1460.3 559.5h1.45M1460.5 574.0h1.45M1460.6 578.9h1.45M1460.8 602.5h1.45M1460.9 567.0h1.45M1461.0 544.3h1.45M1461.2 528.8h1.45M1461.3 543.4h1.45M1461.4 629.0h1.45M1461.6 592.2h1.45M1461.7 594.1h1.45M1461.9 573.9h1.45M1462.0 624.1h1.45M1462.1 544.7h1.45M1462.3 574.5h1.45M1462.4 583.8h1.45M1462.5 569.4h1.45M1462.7 613.5h1.45M1462.8 585.0h1.45M1463.0 559.6h1.45M1463.1 605.2h1.45M1463.2 618.7h1.45M1463.4 589.2h1.45M1463.5 568.5h1.45M1463.6 619.3h1.45M1463.8 558.6h1.45M1463.9 629.0h1.45M1464.1 534.5h1.45M1464.2 570.5h1.45M1464.3 599.6h1.45M1464.5 583.9h1.45M1464.6 544.1h1.45M1464.7 594.2h1.45M1464.9 629.0h1.45M1465.0 595.9h1.45M1465.2 518.8h1.45M1465.3 629.0h1.45M1465.4 567.7h1.45M1465.6 577.5h1.45M1465.7 591.8h1.45M1465.8 584.9h1.45M1466.0 600.7h1.45M1466.1 564.3h1.45M1466.3 572.5h1.45M1466.4 627.7h1.45M1466.5 543.7h1.45M1466.7 629.0h1.45M1466.8 558.0h1.45M1466.9 589.6h1.45M1467.1 550.1h1.45M1467.2 580.2h1.45M1467.4 563.5h1.45M1467.5 599.2h1.45M1467.6 549.3h1.45M1467.8 569.7h1.45M1467.9 530.0h1.45M1468.0 623.9h1.45" stroke="#0000ff" stroke-width="1.45" fill="none"/>
<polyline points="1194.2,427.5 1195.6,425.0 1197.0,422.7 1198.3,420.6 1199.7,418.7 1201.1,416.9 1202.5,415.4 1203.9,414.0 1205.2,412.9 1206.6,411.9 1208.0,411.2 1209.4,410.7 1210.8,410.4 1212.1,410.2 1213.5,410.3 1214.9,410.6 1216.3,411.2 1217.7,411.9 1219.0,412.8 1220.4,413.9 1221.8,415.3 1223.2,416.8 1224.6,418.5 1225.9,420.5 1227.3,422.6 1228.7,424.9 1230.1,427.3 1231.5,430.0 1232.9,432.8 1234.2,435.8 1235.6,438.9 1237.0,442.2 1238.4,445.7 1239.8,449.2 1241.1,453.0 1242.5,456.8 1243.9,460.8 1245.3,464.8 1246.7,469.0 1248.0,473.3 1249.4,477.6 1250.8,482.1 1252.2,486.5 1253.6,491.1 1254.9,495.7 1256.3,500.4 1257.7,505.1 1259.1,509.8 1260.5,514.5 1261.8,519.2 1263.2,523.9 1264.6,528.7 1266.0,533.3 1267.4,538.0 1268.7,542.6 1270.1,547.2 1271.5,551.7 1272.9,556.1 1274.3,560.5 1275.6,564.8 1277.0,569.0 1278.4,573.1 1279.8,577.1 1281.2,580.9 1282.5,584.7 1283.9,588.3 1285.3,591.8 1286.7,595.1 1288.1,598.3 1289.4,601.3 1290.8,604.1 1292.2,606.8 1293.6,609.3 1295.0,611.7 1296.3,613.8 1297.7,615.8 1299.1,617.5 1300.5,619.1 1301.9,620.5 1303.3,621.7 1304.6,622.6 1306.0,623.4 1307.4,624.0 1308.8,624.3 1310.2,624.4 1311.5,624.4 1312.9,624.1 1314.3,623.6 1315.7,622.9 1317.1,622.0 1318.4,620.9 1319.8,619.6 1321.2,618.1 1322.6,616.4 1324.0,614.5 1325.3,612.5 1326.7,610.2 1328.1,607.7 1329.5,605.1 1330.9,602.3 1332.2,599.4 1333.6,596.2 1335.0,593.0 1336.4,589.5 1337.8,586.0 1339.1,582.3 1340.5,578.5 1341.9,574.5 1343.3,570.5 1344.7,566.3 1346.0,562.0 1347.4,557.7 1348.8,553.3 1350.2,548.8 1351.6,544.2 1352.9,539.6 1354.3,535.0 1355.7,530.3 1357.1,525.6 1358.5,520.9 1359.8,516.2 1361.2,511.4 1362.6,506.7 1364.0,502.0 1365.4,497.4 1366.8,492.7 1368.1,488.2 1369.5,483.6 1370.9,479.2 1372.3,474.8 1373.7,470.5 1375.0,466.3 1376.4,462.2 1377.8,458.2 1379.2,454.3 1380.6,450.5 1381.9,446.9 1383.3,443.4 1384.7,440.1 1386.1,436.9 1387.5,433.8 1388.8,431.0 1390.2,428.2 1391.6,425.7 1393.0,423.4 1394.4,421.2 1395.7,419.2 1397.1,417.4 1398.5,415.8 1399.9,414.4 1401.3,413.2 1402.6,412.2 1404.0,411.4 1405.4,410.8 1406.8,410.4 1408.2,410.3 1409.5,410.3 1410.9,410.5 1412.3,411.0 1413.7,411.7 1415.1,412.5 1416.4,413.6 1417.8,414.9 1419.2,416.3 1420.6,418.0 1422.0,419.9 1423.3,421.9 1424.7,424.2 1426.1,426.6 1427.5,429.2 1428.9,432.0 1430.2,434.9 1431.6,438.0 1433.0,441.3 1434.4,444.7 1435.8,448.2 1437.2,451.9 1438.5,455.7 1439.9,459.6 1441.3,463.7 1442.7,467.8 1444.1,472.0 1445.4,476.4 1446.8,480.8 1448.2,485.3 1449.6,489.8 1451.0,494.4 1452.3,499.0 1453.7,503.7 1455.1,508.4 1456.5,513.1 1457.9,517.9 1459.2,522.6 1460.6,527.3 1462.0,532.0 1463.4,536.7 1464.8,541.3 1466.1,545.9 1467.5,550.4 1468.9,554.9" fill="none" stroke="#000" stroke-width="1.8"/>
<rect x="1194.2" y="405.2" width="274.70" height="224.30" fill="none" stroke="#000" stroke-width="2"/>
<path d="M1262.88,405.2v4.5M1262.88,629.5v-4.5M1331.55,405.2v4.5M1331.55,629.5v-4.5M1400.23,405.2v4.5M1400.23,629.5v-4.5M1194.2,461.27h4.5M1468.9,461.27h-4.5M1194.2,517.35h4.5M1468.9,517.35h-4.5M1194.2,573.42h4.5M1468.9,573.42h-4.5" stroke="#000" stroke-width="1.6" fill="none"/>
<text x="1127.73" y="48.20" font-size="52" font-weight="bold" textLength="23.83" lengthAdjust="spacingAndGlyphs" >c</text>
<text x="1172.20" y="82.50" font-size="27.5" textLength="16.77" lengthAdjust="spacingAndGlyphs" >1</text>
<text x="1171.80" y="194.40" font-size="27.5" textLength="17.10" lengthAdjust="spacingAndGlyphs" >0</text>
<text x="1162.74" y="307.30" font-size="27.5" textLength="25.25" lengthAdjust="spacingAndGlyphs" >-1</text>
<text x="1186.06" y="327.40" font-size="27.5" textLength="16.29" lengthAdjust="spacingAndGlyphs" >0</text>
<text x="1301.25" y="326.70" font-size="27.5" textLength="60.01" lengthAdjust="spacingAndGlyphs" >1000</text>
<text x="1437.86" y="326.70" font-size="27.5" textLength="59.28" lengthAdjust="spacingAndGlyphs" >2000</text>
<text x="1266.72" y="351.80" font-size="27.5" textLength="128.64" lengthAdjust="spacingAndGlyphs" >Roundtrips</text>
<text transform="translate(1157.50,259.20) rotate(-90)" x="-2.04" y="0" font-size="27.5" textLength="154.18" lengthAdjust="spacingAndGlyphs">Phase (Cosφ)</text>
<text x="1126.94" y="387.80" font-size="52" font-weight="bold" textLength="18.75" lengthAdjust="spacingAndGlyphs" >f</text>
<text x="1172.20" y="415.10" font-size="27.5" textLength="16.77" lengthAdjust="spacingAndGlyphs" >1</text>
<text x="1171.80" y="525.40" font-size="27.5" textLength="17.10" lengthAdjust="spacingAndGlyphs" >0</text>
<text x="1162.74" y="640.40" font-size="27.5" textLength="25.25" lengthAdjust="spacingAndGlyphs" >-1</text>
<text x="1186.06" y="661.60" font-size="27.5" textLength="16.29" lengthAdjust="spacingAndGlyphs" >0</text>
<text x="1300.11" y="662.70" font-size="27.5" textLength="61.17" lengthAdjust="spacingAndGlyphs" >1000</text>
<text x="1438.12" y="662.70" font-size="27.5" textLength="60.95" lengthAdjust="spacingAndGlyphs" >2000</text>
<text x="1265.39" y="684.60" font-size="27.5" textLength="130.39" lengthAdjust="spacingAndGlyphs" >Roundtrips</text>
<text transform="translate(1157.50,591.70) rotate(-90)" x="-2.03" y="0" font-size="27.5" textLength="153.56" lengthAdjust="spacingAndGlyphs">Phase (Cosφ)</text></svg></body></html>
